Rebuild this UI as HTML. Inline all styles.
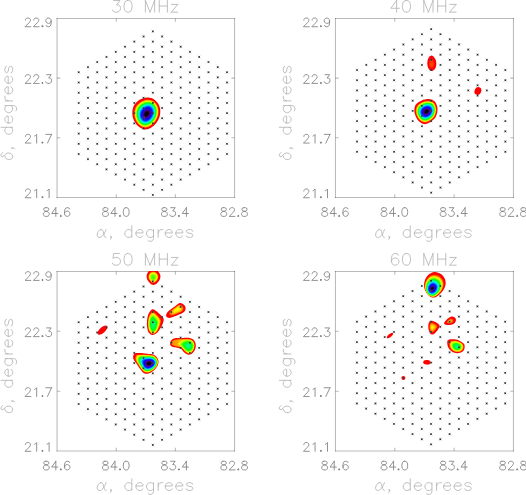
<!DOCTYPE html><html><head><meta charset="utf-8"><title>beams</title>
<style>html,body{margin:0;padding:0;background:#fff;font-family:"Liberation Sans",sans-serif}svg{display:block}</style></head><body>
<svg width="526" height="495" viewBox="0 0 526 495">
<rect width="526" height="495" fill="#fff"/>
<defs>
<g id="mk"><path d="M-1.4 -1.4L1.4 1.4M-1.4 1.4L1.4 -1.4" stroke="#999" stroke-width="0.45" fill="none"/><rect x="-0.8" y="-0.8" width="1.6" height="1.6" fill="#303030"/></g>
<clipPath id="cp0"><rect x="56.55" y="17.95" width="178.70" height="180.30"/></clipPath>
<clipPath id="cp1"><rect x="334.95" y="17.95" width="178.70" height="180.30"/></clipPath>
<clipPath id="cp2"><rect x="56.55" y="271.00" width="178.70" height="180.30"/></clipPath>
<clipPath id="cp3"><rect x="334.95" y="271.00" width="178.70" height="180.30"/></clipPath>
</defs>
<g stroke="#000" stroke-opacity="0.27" stroke-width="1.05" fill="none">
<path d="M56.55 18.45H235.05"/><path d="M56.55 197.45H235.05"/><path d="M57.05 17.95V197.95"/><path d="M234.55 17.95V197.95"/>
<path d="M116.22 18.45v3.20 M116.22 197.45v-3.20 M57.05 78.12h3.20 M234.55 78.12h-3.20 M175.38 18.45v3.20 M175.38 197.45v-3.20 M57.05 137.78h3.20 M234.55 137.78h-3.20"/>
</g>
<g clip-path="url(#cp0)">
<path d="M148.2 97.5C150.1 97.7 152.3 98.2 154.1 99.4C155.8 100.5 157.6 102.5 158.6 104.4C159.7 106.3 160.2 108.5 160.3 110.7C160.3 113.0 160.0 115.7 159.1 118.0C158.2 120.3 156.6 122.6 155.0 124.4C153.4 126.1 151.4 127.6 149.5 128.5C147.7 129.3 145.9 129.7 144.1 129.4C142.3 129.1 140.3 128.1 138.6 126.6C137.0 125.2 135.2 122.9 134.1 120.7C133.0 118.5 132.3 115.9 132.3 113.5C132.2 111.0 132.7 108.2 133.6 106.2C134.5 104.1 136.2 102.5 137.7 101.2C139.2 99.9 141.0 99.1 142.7 98.5C144.5 97.8 146.3 97.4 148.2 97.5Z" fill="#ff0000"/>
<path d="M148.0 99.5C149.7 99.6 151.7 100.0 153.3 101.0C154.8 102.0 156.4 103.7 157.3 105.4C158.2 107.1 158.7 109.1 158.7 111.1C158.8 113.1 158.4 115.5 157.6 117.5C156.8 119.5 155.4 121.6 154.0 123.1C152.6 124.6 150.8 126.0 149.2 126.7C147.6 127.5 146.0 127.9 144.4 127.6C142.8 127.4 141.0 126.6 139.5 125.3C138.0 124.1 136.4 121.9 135.5 120.0C134.6 118.0 134.1 115.6 134.1 113.5C134.1 111.4 134.6 109.0 135.4 107.2C136.2 105.5 137.6 104.0 139.0 102.9C140.3 101.8 141.7 101.0 143.2 100.4C144.8 99.9 146.3 99.4 148.0 99.5Z" fill="#ff5700"/>
<path d="M148.0 100.1C149.6 100.2 151.5 100.6 153.0 101.5C154.5 102.4 156.1 104.1 156.9 105.7C157.8 107.4 158.2 109.3 158.2 111.2C158.2 113.1 157.9 115.4 157.1 117.3C156.4 119.3 155.0 121.2 153.7 122.7C152.4 124.2 150.6 125.4 149.1 126.2C147.6 126.9 146.1 127.3 144.5 127.1C142.9 126.9 141.2 126.1 139.7 124.9C138.3 123.7 136.8 121.6 136.0 119.7C135.1 117.8 134.7 115.6 134.7 113.5C134.7 111.5 135.2 109.2 136.0 107.6C136.8 105.9 138.1 104.5 139.3 103.4C140.6 102.4 142.0 101.6 143.4 101.1C144.9 100.5 146.4 100.1 148.0 100.1Z" fill="#ffb700"/>
<path d="M147.9 100.8C149.4 100.8 151.3 101.1 152.8 102.0C154.2 102.9 155.7 104.5 156.5 106.1C157.3 107.6 157.7 109.5 157.7 111.3C157.7 113.2 157.4 115.4 156.6 117.2C155.9 119.0 154.6 120.9 153.4 122.3C152.1 123.7 150.5 124.9 149.0 125.6C147.5 126.3 146.1 126.7 144.6 126.5C143.1 126.3 141.4 125.6 140.0 124.5C138.7 123.3 137.2 121.3 136.4 119.5C135.6 117.7 135.3 115.5 135.3 113.5C135.3 111.6 135.8 109.5 136.6 107.9C137.3 106.3 138.5 105.0 139.7 104.0C140.9 102.9 142.2 102.2 143.6 101.7C144.9 101.1 146.4 100.7 147.9 100.8Z" fill="#f8ff00"/>
<path d="M147.9 101.4C149.3 101.4 151.1 101.7 152.5 102.5C153.9 103.4 155.3 104.9 156.1 106.4C156.9 107.9 157.2 109.7 157.2 111.4C157.2 113.2 156.9 115.3 156.2 117.0C155.5 118.8 154.3 120.5 153.1 121.9C151.8 123.2 150.3 124.4 148.9 125.1C147.5 125.7 146.1 126.1 144.7 125.9C143.3 125.8 141.6 125.2 140.3 124.0C139.0 122.9 137.6 121.0 136.9 119.2C136.1 117.5 135.8 115.4 135.9 113.6C135.9 111.7 136.4 109.7 137.1 108.2C137.8 106.7 139.0 105.5 140.1 104.5C141.2 103.5 142.4 102.8 143.7 102.3C145.0 101.8 146.4 101.3 147.9 101.4Z" fill="#afff00"/>
<path d="M147.8 102.0C149.2 102.0 150.9 102.3 152.2 103.1C153.5 103.9 154.9 105.4 155.6 106.8C156.4 108.2 156.7 109.9 156.7 111.6C156.7 113.2 156.4 115.2 155.7 116.9C155.0 118.5 153.9 120.2 152.7 121.5C151.6 122.8 150.1 123.9 148.8 124.5C147.5 125.2 146.2 125.5 144.8 125.4C143.4 125.2 141.8 124.7 140.6 123.6C139.3 122.5 138.0 120.7 137.3 119.0C136.6 117.3 136.4 115.3 136.4 113.6C136.5 111.8 137.0 110.0 137.6 108.5C138.3 107.1 139.4 105.9 140.5 105.0C141.5 104.1 142.7 103.4 143.9 102.9C145.1 102.4 146.4 102.0 147.8 102.0Z" fill="#5bff00"/>
<path d="M147.8 102.6C149.1 102.6 150.7 102.8 152.0 103.6C153.2 104.3 154.5 105.8 155.2 107.1C155.9 108.5 156.2 110.1 156.2 111.7C156.2 113.3 155.9 115.1 155.2 116.7C154.6 118.3 153.5 119.9 152.4 121.1C151.3 122.3 150.0 123.4 148.7 124.0C147.4 124.6 146.2 124.9 144.9 124.8C143.6 124.7 142.1 124.2 140.9 123.2C139.7 122.1 138.4 120.3 137.8 118.7C137.1 117.2 136.9 115.3 137.0 113.6C137.1 111.9 137.5 110.2 138.2 108.8C138.8 107.5 139.8 106.4 140.8 105.5C141.8 104.6 142.9 104.0 144.1 103.5C145.2 103.0 146.4 102.6 147.8 102.6Z" fill="#02ff00"/>
<path d="M147.7 103.2C149.0 103.2 150.5 103.4 151.7 104.1C152.9 104.8 154.1 106.2 154.8 107.5C155.5 108.7 155.7 110.3 155.7 111.8C155.7 113.3 155.4 115.1 154.8 116.6C154.2 118.0 153.2 119.6 152.1 120.7C151.1 121.8 149.8 122.8 148.6 123.4C147.4 124.0 146.2 124.4 145.0 124.2C143.7 124.1 142.3 123.7 141.2 122.7C140.0 121.7 138.8 120.0 138.2 118.5C137.6 117.0 137.5 115.2 137.6 113.6C137.6 112.1 138.1 110.4 138.7 109.1C139.3 107.9 140.3 106.9 141.2 106.0C142.1 105.2 143.1 104.6 144.2 104.1C145.3 103.6 146.5 103.2 147.7 103.2Z" fill="#00ff46"/>
<path d="M147.7 103.8C148.8 103.8 150.3 104.0 151.4 104.6C152.6 105.3 153.7 106.6 154.4 107.8C155.0 109.0 155.2 110.5 155.2 111.9C155.2 113.4 154.9 115.0 154.3 116.4C153.8 117.8 152.8 119.2 151.8 120.3C150.8 121.4 149.6 122.3 148.5 122.9C147.4 123.5 146.3 123.8 145.1 123.7C143.9 123.6 142.5 123.2 141.4 122.2C140.4 121.3 139.3 119.7 138.7 118.2C138.2 116.8 138.0 115.1 138.1 113.6C138.2 112.2 138.6 110.6 139.2 109.4C139.8 108.3 140.7 107.3 141.5 106.5C142.4 105.7 143.4 105.1 144.4 104.7C145.4 104.2 146.5 103.8 147.7 103.8Z" fill="#00ff90"/>
<path d="M147.6 104.4C148.7 104.4 150.1 104.6 151.2 105.2C152.2 105.8 153.3 107.0 153.9 108.2C154.5 109.3 154.7 110.7 154.7 112.0C154.7 113.4 154.4 114.9 153.9 116.3C153.3 117.6 152.4 118.9 151.5 119.9C150.6 120.9 149.4 121.8 148.4 122.3C147.3 122.9 146.3 123.2 145.2 123.1C144.1 123.0 142.7 122.6 141.7 121.8C140.7 120.9 139.7 119.4 139.2 118.0C138.7 116.6 138.6 115.0 138.7 113.7C138.8 112.3 139.2 110.9 139.7 109.7C140.2 108.6 141.1 107.7 141.9 107.0C142.7 106.3 143.6 105.7 144.5 105.3C145.5 104.8 146.5 104.5 147.6 104.4Z" fill="#00ffe0"/>
<path d="M147.5 105.0C148.6 105.0 149.9 105.1 150.9 105.7C151.9 106.3 152.9 107.4 153.5 108.5C154.1 109.6 154.2 110.9 154.2 112.2C154.2 113.4 153.9 114.9 153.4 116.1C152.9 117.3 152.1 118.6 151.2 119.5C150.4 120.5 149.3 121.3 148.3 121.8C147.3 122.3 146.3 122.6 145.3 122.5C144.2 122.5 143.0 122.1 142.0 121.3C141.1 120.5 140.1 119.0 139.6 117.7C139.2 116.5 139.1 115.0 139.2 113.7C139.3 112.4 139.7 111.1 140.2 110.0C140.7 109.0 141.5 108.2 142.2 107.5C143.0 106.8 143.8 106.3 144.7 105.9C145.6 105.5 146.5 105.1 147.5 105.0Z" fill="#00d5ff"/>
<path d="M147.5 105.7C148.5 105.6 149.7 105.7 150.6 106.2C151.6 106.8 152.5 107.8 153.1 108.9C153.6 109.9 153.7 111.1 153.7 112.3C153.7 113.5 153.4 114.8 152.9 116.0C152.5 117.1 151.7 118.2 150.9 119.1C150.1 120.0 149.1 120.8 148.2 121.3C147.3 121.7 146.4 122.0 145.4 122.0C144.4 121.9 143.2 121.6 142.3 120.9C141.5 120.1 140.5 118.7 140.1 117.5C139.7 116.3 139.6 114.9 139.7 113.7C139.8 112.5 140.2 111.3 140.7 110.3C141.2 109.4 141.9 108.6 142.6 108.0C143.2 107.3 144.0 106.8 144.8 106.4C145.7 106.0 146.5 105.7 147.5 105.7Z" fill="#0092ff"/>
<path d="M147.4 106.3C148.3 106.2 149.5 106.3 150.4 106.8C151.2 107.3 152.2 108.3 152.6 109.2C153.1 110.1 153.3 111.3 153.2 112.4C153.2 113.5 152.9 114.7 152.5 115.8C152.1 116.9 151.3 117.9 150.6 118.7C149.9 119.6 148.9 120.3 148.1 120.7C147.2 121.2 146.4 121.5 145.5 121.4C144.6 121.3 143.5 121.1 142.6 120.4C141.8 119.7 141.0 118.4 140.6 117.2C140.2 116.1 140.2 114.8 140.3 113.7C140.4 112.6 140.8 111.5 141.2 110.6C141.6 109.7 142.3 109.0 142.9 108.4C143.5 107.8 144.2 107.4 145.0 107.0C145.7 106.6 146.5 106.3 147.4 106.3Z" fill="#005bff"/>
<path d="M147.4 106.9C148.2 106.8 149.3 106.9 150.1 107.3C150.9 107.8 151.8 108.7 152.2 109.6C152.6 110.4 152.8 111.5 152.7 112.5C152.7 113.5 152.4 114.7 152.0 115.6C151.6 116.6 151.0 117.6 150.3 118.4C149.6 119.1 148.8 119.8 148.0 120.2C147.2 120.6 146.4 120.9 145.6 120.8C144.7 120.8 143.7 120.6 142.9 119.9C142.2 119.3 141.4 118.0 141.0 117.0C140.7 116.0 140.7 114.7 140.8 113.7C140.9 112.7 141.3 111.7 141.7 110.9C142.1 110.1 142.6 109.4 143.2 108.9C143.8 108.3 144.4 107.9 145.1 107.6C145.8 107.2 146.6 106.9 147.4 106.9Z" fill="#0031ff"/>
<path d="M147.3 107.5C148.1 107.4 149.1 107.4 149.8 107.9C150.6 108.3 151.3 109.1 151.7 109.9C152.1 110.7 152.3 111.7 152.2 112.6C152.2 113.6 152.0 114.6 151.6 115.5C151.2 116.4 150.6 117.3 150.0 118.0C149.4 118.7 148.6 119.3 147.9 119.7C147.2 120.0 146.5 120.3 145.7 120.3C144.9 120.2 143.9 120.0 143.2 119.4C142.6 118.9 141.8 117.7 141.5 116.7C141.2 115.8 141.2 114.7 141.3 113.7C141.4 112.8 141.8 111.9 142.1 111.2C142.5 110.4 143.0 109.9 143.5 109.3C144.1 108.8 144.6 108.4 145.3 108.1C145.9 107.8 146.6 107.5 147.3 107.5Z" fill="#0008ff"/>
<path d="M147.3 108.0C148.0 108.0 148.9 108.0 149.6 108.4C150.2 108.8 150.9 109.5 151.3 110.3C151.7 111.0 151.8 111.9 151.7 112.7C151.7 113.6 151.5 114.5 151.1 115.4C150.8 116.2 150.3 117.0 149.7 117.6C149.1 118.2 148.4 118.8 147.8 119.1C147.1 119.5 146.5 119.7 145.8 119.7C145.1 119.7 144.2 119.5 143.6 119.0C142.9 118.4 142.3 117.4 142.0 116.5C141.7 115.6 141.8 114.6 141.9 113.7C142.0 112.9 142.3 112.1 142.6 111.4C142.9 110.8 143.4 110.3 143.9 109.8C144.3 109.3 144.9 109.0 145.4 108.7C146.0 108.4 146.6 108.1 147.3 108.0Z" fill="#1700ec"/>
<path d="M147.2 108.6C147.9 108.6 148.7 108.6 149.3 108.9C149.9 109.3 150.5 110.0 150.9 110.6C151.2 111.3 151.3 112.1 151.2 112.9C151.2 113.6 151.0 114.5 150.7 115.2C150.4 115.9 149.9 116.7 149.4 117.2C148.9 117.8 148.3 118.3 147.7 118.6C147.1 118.9 146.5 119.1 145.9 119.1C145.3 119.1 144.4 119.0 143.9 118.5C143.3 118.0 142.7 117.0 142.5 116.2C142.2 115.4 142.3 114.5 142.4 113.8C142.5 113.0 142.8 112.3 143.1 111.7C143.4 111.1 143.8 110.6 144.2 110.2C144.6 109.8 145.1 109.5 145.6 109.2C146.1 109.0 146.6 108.7 147.2 108.6Z" fill="#3300d5"/>
<path d="M147.2 109.2C147.7 109.2 148.5 109.2 149.0 109.5C149.6 109.8 150.1 110.4 150.4 111.0C150.7 111.6 150.8 112.3 150.8 113.0C150.7 113.6 150.5 114.4 150.3 115.1C150.0 115.7 149.6 116.3 149.1 116.8C148.7 117.4 148.1 117.8 147.6 118.1C147.1 118.4 146.6 118.6 146.0 118.5C145.4 118.5 144.7 118.4 144.2 118.0C143.7 117.6 143.2 116.7 142.9 116.0C142.7 115.3 142.8 114.4 142.9 113.8C143.0 113.1 143.2 112.5 143.5 112.0C143.8 111.4 144.1 111.0 144.5 110.7C144.9 110.3 145.3 110.0 145.7 109.8C146.2 109.5 146.6 109.3 147.2 109.2Z" fill="#4000b0"/>
<path d="M147.1 109.8C147.6 109.8 148.3 109.8 148.7 110.0C149.2 110.3 149.7 110.8 150.0 111.3C150.2 111.9 150.3 112.5 150.3 113.1C150.2 113.7 150.1 114.3 149.8 114.9C149.6 115.5 149.2 116.0 148.8 116.5C148.4 116.9 147.9 117.3 147.5 117.5C147.0 117.8 146.6 118.0 146.1 118.0C145.6 118.0 144.9 117.9 144.5 117.5C144.1 117.1 143.6 116.3 143.4 115.7C143.2 115.1 143.3 114.4 143.4 113.8C143.5 113.2 143.7 112.7 143.9 112.2C144.2 111.8 144.5 111.4 144.8 111.1C145.1 110.8 145.5 110.5 145.9 110.3C146.2 110.1 146.7 109.9 147.1 109.8Z" fill="#460084"/>
<path d="M147.1 110.4C147.5 110.4 148.1 110.4 148.5 110.6C148.9 110.8 149.3 111.3 149.5 111.7C149.7 112.1 149.8 112.7 149.8 113.2C149.7 113.7 149.6 114.3 149.4 114.8C149.2 115.2 148.9 115.7 148.5 116.1C148.2 116.5 147.8 116.8 147.4 117.0C147.0 117.2 146.6 117.4 146.2 117.4C145.8 117.4 145.2 117.3 144.8 117.0C144.4 116.7 144.1 116.0 143.9 115.5C143.7 114.9 143.8 114.3 143.9 113.8C144.0 113.3 144.2 112.9 144.4 112.5C144.6 112.1 144.8 111.8 145.1 111.5C145.4 111.2 145.7 111.0 146.0 110.8C146.3 110.6 146.7 110.5 147.1 110.4Z" fill="#39005e"/>
<path d="M147.0 111.0C147.4 111.0 147.9 110.9 148.2 111.1C148.5 111.3 148.9 111.7 149.1 112.1C149.3 112.4 149.3 112.9 149.3 113.3C149.2 113.7 149.1 114.2 148.9 114.6C148.8 115.0 148.5 115.4 148.2 115.7C148.0 116.0 147.6 116.3 147.3 116.5C147.0 116.7 146.6 116.8 146.3 116.8C145.9 116.8 145.5 116.8 145.1 116.5C144.8 116.2 144.5 115.6 144.4 115.2C144.3 114.8 144.3 114.2 144.4 113.8C144.5 113.4 144.6 113.0 144.8 112.7C145.0 112.4 145.2 112.2 145.4 111.9C145.6 111.7 145.9 111.5 146.1 111.4C146.4 111.2 146.7 111.0 147.0 111.0Z" fill="#24003a"/>
<path d="M147.0 111.6C147.3 111.6 147.6 111.5 147.9 111.7C148.2 111.8 148.5 112.1 148.6 112.4C148.8 112.7 148.8 113.1 148.8 113.4C148.8 113.8 148.7 114.2 148.5 114.5C148.4 114.8 148.2 115.1 147.9 115.4C147.7 115.6 147.4 115.8 147.2 116.0C146.9 116.1 146.7 116.2 146.4 116.2C146.1 116.2 145.7 116.2 145.5 116.0C145.2 115.8 145.0 115.3 144.9 114.9C144.8 114.6 144.8 114.2 144.9 113.8C144.9 113.5 145.1 113.2 145.2 113.0C145.3 112.7 145.5 112.5 145.7 112.3C145.9 112.2 146.0 112.0 146.3 111.9C146.5 111.8 146.7 111.6 147.0 111.6Z" fill="#0f0017"/>
<path d="M146.9 112.2C147.2 112.1 147.4 112.1 147.6 112.2C147.8 112.3 148.1 112.6 148.2 112.8C148.3 113.0 148.3 113.3 148.3 113.6C148.3 113.8 148.2 114.1 148.1 114.3C148.0 114.6 147.8 114.8 147.7 115.0C147.5 115.2 147.3 115.3 147.1 115.5C146.9 115.6 146.7 115.6 146.5 115.6C146.3 115.6 146.0 115.6 145.8 115.5C145.6 115.3 145.4 115.0 145.3 114.7C145.3 114.4 145.3 114.1 145.4 113.9C145.4 113.6 145.5 113.4 145.6 113.2C145.7 113.0 145.8 112.9 146.0 112.7C146.1 112.6 146.2 112.5 146.4 112.4C146.6 112.3 146.7 112.2 146.9 112.2Z" fill="#09000d"/>
<path d="M146.9 112.7C147.0 112.7 147.2 112.7 147.4 112.8C147.5 112.9 147.6 113.0 147.7 113.2C147.8 113.3 147.8 113.5 147.8 113.7C147.8 113.8 147.7 114.0 147.7 114.2C147.6 114.3 147.5 114.5 147.4 114.6C147.3 114.8 147.1 114.9 147.0 114.9C146.9 115.0 146.7 115.1 146.6 115.1C146.5 115.1 146.3 115.1 146.1 114.9C146.0 114.8 145.9 114.6 145.8 114.4C145.8 114.2 145.8 114.0 145.9 113.9C145.9 113.7 146.0 113.6 146.0 113.4C146.1 113.3 146.2 113.2 146.3 113.1C146.3 113.0 146.4 113.0 146.5 112.9C146.6 112.8 146.8 112.8 146.9 112.7Z" fill="#050008"/>
<path d="M146.8 113.3C146.9 113.3 147.0 113.3 147.1 113.3C147.1 113.4 147.2 113.5 147.3 113.5C147.3 113.6 147.3 113.7 147.3 113.8C147.3 113.9 147.3 114.0 147.2 114.0C147.2 114.1 147.1 114.2 147.1 114.3C147.0 114.3 147.0 114.4 146.9 114.4C146.8 114.5 146.8 114.5 146.7 114.5C146.6 114.5 146.5 114.5 146.5 114.4C146.4 114.4 146.3 114.3 146.3 114.2C146.3 114.1 146.3 114.0 146.3 113.9C146.3 113.8 146.4 113.7 146.4 113.7C146.4 113.6 146.5 113.6 146.5 113.5C146.6 113.5 146.6 113.4 146.7 113.4C146.7 113.4 146.8 113.3 146.8 113.3Z" fill="#020003"/>
</g>
<g><use href="#mk" x="78.69" y="72.27"/><use href="#mk" x="78.69" y="82.49"/><use href="#mk" x="78.69" y="92.71"/><use href="#mk" x="78.69" y="102.93"/><use href="#mk" x="78.69" y="113.15"/><use href="#mk" x="78.69" y="123.37"/><use href="#mk" x="78.69" y="133.59"/><use href="#mk" x="78.69" y="143.81"/><use href="#mk" x="78.69" y="154.03"/><use href="#mk" x="87.96" y="67.16"/><use href="#mk" x="87.96" y="77.38"/><use href="#mk" x="87.96" y="87.60"/><use href="#mk" x="87.96" y="97.82"/><use href="#mk" x="87.96" y="108.04"/><use href="#mk" x="87.96" y="118.26"/><use href="#mk" x="87.96" y="128.48"/><use href="#mk" x="87.96" y="138.70"/><use href="#mk" x="87.96" y="148.92"/><use href="#mk" x="87.96" y="159.14"/><use href="#mk" x="97.23" y="62.05"/><use href="#mk" x="97.23" y="72.27"/><use href="#mk" x="97.23" y="82.49"/><use href="#mk" x="97.23" y="92.71"/><use href="#mk" x="97.23" y="102.93"/><use href="#mk" x="97.23" y="113.15"/><use href="#mk" x="97.23" y="123.37"/><use href="#mk" x="97.23" y="133.59"/><use href="#mk" x="97.23" y="143.81"/><use href="#mk" x="97.23" y="154.03"/><use href="#mk" x="97.23" y="164.25"/><use href="#mk" x="106.50" y="56.94"/><use href="#mk" x="106.50" y="67.16"/><use href="#mk" x="106.50" y="77.38"/><use href="#mk" x="106.50" y="87.60"/><use href="#mk" x="106.50" y="97.82"/><use href="#mk" x="106.50" y="108.04"/><use href="#mk" x="106.50" y="118.26"/><use href="#mk" x="106.50" y="128.48"/><use href="#mk" x="106.50" y="138.70"/><use href="#mk" x="106.50" y="148.92"/><use href="#mk" x="106.50" y="159.14"/><use href="#mk" x="106.50" y="169.36"/><use href="#mk" x="115.77" y="51.83"/><use href="#mk" x="115.77" y="62.05"/><use href="#mk" x="115.77" y="72.27"/><use href="#mk" x="115.77" y="82.49"/><use href="#mk" x="115.77" y="92.71"/><use href="#mk" x="115.77" y="102.93"/><use href="#mk" x="115.77" y="113.15"/><use href="#mk" x="115.77" y="123.37"/><use href="#mk" x="115.77" y="133.59"/><use href="#mk" x="115.77" y="143.81"/><use href="#mk" x="115.77" y="154.03"/><use href="#mk" x="115.77" y="164.25"/><use href="#mk" x="115.77" y="174.47"/><use href="#mk" x="125.04" y="46.72"/><use href="#mk" x="125.04" y="56.94"/><use href="#mk" x="125.04" y="67.16"/><use href="#mk" x="125.04" y="77.38"/><use href="#mk" x="125.04" y="87.60"/><use href="#mk" x="125.04" y="97.82"/><use href="#mk" x="125.04" y="108.04"/><use href="#mk" x="125.04" y="118.26"/><use href="#mk" x="125.04" y="128.48"/><use href="#mk" x="125.04" y="138.70"/><use href="#mk" x="125.04" y="148.92"/><use href="#mk" x="125.04" y="159.14"/><use href="#mk" x="125.04" y="169.36"/><use href="#mk" x="125.04" y="179.58"/><use href="#mk" x="134.31" y="41.61"/><use href="#mk" x="134.31" y="51.83"/><use href="#mk" x="134.31" y="62.05"/><use href="#mk" x="134.31" y="72.27"/><use href="#mk" x="134.31" y="82.49"/><use href="#mk" x="134.31" y="92.71"/><use href="#mk" x="134.31" y="102.93"/><use href="#mk" x="134.31" y="113.15"/><use href="#mk" x="134.31" y="123.37"/><use href="#mk" x="134.31" y="133.59"/><use href="#mk" x="134.31" y="143.81"/><use href="#mk" x="134.31" y="154.03"/><use href="#mk" x="134.31" y="164.25"/><use href="#mk" x="134.31" y="174.47"/><use href="#mk" x="134.31" y="184.69"/><use href="#mk" x="143.58" y="36.50"/><use href="#mk" x="143.58" y="46.72"/><use href="#mk" x="143.58" y="56.94"/><use href="#mk" x="143.58" y="67.16"/><use href="#mk" x="143.58" y="77.38"/><use href="#mk" x="143.58" y="87.60"/><use href="#mk" x="143.58" y="97.82"/><use href="#mk" x="143.58" y="108.04"/><use href="#mk" x="143.58" y="118.26"/><use href="#mk" x="143.58" y="128.48"/><use href="#mk" x="143.58" y="138.70"/><use href="#mk" x="143.58" y="148.92"/><use href="#mk" x="143.58" y="159.14"/><use href="#mk" x="143.58" y="169.36"/><use href="#mk" x="143.58" y="179.58"/><use href="#mk" x="143.58" y="189.80"/><use href="#mk" x="152.85" y="31.39"/><use href="#mk" x="152.85" y="41.61"/><use href="#mk" x="152.85" y="51.83"/><use href="#mk" x="152.85" y="62.05"/><use href="#mk" x="152.85" y="72.27"/><use href="#mk" x="152.85" y="82.49"/><use href="#mk" x="152.85" y="92.71"/><use href="#mk" x="152.85" y="102.93"/><use href="#mk" x="152.85" y="113.15"/><use href="#mk" x="152.85" y="123.37"/><use href="#mk" x="152.85" y="133.59"/><use href="#mk" x="152.85" y="143.81"/><use href="#mk" x="152.85" y="154.03"/><use href="#mk" x="152.85" y="164.25"/><use href="#mk" x="152.85" y="174.47"/><use href="#mk" x="152.85" y="184.69"/><use href="#mk" x="152.85" y="194.91"/><use href="#mk" x="162.12" y="36.50"/><use href="#mk" x="162.12" y="46.72"/><use href="#mk" x="162.12" y="56.94"/><use href="#mk" x="162.12" y="67.16"/><use href="#mk" x="162.12" y="77.38"/><use href="#mk" x="162.12" y="87.60"/><use href="#mk" x="162.12" y="97.82"/><use href="#mk" x="162.12" y="108.04"/><use href="#mk" x="162.12" y="118.26"/><use href="#mk" x="162.12" y="128.48"/><use href="#mk" x="162.12" y="138.70"/><use href="#mk" x="162.12" y="148.92"/><use href="#mk" x="162.12" y="159.14"/><use href="#mk" x="162.12" y="169.36"/><use href="#mk" x="162.12" y="179.58"/><use href="#mk" x="162.12" y="189.80"/><use href="#mk" x="171.39" y="41.61"/><use href="#mk" x="171.39" y="51.83"/><use href="#mk" x="171.39" y="62.05"/><use href="#mk" x="171.39" y="72.27"/><use href="#mk" x="171.39" y="82.49"/><use href="#mk" x="171.39" y="92.71"/><use href="#mk" x="171.39" y="102.93"/><use href="#mk" x="171.39" y="113.15"/><use href="#mk" x="171.39" y="123.37"/><use href="#mk" x="171.39" y="133.59"/><use href="#mk" x="171.39" y="143.81"/><use href="#mk" x="171.39" y="154.03"/><use href="#mk" x="171.39" y="164.25"/><use href="#mk" x="171.39" y="174.47"/><use href="#mk" x="171.39" y="184.69"/><use href="#mk" x="180.66" y="46.72"/><use href="#mk" x="180.66" y="56.94"/><use href="#mk" x="180.66" y="67.16"/><use href="#mk" x="180.66" y="77.38"/><use href="#mk" x="180.66" y="87.60"/><use href="#mk" x="180.66" y="97.82"/><use href="#mk" x="180.66" y="108.04"/><use href="#mk" x="180.66" y="118.26"/><use href="#mk" x="180.66" y="128.48"/><use href="#mk" x="180.66" y="138.70"/><use href="#mk" x="180.66" y="148.92"/><use href="#mk" x="180.66" y="159.14"/><use href="#mk" x="180.66" y="169.36"/><use href="#mk" x="180.66" y="179.58"/><use href="#mk" x="189.93" y="51.83"/><use href="#mk" x="189.93" y="62.05"/><use href="#mk" x="189.93" y="72.27"/><use href="#mk" x="189.93" y="82.49"/><use href="#mk" x="189.93" y="92.71"/><use href="#mk" x="189.93" y="102.93"/><use href="#mk" x="189.93" y="113.15"/><use href="#mk" x="189.93" y="123.37"/><use href="#mk" x="189.93" y="133.59"/><use href="#mk" x="189.93" y="143.81"/><use href="#mk" x="189.93" y="154.03"/><use href="#mk" x="189.93" y="164.25"/><use href="#mk" x="189.93" y="174.47"/><use href="#mk" x="199.20" y="56.94"/><use href="#mk" x="199.20" y="67.16"/><use href="#mk" x="199.20" y="77.38"/><use href="#mk" x="199.20" y="87.60"/><use href="#mk" x="199.20" y="97.82"/><use href="#mk" x="199.20" y="108.04"/><use href="#mk" x="199.20" y="118.26"/><use href="#mk" x="199.20" y="128.48"/><use href="#mk" x="199.20" y="138.70"/><use href="#mk" x="199.20" y="148.92"/><use href="#mk" x="199.20" y="159.14"/><use href="#mk" x="199.20" y="169.36"/><use href="#mk" x="208.47" y="62.05"/><use href="#mk" x="208.47" y="72.27"/><use href="#mk" x="208.47" y="82.49"/><use href="#mk" x="208.47" y="92.71"/><use href="#mk" x="208.47" y="102.93"/><use href="#mk" x="208.47" y="113.15"/><use href="#mk" x="208.47" y="123.37"/><use href="#mk" x="208.47" y="133.59"/><use href="#mk" x="208.47" y="143.81"/><use href="#mk" x="208.47" y="154.03"/><use href="#mk" x="208.47" y="164.25"/><use href="#mk" x="217.74" y="67.16"/><use href="#mk" x="217.74" y="77.38"/><use href="#mk" x="217.74" y="87.60"/><use href="#mk" x="217.74" y="97.82"/><use href="#mk" x="217.74" y="108.04"/><use href="#mk" x="217.74" y="118.26"/><use href="#mk" x="217.74" y="128.48"/><use href="#mk" x="217.74" y="138.70"/><use href="#mk" x="217.74" y="148.92"/><use href="#mk" x="217.74" y="159.14"/><use href="#mk" x="227.01" y="72.27"/><use href="#mk" x="227.01" y="82.49"/><use href="#mk" x="227.01" y="92.71"/><use href="#mk" x="227.01" y="102.93"/><use href="#mk" x="227.01" y="113.15"/><use href="#mk" x="227.01" y="123.37"/><use href="#mk" x="227.01" y="133.59"/><use href="#mk" x="227.01" y="143.81"/><use href="#mk" x="227.01" y="154.03"/></g>
<path d="M113.61 0.49 L119.96 0.49 L116.50 4.93 L118.23 4.93 L119.39 5.49 L119.96 6.04 L120.54 7.71 L120.54 8.82 L119.96 10.48 L118.81 11.59 L117.07 12.15 L115.34 12.15 L113.61 11.59 L113.03 11.04 L112.45 9.93 M127.48 0.49 L125.74 1.05 L124.59 2.71 L124.01 5.49 L124.01 7.15 L124.59 9.93 L125.74 11.59 L127.48 12.15 L128.63 12.15 L130.37 11.59 L131.52 9.93 L132.10 7.15 L132.10 5.49 L131.52 2.71 L130.37 1.05 L128.63 0.49 L127.48 0.49 M145.40 0.49 L145.40 12.15 M145.40 0.49 L150.02 12.15 M154.64 0.49 L150.02 12.15 M154.64 0.49 L154.64 12.15 M159.27 0.49 L159.27 12.15 M167.36 0.49 L167.36 12.15 M159.27 6.04 L167.36 6.04 M177.76 4.38 L171.41 12.15 M171.41 4.38 L177.76 4.38 M171.41 12.15 L177.76 12.15 M100.77 229.63 L99.59 230.18 L98.42 231.29 L97.84 232.40 L97.25 234.07 L97.25 235.73 L97.84 236.84 L99.01 237.40 L100.18 237.40 L101.35 236.84 L103.11 235.18 L104.28 233.51 L105.45 231.29 L106.04 229.63 M100.77 229.63 L101.94 229.63 L102.52 230.18 L103.11 231.29 L104.28 235.73 L104.87 236.84 L105.45 237.40 L106.04 237.40 M111.31 236.84 L110.73 237.40 L110.14 236.84 L110.73 236.29 L111.31 236.84 L111.31 237.95 L110.73 239.06 L110.14 239.62 M131.82 225.74 L131.82 237.40 M131.82 231.29 L130.65 230.18 L129.48 229.63 L127.72 229.63 L126.55 230.18 L125.38 231.29 L124.79 232.96 L124.79 234.07 L125.38 235.73 L126.55 236.84 L127.72 237.40 L129.48 237.40 L130.65 236.84 L131.82 235.73 M135.93 232.96 L142.96 232.96 L142.96 231.85 L142.37 230.74 L141.79 230.18 L140.61 229.63 L138.86 229.63 L137.68 230.18 L136.51 231.29 L135.93 232.96 L135.93 234.07 L136.51 235.73 L137.68 236.84 L138.86 237.40 L140.61 237.40 L141.79 236.84 L142.96 235.73 M153.51 229.63 L153.51 238.51 L152.92 240.17 L152.33 240.73 L151.16 241.28 L149.40 241.28 L148.23 240.73 M153.51 231.29 L152.33 230.18 L151.16 229.63 L149.40 229.63 L148.23 230.18 L147.06 231.29 L146.47 232.96 L146.47 234.07 L147.06 235.73 L148.23 236.84 L149.40 237.40 L151.16 237.40 L152.33 236.84 L153.51 235.73 M158.19 229.63 L158.19 237.40 M158.19 232.96 L158.78 231.29 L159.95 230.18 L161.12 229.63 L162.88 229.63 M165.23 232.96 L172.26 232.96 L172.26 231.85 L171.67 230.74 L171.09 230.18 L169.91 229.63 L168.16 229.63 L166.98 230.18 L165.81 231.29 L165.23 232.96 L165.23 234.07 L165.81 235.73 L166.98 236.84 L168.16 237.40 L169.91 237.40 L171.09 236.84 L172.26 235.73 M175.77 232.96 L182.81 232.96 L182.81 231.85 L182.22 230.74 L181.63 230.18 L180.46 229.63 L178.70 229.63 L177.53 230.18 L176.36 231.29 L175.77 232.96 L175.77 234.07 L176.36 235.73 L177.53 236.84 L178.70 237.40 L180.46 237.40 L181.63 236.84 L182.81 235.73 M192.77 231.29 L192.18 230.18 L190.42 229.63 L188.67 229.63 L186.91 230.18 L186.32 231.29 L186.91 232.40 L188.08 232.96 L191.01 233.51 L192.18 234.07 L192.77 235.18 L192.77 235.73 L192.18 236.84 L190.42 237.40 L188.67 237.40 L186.91 236.84 L186.32 235.73 M4.88 155.99 L5.43 157.75 L6.54 158.92 L8.21 159.51 L9.87 159.51 L11.54 158.92 L12.09 158.33 L12.65 157.16 L12.65 155.99 L12.09 154.82 L10.98 153.65 L9.32 153.06 L7.65 153.06 L5.99 153.65 L4.88 154.82 L3.77 155.99 L2.66 156.58 L1.55 156.58 L0.99 155.99 L0.99 154.82 L1.55 153.65 L2.66 152.47 M12.09 147.79 L12.65 148.37 L12.09 148.96 L11.54 148.37 L12.09 147.79 L13.20 147.79 L14.31 148.37 L14.87 148.96 M0.99 127.28 L12.65 127.28 M6.54 127.28 L5.43 128.45 L4.88 129.62 L4.88 131.38 L5.43 132.55 L6.54 133.72 L8.21 134.31 L9.32 134.31 L10.98 133.72 L12.10 132.55 L12.65 131.38 L12.65 129.62 L12.10 128.45 L10.98 127.28 M8.21 123.17 L8.21 116.14 L7.10 116.14 L5.99 116.73 L5.44 117.31 L4.88 118.49 L4.88 120.24 L5.43 121.42 L6.54 122.59 L8.21 123.17 L9.32 123.17 L10.98 122.59 L12.10 121.42 L12.65 120.24 L12.65 118.49 L12.10 117.31 L10.99 116.14 M4.88 105.59 L13.76 105.59 L15.43 106.18 L15.98 106.77 L16.54 107.94 L16.54 109.70 L15.98 110.87 M6.55 105.59 L5.44 106.77 L4.88 107.94 L4.88 109.70 L5.44 110.87 L6.55 112.04 L8.21 112.63 L9.32 112.63 L10.99 112.04 L12.10 110.87 L12.65 109.70 L12.65 107.94 L12.10 106.77 L10.99 105.59 M4.88 100.91 L12.65 100.91 M8.21 100.91 L6.55 100.32 L5.44 99.15 L4.88 97.98 L4.88 96.22 M8.21 93.87 L8.21 86.84 L7.10 86.84 L5.99 87.43 L5.44 88.01 L4.88 89.19 L4.88 90.94 L5.44 92.12 L6.55 93.29 L8.21 93.87 L9.32 93.87 L10.99 93.29 L12.10 92.12 L12.65 90.94 L12.65 89.19 L12.10 88.01 L10.99 86.84 M8.21 83.33 L8.21 76.29 L7.10 76.29 L5.99 76.88 L5.44 77.47 L4.88 78.64 L4.88 80.40 L5.44 81.57 L6.55 82.74 L8.21 83.33 L9.32 83.33 L10.99 82.74 L12.10 81.57 L12.65 80.40 L12.65 78.64 L12.10 77.47 L10.99 76.29 M6.55 66.33 L5.44 66.92 L4.88 68.68 L4.88 70.43 L5.44 72.19 L6.55 72.78 L7.66 72.19 L8.21 71.02 L8.77 68.09 L9.32 66.92 L10.43 66.33 L10.99 66.33 L12.10 66.92 L12.65 68.68 L12.65 70.43 L12.10 72.19 L10.99 72.78" stroke="#b4b4b4" stroke-width="0.85" fill="none" stroke-linecap="round" stroke-linejoin="round"/>
<path d="M25.46 20.11 L25.46 19.70 L25.87 18.87 L26.29 18.45 L27.12 18.04 L28.78 18.04 L29.61 18.45 L30.02 18.87 L30.44 19.70 L30.44 20.52 L30.02 21.36 L29.19 22.60 L25.04 26.75 L30.85 26.75 M33.76 20.11 L33.76 19.70 L34.17 18.87 L34.59 18.45 L35.42 18.04 L37.08 18.04 L37.91 18.45 L38.32 18.87 L38.74 19.70 L38.74 20.52 L38.32 21.36 L37.49 22.60 L33.34 26.75 L39.15 26.75 M42.47 25.84 L41.98 26.34 L42.47 26.83 L42.97 26.34 L42.47 25.84 M42.06 26.34 L42.89 26.34 M42.47 26.75 L42.47 25.92 M51.19 20.94 L50.77 22.19 L49.94 23.02 L48.70 23.43 L48.28 23.43 L47.04 23.02 L46.21 22.19 L45.79 20.94 L45.79 20.52 L46.21 19.28 L47.04 18.45 L48.28 18.04 L48.70 18.04 L49.94 18.45 L50.77 19.28 L51.19 20.94 L51.19 23.02 L50.77 25.09 L49.94 26.34 L48.70 26.75 L47.87 26.75 L46.62 26.34 L46.21 25.50 M25.46 76.78 L25.46 76.36 L25.87 75.53 L26.29 75.12 L27.12 74.70 L28.78 74.70 L29.61 75.12 L30.02 75.53 L30.44 76.36 L30.44 77.19 L30.02 78.02 L29.19 79.27 L25.04 83.42 L30.85 83.42 M33.76 76.78 L33.76 76.36 L34.17 75.53 L34.59 75.12 L35.42 74.70 L37.08 74.70 L37.91 75.12 L38.32 75.53 L38.74 76.36 L38.74 77.19 L38.32 78.02 L37.49 79.27 L33.34 83.42 L39.15 83.42 M42.47 82.50 L41.98 83.00 L42.47 83.50 L42.97 83.00 L42.47 82.50 M42.06 83.00 L42.89 83.00 M42.47 83.42 L42.47 82.59 M46.62 74.70 L51.19 74.70 L48.70 78.02 L49.94 78.02 L50.77 78.44 L51.19 78.85 L51.60 80.10 L51.60 80.93 L51.19 82.17 L50.36 83.00 L49.11 83.42 L47.87 83.42 L46.62 83.00 L46.21 82.59 L45.79 81.76 M25.46 136.44 L25.46 136.03 L25.87 135.20 L26.29 134.78 L27.12 134.37 L28.78 134.37 L29.61 134.78 L30.02 135.20 L30.44 136.03 L30.44 136.86 L30.02 137.69 L29.19 138.93 L25.04 143.08 L30.85 143.08 M34.59 136.03 L35.42 135.61 L36.66 134.37 L36.66 143.08 M42.47 142.17 L41.98 142.67 L42.47 143.17 L42.97 142.67 L42.47 142.17 M42.06 142.67 L42.89 142.67 M42.47 143.08 L42.47 142.25 M51.60 134.37 L47.45 143.08 M45.79 134.37 L51.60 134.37 M25.46 191.11 L25.46 190.69 L25.87 189.87 L26.29 189.45 L27.12 189.03 L28.78 189.03 L29.61 189.45 L30.02 189.87 L30.44 190.69 L30.44 191.53 L30.02 192.35 L29.19 193.60 L25.04 197.75 L30.85 197.75 M34.59 190.69 L35.42 190.28 L36.66 189.03 L36.66 197.75 M42.47 196.84 L41.98 197.34 L42.47 197.83 L42.97 197.34 L42.47 196.84 M42.06 197.34 L42.89 197.34 M42.47 197.75 L42.47 196.92 M47.04 190.69 L47.87 190.28 L49.11 189.03 L49.11 197.75 M45.45 207.68 L44.20 208.10 L43.78 208.93 L43.78 209.76 L44.20 210.59 L45.03 211.00 L46.69 211.42 L47.94 211.83 L48.77 212.66 L49.18 213.49 L49.18 214.74 L48.77 215.57 L48.35 215.98 L47.10 216.40 L45.45 216.40 L44.20 215.98 L43.78 215.57 L43.37 214.74 L43.37 213.49 L43.78 212.66 L44.62 211.83 L45.86 211.42 L47.52 211.00 L48.35 210.59 L48.77 209.76 L48.77 208.93 L48.35 208.10 L47.10 207.68 L45.45 207.68 M55.82 207.68 L51.67 213.49 L57.89 213.49 M55.82 207.68 L55.82 216.40 M60.80 215.49 L60.30 215.98 L60.80 216.48 L61.30 215.98 L60.80 215.49 M60.38 215.98 L61.22 215.98 M60.80 216.40 L60.80 215.57 M69.52 208.93 L69.10 208.10 L67.86 207.68 L67.03 207.68 L65.78 208.10 L64.95 209.34 L64.53 211.42 L64.53 213.49 L64.95 215.15 L65.78 215.98 L67.03 216.40 L67.44 216.40 L68.69 215.98 L69.52 215.15 L69.93 213.91 L69.93 213.49 L69.52 212.25 L68.69 211.42 L67.44 211.00 L67.03 211.00 L65.78 211.42 L64.95 212.25 L64.53 213.49 M104.61 207.68 L103.37 208.10 L102.95 208.93 L102.95 209.76 L103.37 210.59 L104.20 211.00 L105.86 211.42 L107.10 211.83 L107.93 212.66 L108.35 213.49 L108.35 214.74 L107.93 215.57 L107.52 215.98 L106.27 216.40 L104.61 216.40 L103.37 215.98 L102.95 215.57 L102.54 214.74 L102.54 213.49 L102.95 212.66 L103.78 211.83 L105.03 211.42 L106.69 211.00 L107.52 210.59 L107.93 209.76 L107.93 208.93 L107.52 208.10 L106.27 207.68 L104.61 207.68 M114.99 207.68 L110.84 213.49 L117.06 213.49 M114.99 207.68 L114.99 216.40 M119.97 215.49 L119.47 215.98 L119.97 216.48 L120.46 215.98 L119.97 215.49 M119.55 215.98 L120.38 215.98 M119.97 216.40 L119.97 215.57 M125.78 207.68 L124.53 208.10 L123.70 209.34 L123.29 211.42 L123.29 212.66 L123.70 214.74 L124.53 215.98 L125.78 216.40 L126.61 216.40 L127.85 215.98 L128.68 214.74 L129.10 212.66 L129.10 211.42 L128.68 209.34 L127.85 208.10 L126.61 207.68 L125.78 207.68 M163.57 207.68 L162.33 208.10 L161.91 208.93 L161.91 209.76 L162.33 210.59 L163.16 211.00 L164.82 211.42 L166.06 211.83 L166.89 212.66 L167.31 213.49 L167.31 214.74 L166.89 215.57 L166.48 215.98 L165.23 216.40 L163.57 216.40 L162.33 215.98 L161.91 215.57 L161.50 214.74 L161.50 213.49 L161.91 212.66 L162.74 211.83 L163.99 211.42 L165.65 211.00 L166.48 210.59 L166.89 209.76 L166.89 208.93 L166.48 208.10 L165.23 207.68 L163.57 207.68 M170.63 207.68 L175.19 207.68 L172.70 211.00 L173.95 211.00 L174.78 211.42 L175.19 211.83 L175.61 213.08 L175.61 213.91 L175.19 215.15 L174.36 215.98 L173.12 216.40 L171.87 216.40 L170.63 215.98 L170.21 215.57 L169.80 214.74 M178.93 215.49 L178.43 215.98 L178.93 216.48 L179.42 215.98 L178.93 215.49 M178.51 215.98 L179.34 215.98 M178.93 216.40 L178.93 215.57 M186.40 207.68 L182.25 213.49 L188.47 213.49 M186.40 207.68 L186.40 216.40 M222.94 207.68 L221.70 208.10 L221.28 208.93 L221.28 209.76 L221.70 210.59 L222.53 211.00 L224.19 211.42 L225.44 211.83 L226.26 212.66 L226.68 213.49 L226.68 214.74 L226.26 215.57 L225.85 215.98 L224.60 216.40 L222.94 216.40 L221.70 215.98 L221.28 215.57 L220.87 214.74 L220.87 213.49 L221.28 212.66 L222.12 211.83 L223.36 211.42 L225.02 211.00 L225.85 210.59 L226.26 209.76 L226.26 208.93 L225.85 208.10 L224.60 207.68 L222.94 207.68 M229.59 209.76 L229.59 209.34 L230.00 208.51 L230.41 208.10 L231.25 207.68 L232.91 207.68 L233.74 208.10 L234.15 208.51 L234.56 209.34 L234.56 210.17 L234.15 211.00 L233.32 212.25 L229.17 216.40 L234.98 216.40 M238.30 215.49 L237.80 215.98 L238.30 216.48 L238.80 215.98 L238.30 215.49 M237.88 215.98 L238.72 215.98 M238.30 216.40 L238.30 215.57 M243.69 207.68 L242.45 208.10 L242.03 208.93 L242.03 209.76 L242.45 210.59 L243.28 211.00 L244.94 211.42 L246.19 211.83 L247.01 212.66 L247.43 213.49 L247.43 214.74 L247.01 215.57 L246.60 215.98 L245.35 216.40 L243.69 216.40 L242.45 215.98 L242.03 215.57 L241.62 214.74 L241.62 213.49 L242.03 212.66 L242.87 211.83 L244.11 211.42 L245.77 211.00 L246.60 210.59 L247.01 209.76 L247.01 208.93 L246.60 208.10 L245.35 207.68 L243.69 207.68" stroke="#7e7e7e" stroke-width="0.85" fill="none" stroke-linecap="round" stroke-linejoin="round"/>
<g stroke="#000" stroke-opacity="0.27" stroke-width="1.05" fill="none">
<path d="M334.95 18.45H513.95"/><path d="M334.95 197.45H513.95"/><path d="M335.45 17.95V197.95"/><path d="M513.45 17.95V197.95"/>
<path d="M394.78 18.45v3.20 M394.78 197.45v-3.20 M335.45 78.12h3.20 M513.45 78.12h-3.20 M454.12 18.45v3.20 M454.12 197.45v-3.20 M335.45 137.78h3.20 M513.45 137.78h-3.20"/>
</g>
<g clip-path="url(#cp1)">
<path d="M427.7 99.1C429.5 99.0 430.9 99.4 432.3 100.0C433.6 100.6 434.8 101.1 435.7 102.7C436.6 104.3 437.6 107.1 437.5 109.5C437.5 112.0 436.7 115.2 435.5 117.3C434.2 119.4 431.9 121.1 430.0 122.3C428.1 123.4 426.0 124.3 424.1 124.1C422.2 123.9 420.1 122.4 418.6 120.9C417.2 119.4 415.9 117.0 415.2 115.0C414.5 113.0 414.2 110.9 414.4 109.1C414.6 107.3 415.1 105.5 416.4 104.1C417.6 102.7 419.9 101.3 421.8 100.5C423.7 99.6 426.0 99.2 427.7 99.1Z" fill="#ff0000"/>
<path d="M427.6 100.7C429.1 100.6 430.4 100.9 431.6 101.4C432.8 101.9 433.9 102.3 434.7 103.7C435.5 105.1 436.4 107.6 436.4 109.8C436.3 111.9 435.5 114.7 434.4 116.6C433.3 118.5 431.2 120.0 429.6 120.9C427.9 121.9 426.1 122.7 424.4 122.5C422.7 122.3 420.8 121.2 419.5 119.9C418.2 118.6 417.0 116.4 416.4 114.6C415.8 112.9 415.7 111.0 415.9 109.4C416.1 107.8 416.6 106.3 417.7 105.1C418.8 103.9 420.8 102.7 422.4 101.9C424.1 101.2 426.0 100.8 427.6 100.7Z" fill="#ff5700"/>
<path d="M427.5 101.2C429.0 101.1 430.2 101.4 431.3 101.9C432.5 102.3 433.6 102.7 434.3 104.1C435.1 105.4 436.0 107.8 436.0 109.8C436.0 111.9 435.2 114.6 434.1 116.4C433.0 118.2 431.0 119.6 429.4 120.5C427.8 121.5 426.1 122.2 424.5 122.0C422.9 121.8 421.1 120.8 419.8 119.5C418.5 118.3 417.4 116.2 416.8 114.5C416.2 112.8 416.1 111.0 416.4 109.5C416.6 108.0 417.1 106.6 418.2 105.4C419.2 104.2 421.1 103.1 422.6 102.4C424.2 101.7 426.1 101.3 427.5 101.2Z" fill="#ffb700"/>
<path d="M427.5 101.7C428.9 101.6 430.0 101.9 431.1 102.3C432.2 102.8 433.2 103.1 434.0 104.4C434.7 105.7 435.7 107.9 435.6 109.9C435.6 111.9 434.8 114.5 433.7 116.2C432.7 117.9 430.8 119.2 429.3 120.1C427.8 121.0 426.1 121.7 424.6 121.5C423.1 121.4 421.3 120.4 420.1 119.2C418.8 118.0 417.7 116.0 417.2 114.4C416.7 112.8 416.6 111.0 416.8 109.6C417.1 108.2 417.6 106.9 418.6 105.7C419.6 104.6 421.3 103.5 422.8 102.8C424.3 102.2 426.1 101.8 427.5 101.7Z" fill="#f8ff00"/>
<path d="M427.4 102.2C428.7 102.1 429.9 102.3 430.9 102.8C431.9 103.2 432.9 103.5 433.7 104.7C434.4 105.9 435.3 108.1 435.2 110.0C435.2 111.8 434.4 114.3 433.4 116.0C432.4 117.6 430.6 118.8 429.2 119.7C427.7 120.5 426.1 121.2 424.7 121.0C423.2 120.9 421.5 120.0 420.4 118.9C419.2 117.8 418.1 115.8 417.6 114.3C417.1 112.7 417.1 111.1 417.3 109.7C417.5 108.3 418.0 107.1 419.0 106.0C419.9 105.0 421.6 103.9 423.0 103.3C424.4 102.6 426.1 102.3 427.4 102.2Z" fill="#afff00"/>
<path d="M427.4 102.7C428.6 102.6 429.7 102.8 430.7 103.2C431.7 103.6 432.6 103.9 433.3 105.0C434.0 106.2 434.9 108.3 434.8 110.0C434.8 111.8 434.0 114.2 433.1 115.8C432.1 117.3 430.4 118.5 429.0 119.3C427.6 120.1 426.2 120.7 424.8 120.5C423.4 120.4 421.8 119.6 420.6 118.5C419.5 117.5 418.5 115.6 418.0 114.1C417.5 112.7 417.6 111.1 417.8 109.8C418.0 108.5 418.5 107.3 419.4 106.3C420.3 105.3 421.9 104.3 423.2 103.7C424.5 103.1 426.1 102.8 427.4 102.7Z" fill="#5bff00"/>
<path d="M427.3 103.2C428.5 103.1 429.5 103.3 430.5 103.6C431.4 104.0 432.3 104.3 433.0 105.4C433.6 106.5 434.5 108.4 434.5 110.1C434.4 111.8 433.7 114.1 432.7 115.5C431.8 117.0 430.2 118.1 428.9 118.9C427.6 119.6 426.2 120.2 424.9 120.0C423.5 119.9 422.0 119.2 420.9 118.2C419.8 117.2 418.9 115.4 418.4 114.0C418.0 112.6 418.0 111.1 418.3 109.9C418.5 108.7 418.9 107.6 419.8 106.6C420.7 105.7 422.1 104.8 423.4 104.2C424.6 103.6 426.1 103.3 427.3 103.2Z" fill="#02ff00"/>
<path d="M427.3 103.6C428.4 103.6 429.4 103.7 430.2 104.1C431.1 104.4 432.0 104.7 432.6 105.7C433.3 106.7 434.1 108.6 434.1 110.2C434.0 111.8 433.3 114.0 432.4 115.3C431.5 116.7 430.0 117.8 428.7 118.5C427.5 119.2 426.2 119.7 425.0 119.6C423.7 119.5 422.2 118.8 421.2 117.9C420.2 116.9 419.2 115.2 418.8 113.9C418.4 112.6 418.5 111.2 418.7 110.0C419.0 108.8 419.4 107.8 420.2 106.9C421.0 106.0 422.4 105.2 423.6 104.6C424.7 104.1 426.2 103.7 427.3 103.6Z" fill="#00ff46"/>
<path d="M427.2 104.1C428.3 104.0 429.2 104.2 430.0 104.5C430.9 104.8 431.7 105.1 432.3 106.0C432.9 107.0 433.7 108.8 433.7 110.3C433.6 111.8 432.9 113.8 432.1 115.1C431.2 116.4 429.8 117.4 428.6 118.1C427.4 118.7 426.2 119.2 425.1 119.1C423.9 119.0 422.5 118.4 421.5 117.5C420.5 116.6 419.6 115.0 419.2 113.8C418.8 112.5 419.0 111.2 419.2 110.1C419.4 109.0 419.8 108.1 420.6 107.2C421.4 106.4 422.6 105.6 423.7 105.0C424.9 104.5 426.2 104.2 427.2 104.1Z" fill="#00ff90"/>
<path d="M427.2 104.6C428.2 104.5 429.0 104.7 429.8 104.9C430.6 105.2 431.4 105.5 432.0 106.3C432.5 107.2 433.3 108.9 433.3 110.3C433.2 111.8 432.5 113.7 431.7 114.9C430.9 116.1 429.6 117.0 428.5 117.7C427.4 118.3 426.3 118.7 425.1 118.6C424.0 118.5 422.7 118.0 421.8 117.2C420.9 116.4 420.0 114.8 419.6 113.7C419.3 112.5 419.4 111.2 419.6 110.2C419.9 109.2 420.3 108.3 421.0 107.5C421.7 106.7 422.9 106.0 423.9 105.5C425.0 105.0 426.2 104.7 427.2 104.6Z" fill="#00ffe0"/>
<path d="M427.1 105.1C428.1 105.0 428.9 105.1 429.6 105.4C430.3 105.6 431.1 105.8 431.6 106.7C432.2 107.5 432.9 109.1 432.9 110.4C432.8 111.8 432.1 113.6 431.4 114.7C430.6 115.8 429.4 116.7 428.4 117.3C427.3 117.8 426.3 118.2 425.2 118.2C424.2 118.1 422.9 117.6 422.1 116.8C421.2 116.1 420.4 114.6 420.1 113.5C419.7 112.4 419.9 111.2 420.1 110.3C420.3 109.3 420.7 108.5 421.4 107.8C422.0 107.1 423.1 106.3 424.1 105.9C425.1 105.4 426.2 105.2 427.1 105.1Z" fill="#00d5ff"/>
<path d="M427.1 105.5C427.9 105.5 428.7 105.6 429.4 105.8C430.1 106.1 430.8 106.2 431.3 107.0C431.8 107.8 432.5 109.2 432.5 110.5C432.4 111.7 431.8 113.4 431.1 114.5C430.4 115.6 429.2 116.3 428.2 116.9C427.3 117.4 426.3 117.7 425.3 117.7C424.3 117.6 423.2 117.2 422.4 116.5C421.5 115.8 420.8 114.4 420.5 113.4C420.2 112.4 420.3 111.3 420.5 110.4C420.8 109.5 421.1 108.8 421.7 108.1C422.4 107.4 423.4 106.7 424.3 106.3C425.2 105.9 426.2 105.6 427.1 105.5Z" fill="#0092ff"/>
<path d="M427.0 106.0C427.8 105.9 428.5 106.0 429.2 106.2C429.8 106.5 430.5 106.6 430.9 107.3C431.4 108.1 432.1 109.4 432.1 110.6C432.0 111.7 431.4 113.3 430.7 114.3C430.1 115.3 429.0 116.0 428.1 116.5C427.2 117.0 426.3 117.3 425.4 117.2C424.5 117.2 423.4 116.8 422.6 116.2C421.9 115.5 421.2 114.2 420.9 113.3C420.6 112.3 420.8 111.3 421.0 110.5C421.2 109.6 421.5 109.0 422.1 108.4C422.7 107.7 423.6 107.1 424.4 106.7C425.3 106.3 426.3 106.1 427.0 106.0Z" fill="#005bff"/>
<path d="M427.0 106.5C427.7 106.4 428.4 106.5 429.0 106.7C429.6 106.9 430.2 107.0 430.6 107.7C431.0 108.3 431.7 109.6 431.6 110.6C431.6 111.7 431.0 113.2 430.4 114.1C429.8 115.0 428.8 115.6 428.0 116.1C427.2 116.5 426.3 116.8 425.5 116.8C424.7 116.7 423.6 116.4 422.9 115.8C422.2 115.2 421.6 114.0 421.3 113.2C421.1 112.3 421.2 111.3 421.4 110.6C421.6 109.8 422.0 109.2 422.5 108.6C423.0 108.1 423.9 107.5 424.6 107.1C425.4 106.8 426.3 106.5 427.0 106.5Z" fill="#0031ff"/>
<path d="M427.0 106.9C427.6 106.8 428.2 106.9 428.7 107.1C429.3 107.3 429.8 107.4 430.3 108.0C430.7 108.6 431.3 109.7 431.2 110.7C431.2 111.7 430.6 113.0 430.1 113.9C429.5 114.7 428.6 115.3 427.8 115.7C427.1 116.1 426.4 116.4 425.6 116.3C424.8 116.3 423.9 116.0 423.2 115.5C422.6 114.9 422.0 113.8 421.7 113.0C421.5 112.2 421.7 111.3 421.9 110.6C422.1 110.0 422.4 109.4 422.9 108.9C423.3 108.4 424.1 107.9 424.8 107.5C425.5 107.2 426.3 107.0 427.0 106.9Z" fill="#0008ff"/>
<path d="M426.9 107.4C427.5 107.3 428.0 107.3 428.5 107.5C429.0 107.7 429.5 107.8 429.9 108.3C430.3 108.9 430.8 109.9 430.8 110.8C430.8 111.7 430.3 112.9 429.7 113.7C429.2 114.4 428.4 114.9 427.7 115.3C427.0 115.7 426.4 115.9 425.7 115.9C425.0 115.8 424.1 115.6 423.5 115.1C422.9 114.6 422.4 113.6 422.2 112.9C422.0 112.2 422.1 111.4 422.3 110.7C422.5 110.1 422.8 109.6 423.2 109.2C423.7 108.7 424.3 108.2 425.0 107.9C425.6 107.6 426.3 107.4 426.9 107.4Z" fill="#1700ec"/>
<path d="M426.9 107.8C427.4 107.7 427.9 107.8 428.3 107.9C428.8 108.1 429.2 108.1 429.6 108.6C429.9 109.1 430.4 110.1 430.4 110.9C430.4 111.7 429.9 112.8 429.4 113.4C429.0 114.1 428.2 114.6 427.6 114.9C427.0 115.2 426.4 115.4 425.8 115.4C425.1 115.4 424.3 115.2 423.8 114.8C423.3 114.3 422.8 113.4 422.6 112.8C422.4 112.1 422.6 111.4 422.7 110.8C422.9 110.3 423.2 109.8 423.6 109.4C424.0 109.0 424.6 108.6 425.1 108.3C425.7 108.0 426.3 107.9 426.9 107.8Z" fill="#3300d5"/>
<path d="M426.8 108.2C427.3 108.2 427.7 108.2 428.1 108.3C428.5 108.5 428.9 108.5 429.2 109.0C429.5 109.4 430.0 110.2 430.0 111.0C430.0 111.7 429.5 112.6 429.1 113.2C428.7 113.8 428.0 114.2 427.5 114.5C426.9 114.8 426.4 115.0 425.8 115.0C425.3 115.0 424.6 114.8 424.1 114.4C423.6 114.0 423.2 113.2 423.0 112.6C422.9 112.1 423.0 111.4 423.2 110.9C423.3 110.4 423.6 110.1 423.9 109.7C424.3 109.3 424.8 108.9 425.3 108.7C425.8 108.5 426.4 108.3 426.8 108.2Z" fill="#4000b0"/>
<path d="M426.8 108.7C427.2 108.6 427.6 108.7 427.9 108.8C428.3 108.9 428.6 108.9 428.9 109.3C429.2 109.7 429.6 110.4 429.6 111.0C429.5 111.7 429.1 112.5 428.8 113.0C428.4 113.6 427.8 113.9 427.3 114.2C426.9 114.4 426.4 114.6 425.9 114.5C425.4 114.5 424.8 114.4 424.4 114.1C424.0 113.7 423.6 113.0 423.4 112.5C423.3 112.0 423.5 111.4 423.6 111.0C423.7 110.6 423.9 110.3 424.3 109.9C424.6 109.6 425.0 109.3 425.4 109.1C425.9 108.9 426.4 108.7 426.8 108.7Z" fill="#460084"/>
<path d="M426.7 109.1C427.1 109.1 427.4 109.1 427.7 109.2C428.0 109.3 428.3 109.3 428.6 109.6C428.8 109.9 429.1 110.6 429.1 111.1C429.1 111.6 428.8 112.4 428.4 112.8C428.1 113.3 427.6 113.6 427.2 113.8C426.8 114.0 426.4 114.1 426.0 114.1C425.6 114.1 425.1 114.0 424.7 113.7C424.3 113.4 424.0 112.8 423.9 112.4C423.8 111.9 423.9 111.5 424.0 111.1C424.1 110.7 424.3 110.5 424.6 110.2C424.9 109.9 425.2 109.6 425.6 109.5C426.0 109.3 426.4 109.1 426.7 109.1Z" fill="#39005e"/>
<path d="M426.7 109.5C427.0 109.5 427.3 109.5 427.5 109.6C427.8 109.6 428.0 109.7 428.2 110.0C428.4 110.2 428.7 110.7 428.7 111.2C428.7 111.6 428.4 112.3 428.1 112.6C427.8 113.0 427.4 113.2 427.1 113.4C426.8 113.6 426.4 113.7 426.1 113.7C425.7 113.7 425.3 113.6 425.0 113.4C424.7 113.1 424.4 112.6 424.3 112.3C424.2 111.9 424.3 111.5 424.4 111.2C424.6 110.9 424.7 110.7 424.9 110.4C425.1 110.2 425.5 110.0 425.8 109.8C426.0 109.7 426.4 109.6 426.7 109.5Z" fill="#24003a"/>
<path d="M426.7 110.0C426.9 109.9 427.1 109.9 427.3 110.0C427.5 110.0 427.7 110.1 427.9 110.3C428.0 110.5 428.3 110.9 428.3 111.3C428.2 111.6 428.0 112.1 427.8 112.4C427.6 112.7 427.2 112.9 427.0 113.0C426.7 113.2 426.5 113.3 426.2 113.3C425.9 113.3 425.5 113.2 425.3 113.0C425.1 112.8 424.8 112.4 424.7 112.1C424.7 111.8 424.8 111.5 424.9 111.3C425.0 111.0 425.1 110.9 425.2 110.7C425.4 110.5 425.7 110.3 425.9 110.2C426.1 110.1 426.4 110.0 426.7 110.0Z" fill="#0f0017"/>
<path d="M426.6 110.4C426.8 110.3 426.9 110.4 427.1 110.4C427.3 110.4 427.4 110.5 427.5 110.6C427.6 110.8 427.8 111.1 427.8 111.4C427.8 111.6 427.6 112.0 427.5 112.2C427.3 112.4 427.1 112.6 426.9 112.7C426.7 112.8 426.5 112.8 426.3 112.8C426.1 112.8 425.8 112.8 425.6 112.7C425.4 112.5 425.2 112.2 425.2 112.0C425.1 111.8 425.2 111.5 425.3 111.3C425.3 111.2 425.4 111.0 425.6 110.9C425.7 110.8 425.9 110.6 426.1 110.5C426.2 110.5 426.4 110.4 426.6 110.4Z" fill="#09000d"/>
<path d="M426.6 110.8C426.7 110.8 426.8 110.8 426.9 110.8C427.0 110.8 427.1 110.8 427.2 110.9C427.3 111.0 427.4 111.3 427.4 111.4C427.4 111.6 427.3 111.9 427.1 112.0C427.0 112.2 426.9 112.2 426.7 112.3C426.6 112.4 426.5 112.4 426.3 112.4C426.2 112.4 426.0 112.4 425.9 112.3C425.8 112.2 425.6 112.0 425.6 111.9C425.6 111.7 425.6 111.6 425.7 111.4C425.7 111.3 425.8 111.2 425.9 111.1C426.0 111.1 426.1 111.0 426.2 110.9C426.3 110.8 426.5 110.8 426.6 110.8Z" fill="#050008"/>
<path d="M426.5 111.2C426.6 111.2 426.6 111.2 426.7 111.2C426.7 111.2 426.8 111.2 426.8 111.3C426.9 111.3 426.9 111.4 426.9 111.5C426.9 111.6 426.9 111.7 426.8 111.8C426.8 111.9 426.7 111.9 426.6 112.0C426.6 112.0 426.5 112.0 426.4 112.0C426.4 112.0 426.3 112.0 426.2 112.0C426.1 111.9 426.1 111.8 426.1 111.7C426.0 111.7 426.1 111.6 426.1 111.5C426.1 111.5 426.2 111.4 426.2 111.4C426.2 111.3 426.3 111.3 426.4 111.3C426.4 111.2 426.5 111.2 426.5 111.2Z" fill="#020003"/>
<path d="M431.5 55.6C432.1 55.6 432.8 55.9 433.4 56.4C433.9 56.9 434.5 57.8 435.0 58.6C435.5 59.5 435.9 60.4 436.1 61.4C436.3 62.3 436.4 63.4 436.3 64.4C436.3 65.4 436.1 66.5 435.7 67.4C435.3 68.4 434.6 69.4 433.9 70.0C433.2 70.6 432.4 71.1 431.7 71.1C431.0 71.2 430.3 70.8 429.7 70.3C429.2 69.8 428.6 68.9 428.2 68.0C427.8 67.1 427.6 66.1 427.4 65.0C427.3 63.9 427.3 62.5 427.4 61.4C427.6 60.3 427.9 59.2 428.3 58.3C428.7 57.5 429.2 56.8 429.7 56.3C430.3 55.9 430.9 55.6 431.5 55.6Z" fill="#ff0000"/>
<path d="M431.4 59.6C431.8 59.6 432.2 59.7 432.5 60.0C432.8 60.3 433.1 60.8 433.4 61.2C433.6 61.7 433.9 62.2 434.0 62.7C434.1 63.3 434.2 63.8 434.1 64.4C434.1 65.0 434.0 65.5 433.7 66.1C433.5 66.6 433.1 67.2 432.8 67.5C432.4 67.8 431.9 68.1 431.5 68.1C431.2 68.1 430.8 67.9 430.5 67.7C430.2 67.4 429.9 66.9 429.6 66.4C429.4 65.9 429.3 65.3 429.2 64.7C429.1 64.1 429.1 63.3 429.2 62.7C429.3 62.1 429.5 61.5 429.7 61.1C429.9 60.6 430.2 60.2 430.5 60.0C430.8 59.7 431.1 59.6 431.4 59.6Z" fill="#ff2600"/>
<path d="M431.4 60.4C431.7 60.4 432.0 60.5 432.3 60.7C432.6 61.0 432.8 61.4 433.1 61.8C433.3 62.1 433.4 62.6 433.5 63.0C433.7 63.4 433.7 63.9 433.7 64.4C433.6 64.9 433.5 65.4 433.4 65.8C433.2 66.2 432.9 66.7 432.6 67.0C432.2 67.3 431.8 67.5 431.5 67.5C431.2 67.5 430.9 67.4 430.6 67.1C430.4 66.9 430.1 66.5 429.9 66.1C429.8 65.7 429.6 65.2 429.6 64.7C429.5 64.2 429.5 63.5 429.6 63.0C429.6 62.5 429.8 62.0 430.0 61.6C430.2 61.2 430.4 60.9 430.6 60.7C430.9 60.5 431.2 60.4 431.4 60.4Z" fill="#ff3300"/>
<path d="M431.4 61.2C431.7 61.2 431.9 61.3 432.1 61.5C432.3 61.6 432.6 62.0 432.7 62.3C432.9 62.6 433.0 62.9 433.1 63.3C433.2 63.6 433.2 64.0 433.2 64.4C433.2 64.8 433.1 65.2 433.0 65.5C432.8 65.9 432.6 66.2 432.3 66.5C432.1 66.7 431.8 66.8 431.5 66.9C431.2 66.9 431.0 66.8 430.8 66.6C430.6 66.4 430.4 66.1 430.2 65.7C430.1 65.4 430.0 65.0 429.9 64.6C429.9 64.2 429.9 63.7 429.9 63.3C430.0 62.9 430.1 62.5 430.3 62.2C430.4 61.9 430.6 61.6 430.8 61.4C431.0 61.3 431.2 61.2 431.4 61.2Z" fill="#ff3c00"/>
<path d="M431.4 62.0C431.6 62.0 431.8 62.1 431.9 62.2C432.1 62.3 432.3 62.6 432.4 62.8C432.5 63.0 432.6 63.3 432.7 63.6C432.8 63.8 432.8 64.1 432.8 64.4C432.7 64.7 432.7 65.0 432.6 65.2C432.5 65.5 432.3 65.8 432.1 65.9C431.9 66.1 431.7 66.2 431.5 66.2C431.3 66.3 431.1 66.2 430.9 66.0C430.8 65.9 430.6 65.6 430.5 65.4C430.4 65.2 430.3 64.9 430.3 64.6C430.3 64.3 430.3 63.9 430.3 63.6C430.3 63.3 430.5 63.0 430.6 62.7C430.7 62.5 430.8 62.3 430.9 62.2C431.1 62.1 431.3 62.0 431.4 62.0Z" fill="#ff4300"/>
<path d="M431.4 62.8C431.5 62.8 431.7 62.8 431.8 62.9C431.9 63.0 432.0 63.2 432.1 63.3C432.1 63.5 432.2 63.7 432.3 63.8C432.3 64.0 432.3 64.2 432.3 64.4C432.3 64.6 432.3 64.8 432.2 65.0C432.1 65.1 432.0 65.3 431.9 65.4C431.7 65.5 431.6 65.6 431.4 65.6C431.3 65.6 431.2 65.6 431.1 65.5C431.0 65.4 430.9 65.2 430.8 65.1C430.7 64.9 430.7 64.7 430.7 64.5C430.6 64.3 430.6 64.0 430.7 63.8C430.7 63.6 430.8 63.4 430.8 63.3C430.9 63.1 431.0 63.0 431.1 62.9C431.2 62.8 431.3 62.8 431.4 62.8Z" fill="#ff4600"/>
<path d="M431.4 63.6C431.5 63.6 431.5 63.6 431.6 63.7C431.6 63.7 431.7 63.8 431.7 63.9C431.8 63.9 431.8 64.0 431.8 64.1C431.9 64.2 431.9 64.3 431.9 64.4C431.8 64.5 431.8 64.6 431.8 64.7C431.8 64.8 431.7 64.9 431.6 64.9C431.6 65.0 431.5 65.0 431.4 65.0C431.4 65.0 431.3 65.0 431.2 64.9C431.2 64.9 431.1 64.8 431.1 64.7C431.1 64.7 431.0 64.6 431.0 64.5C431.0 64.4 431.0 64.2 431.0 64.1C431.0 64.0 431.1 63.9 431.1 63.8C431.2 63.8 431.2 63.7 431.2 63.7C431.3 63.6 431.4 63.6 431.4 63.6Z" fill="#ff4700"/>
<ellipse cx="477.90" cy="91.00" rx="3.30" ry="4.10" transform="rotate(20 477.90 91.00)" fill="#ff0000"/>
</g>
<g><use href="#mk" x="357.04" y="70.02"/><use href="#mk" x="357.04" y="80.24"/><use href="#mk" x="357.04" y="90.46"/><use href="#mk" x="357.04" y="100.68"/><use href="#mk" x="357.04" y="110.90"/><use href="#mk" x="357.04" y="121.12"/><use href="#mk" x="357.04" y="131.34"/><use href="#mk" x="357.04" y="141.56"/><use href="#mk" x="357.04" y="151.78"/><use href="#mk" x="366.31" y="64.91"/><use href="#mk" x="366.31" y="75.13"/><use href="#mk" x="366.31" y="85.35"/><use href="#mk" x="366.31" y="95.57"/><use href="#mk" x="366.31" y="105.79"/><use href="#mk" x="366.31" y="116.01"/><use href="#mk" x="366.31" y="126.23"/><use href="#mk" x="366.31" y="136.45"/><use href="#mk" x="366.31" y="146.67"/><use href="#mk" x="366.31" y="156.89"/><use href="#mk" x="375.58" y="59.80"/><use href="#mk" x="375.58" y="70.02"/><use href="#mk" x="375.58" y="80.24"/><use href="#mk" x="375.58" y="90.46"/><use href="#mk" x="375.58" y="100.68"/><use href="#mk" x="375.58" y="110.90"/><use href="#mk" x="375.58" y="121.12"/><use href="#mk" x="375.58" y="131.34"/><use href="#mk" x="375.58" y="141.56"/><use href="#mk" x="375.58" y="151.78"/><use href="#mk" x="375.58" y="162.00"/><use href="#mk" x="384.85" y="54.69"/><use href="#mk" x="384.85" y="64.91"/><use href="#mk" x="384.85" y="75.13"/><use href="#mk" x="384.85" y="85.35"/><use href="#mk" x="384.85" y="95.57"/><use href="#mk" x="384.85" y="105.79"/><use href="#mk" x="384.85" y="116.01"/><use href="#mk" x="384.85" y="126.23"/><use href="#mk" x="384.85" y="136.45"/><use href="#mk" x="384.85" y="146.67"/><use href="#mk" x="384.85" y="156.89"/><use href="#mk" x="384.85" y="167.11"/><use href="#mk" x="394.12" y="49.58"/><use href="#mk" x="394.12" y="59.80"/><use href="#mk" x="394.12" y="70.02"/><use href="#mk" x="394.12" y="80.24"/><use href="#mk" x="394.12" y="90.46"/><use href="#mk" x="394.12" y="100.68"/><use href="#mk" x="394.12" y="110.90"/><use href="#mk" x="394.12" y="121.12"/><use href="#mk" x="394.12" y="131.34"/><use href="#mk" x="394.12" y="141.56"/><use href="#mk" x="394.12" y="151.78"/><use href="#mk" x="394.12" y="162.00"/><use href="#mk" x="394.12" y="172.22"/><use href="#mk" x="403.39" y="44.47"/><use href="#mk" x="403.39" y="54.69"/><use href="#mk" x="403.39" y="64.91"/><use href="#mk" x="403.39" y="75.13"/><use href="#mk" x="403.39" y="85.35"/><use href="#mk" x="403.39" y="95.57"/><use href="#mk" x="403.39" y="105.79"/><use href="#mk" x="403.39" y="116.01"/><use href="#mk" x="403.39" y="126.23"/><use href="#mk" x="403.39" y="136.45"/><use href="#mk" x="403.39" y="146.67"/><use href="#mk" x="403.39" y="156.89"/><use href="#mk" x="403.39" y="167.11"/><use href="#mk" x="403.39" y="177.33"/><use href="#mk" x="412.66" y="39.36"/><use href="#mk" x="412.66" y="49.58"/><use href="#mk" x="412.66" y="59.80"/><use href="#mk" x="412.66" y="70.02"/><use href="#mk" x="412.66" y="80.24"/><use href="#mk" x="412.66" y="90.46"/><use href="#mk" x="412.66" y="100.68"/><use href="#mk" x="412.66" y="110.90"/><use href="#mk" x="412.66" y="121.12"/><use href="#mk" x="412.66" y="131.34"/><use href="#mk" x="412.66" y="141.56"/><use href="#mk" x="412.66" y="151.78"/><use href="#mk" x="412.66" y="162.00"/><use href="#mk" x="412.66" y="172.22"/><use href="#mk" x="412.66" y="182.44"/><use href="#mk" x="421.93" y="34.25"/><use href="#mk" x="421.93" y="44.47"/><use href="#mk" x="421.93" y="54.69"/><use href="#mk" x="421.93" y="64.91"/><use href="#mk" x="421.93" y="75.13"/><use href="#mk" x="421.93" y="85.35"/><use href="#mk" x="421.93" y="95.57"/><use href="#mk" x="421.93" y="105.79"/><use href="#mk" x="421.93" y="116.01"/><use href="#mk" x="421.93" y="126.23"/><use href="#mk" x="421.93" y="136.45"/><use href="#mk" x="421.93" y="146.67"/><use href="#mk" x="421.93" y="156.89"/><use href="#mk" x="421.93" y="167.11"/><use href="#mk" x="421.93" y="177.33"/><use href="#mk" x="421.93" y="187.55"/><use href="#mk" x="431.20" y="29.14"/><use href="#mk" x="431.20" y="39.36"/><use href="#mk" x="431.20" y="49.58"/><use href="#mk" x="431.20" y="59.80"/><use href="#mk" x="431.20" y="70.02"/><use href="#mk" x="431.20" y="80.24"/><use href="#mk" x="431.20" y="90.46"/><use href="#mk" x="431.20" y="100.68"/><use href="#mk" x="431.20" y="110.90"/><use href="#mk" x="431.20" y="121.12"/><use href="#mk" x="431.20" y="131.34"/><use href="#mk" x="431.20" y="141.56"/><use href="#mk" x="431.20" y="151.78"/><use href="#mk" x="431.20" y="162.00"/><use href="#mk" x="431.20" y="172.22"/><use href="#mk" x="431.20" y="182.44"/><use href="#mk" x="431.20" y="192.66"/><use href="#mk" x="440.47" y="34.25"/><use href="#mk" x="440.47" y="44.47"/><use href="#mk" x="440.47" y="54.69"/><use href="#mk" x="440.47" y="64.91"/><use href="#mk" x="440.47" y="75.13"/><use href="#mk" x="440.47" y="85.35"/><use href="#mk" x="440.47" y="95.57"/><use href="#mk" x="440.47" y="105.79"/><use href="#mk" x="440.47" y="116.01"/><use href="#mk" x="440.47" y="126.23"/><use href="#mk" x="440.47" y="136.45"/><use href="#mk" x="440.47" y="146.67"/><use href="#mk" x="440.47" y="156.89"/><use href="#mk" x="440.47" y="167.11"/><use href="#mk" x="440.47" y="177.33"/><use href="#mk" x="440.47" y="187.55"/><use href="#mk" x="449.74" y="39.36"/><use href="#mk" x="449.74" y="49.58"/><use href="#mk" x="449.74" y="59.80"/><use href="#mk" x="449.74" y="70.02"/><use href="#mk" x="449.74" y="80.24"/><use href="#mk" x="449.74" y="90.46"/><use href="#mk" x="449.74" y="100.68"/><use href="#mk" x="449.74" y="110.90"/><use href="#mk" x="449.74" y="121.12"/><use href="#mk" x="449.74" y="131.34"/><use href="#mk" x="449.74" y="141.56"/><use href="#mk" x="449.74" y="151.78"/><use href="#mk" x="449.74" y="162.00"/><use href="#mk" x="449.74" y="172.22"/><use href="#mk" x="449.74" y="182.44"/><use href="#mk" x="459.01" y="44.47"/><use href="#mk" x="459.01" y="54.69"/><use href="#mk" x="459.01" y="64.91"/><use href="#mk" x="459.01" y="75.13"/><use href="#mk" x="459.01" y="85.35"/><use href="#mk" x="459.01" y="95.57"/><use href="#mk" x="459.01" y="105.79"/><use href="#mk" x="459.01" y="116.01"/><use href="#mk" x="459.01" y="126.23"/><use href="#mk" x="459.01" y="136.45"/><use href="#mk" x="459.01" y="146.67"/><use href="#mk" x="459.01" y="156.89"/><use href="#mk" x="459.01" y="167.11"/><use href="#mk" x="459.01" y="177.33"/><use href="#mk" x="468.28" y="49.58"/><use href="#mk" x="468.28" y="59.80"/><use href="#mk" x="468.28" y="70.02"/><use href="#mk" x="468.28" y="80.24"/><use href="#mk" x="468.28" y="90.46"/><use href="#mk" x="468.28" y="100.68"/><use href="#mk" x="468.28" y="110.90"/><use href="#mk" x="468.28" y="121.12"/><use href="#mk" x="468.28" y="131.34"/><use href="#mk" x="468.28" y="141.56"/><use href="#mk" x="468.28" y="151.78"/><use href="#mk" x="468.28" y="162.00"/><use href="#mk" x="468.28" y="172.22"/><use href="#mk" x="477.55" y="54.69"/><use href="#mk" x="477.55" y="64.91"/><use href="#mk" x="477.55" y="75.13"/><use href="#mk" x="477.55" y="85.35"/><use href="#mk" x="477.55" y="95.57"/><use href="#mk" x="477.55" y="105.79"/><use href="#mk" x="477.55" y="116.01"/><use href="#mk" x="477.55" y="126.23"/><use href="#mk" x="477.55" y="136.45"/><use href="#mk" x="477.55" y="146.67"/><use href="#mk" x="477.55" y="156.89"/><use href="#mk" x="477.55" y="167.11"/><use href="#mk" x="486.82" y="59.80"/><use href="#mk" x="486.82" y="70.02"/><use href="#mk" x="486.82" y="80.24"/><use href="#mk" x="486.82" y="90.46"/><use href="#mk" x="486.82" y="100.68"/><use href="#mk" x="486.82" y="110.90"/><use href="#mk" x="486.82" y="121.12"/><use href="#mk" x="486.82" y="131.34"/><use href="#mk" x="486.82" y="141.56"/><use href="#mk" x="486.82" y="151.78"/><use href="#mk" x="486.82" y="162.00"/><use href="#mk" x="496.09" y="64.91"/><use href="#mk" x="496.09" y="75.13"/><use href="#mk" x="496.09" y="85.35"/><use href="#mk" x="496.09" y="95.57"/><use href="#mk" x="496.09" y="105.79"/><use href="#mk" x="496.09" y="116.01"/><use href="#mk" x="496.09" y="126.23"/><use href="#mk" x="496.09" y="136.45"/><use href="#mk" x="496.09" y="146.67"/><use href="#mk" x="496.09" y="156.89"/><use href="#mk" x="505.36" y="70.02"/><use href="#mk" x="505.36" y="80.24"/><use href="#mk" x="505.36" y="90.46"/><use href="#mk" x="505.36" y="100.68"/><use href="#mk" x="505.36" y="110.90"/><use href="#mk" x="505.36" y="121.12"/><use href="#mk" x="505.36" y="131.34"/><use href="#mk" x="505.36" y="141.56"/><use href="#mk" x="505.36" y="151.78"/></g>
<path d="M396.63 0.49 L390.85 8.26 L399.52 8.26 M396.63 0.49 L396.63 12.15 M405.88 0.49 L404.14 1.05 L402.99 2.71 L402.41 5.49 L402.41 7.15 L402.99 9.93 L404.14 11.59 L405.88 12.15 L407.03 12.15 L408.77 11.59 L409.92 9.93 L410.50 7.15 L410.50 5.49 L409.92 2.71 L408.77 1.05 L407.03 0.49 L405.88 0.49 M423.80 0.49 L423.80 12.15 M423.80 0.49 L428.42 12.15 M433.04 0.49 L428.42 12.15 M433.04 0.49 L433.04 12.15 M437.67 0.49 L437.67 12.15 M445.76 0.49 L445.76 12.15 M437.67 6.04 L445.76 6.04 M456.16 4.38 L449.81 12.15 M449.81 4.38 L456.16 4.38 M449.81 12.15 L456.16 12.15 M379.17 229.63 L377.99 230.18 L376.82 231.29 L376.24 232.40 L375.65 234.07 L375.65 235.73 L376.24 236.84 L377.41 237.40 L378.58 237.40 L379.75 236.84 L381.51 235.18 L382.68 233.51 L383.85 231.29 L384.44 229.63 M379.17 229.63 L380.34 229.63 L380.92 230.18 L381.51 231.29 L382.68 235.73 L383.27 236.84 L383.85 237.40 L384.44 237.40 M389.71 236.84 L389.13 237.40 L388.54 236.84 L389.13 236.29 L389.71 236.84 L389.71 237.95 L389.13 239.06 L388.54 239.62 M410.22 225.74 L410.22 237.40 M410.22 231.29 L409.05 230.18 L407.88 229.63 L406.12 229.63 L404.95 230.18 L403.78 231.29 L403.19 232.96 L403.19 234.07 L403.78 235.73 L404.95 236.84 L406.12 237.40 L407.88 237.40 L409.05 236.84 L410.22 235.73 M414.33 232.96 L421.36 232.96 L421.36 231.85 L420.77 230.74 L420.19 230.18 L419.01 229.63 L417.26 229.63 L416.08 230.18 L414.91 231.29 L414.33 232.96 L414.33 234.07 L414.91 235.73 L416.08 236.84 L417.26 237.40 L419.01 237.40 L420.19 236.84 L421.36 235.73 M431.91 229.63 L431.91 238.51 L431.32 240.17 L430.73 240.73 L429.56 241.28 L427.80 241.28 L426.63 240.73 M431.91 231.29 L430.73 230.18 L429.56 229.63 L427.80 229.63 L426.63 230.18 L425.46 231.29 L424.87 232.96 L424.87 234.07 L425.46 235.73 L426.63 236.84 L427.80 237.40 L429.56 237.40 L430.73 236.84 L431.91 235.73 M436.59 229.63 L436.59 237.40 M436.59 232.96 L437.18 231.29 L438.35 230.18 L439.52 229.63 L441.28 229.63 M443.63 232.96 L450.66 232.96 L450.66 231.85 L450.07 230.74 L449.49 230.18 L448.31 229.63 L446.56 229.63 L445.38 230.18 L444.21 231.29 L443.63 232.96 L443.63 234.07 L444.21 235.73 L445.38 236.84 L446.56 237.40 L448.31 237.40 L449.49 236.84 L450.66 235.73 M454.17 232.96 L461.21 232.96 L461.21 231.85 L460.62 230.74 L460.03 230.18 L458.86 229.63 L457.10 229.63 L455.93 230.18 L454.76 231.29 L454.17 232.96 L454.17 234.07 L454.76 235.73 L455.93 236.84 L457.10 237.40 L458.86 237.40 L460.03 236.84 L461.21 235.73 M471.17 231.29 L470.58 230.18 L468.82 229.63 L467.07 229.63 L465.31 230.18 L464.72 231.29 L465.31 232.40 L466.48 232.96 L469.41 233.51 L470.58 234.07 L471.17 235.18 L471.17 235.73 L470.58 236.84 L468.82 237.40 L467.07 237.40 L465.31 236.84 L464.72 235.73 M283.28 155.99 L283.84 157.75 L284.94 158.92 L286.61 159.51 L288.28 159.51 L289.94 158.92 L290.50 158.33 L291.05 157.16 L291.05 155.99 L290.50 154.82 L289.38 153.65 L287.72 153.06 L286.06 153.06 L284.39 153.65 L283.28 154.82 L282.17 155.99 L281.06 156.58 L279.95 156.58 L279.39 155.99 L279.39 154.82 L279.95 153.65 L281.06 152.47 M290.50 147.79 L291.05 148.37 L290.50 148.96 L289.94 148.37 L290.50 147.79 L291.61 147.79 L292.72 148.37 L293.27 148.96 M279.39 127.28 L291.05 127.28 M284.94 127.28 L283.84 128.45 L283.28 129.62 L283.28 131.38 L283.84 132.55 L284.94 133.72 L286.61 134.31 L287.72 134.31 L289.38 133.72 L290.50 132.55 L291.05 131.38 L291.05 129.62 L290.50 128.45 L289.38 127.28 M286.61 123.17 L286.61 116.14 L285.50 116.14 L284.39 116.73 L283.84 117.31 L283.28 118.49 L283.28 120.24 L283.84 121.42 L284.94 122.59 L286.61 123.17 L287.72 123.17 L289.38 122.59 L290.50 121.42 L291.05 120.24 L291.05 118.49 L290.50 117.31 L289.38 116.14 M283.28 105.59 L292.16 105.59 L293.82 106.18 L294.38 106.77 L294.94 107.94 L294.94 109.70 L294.38 110.87 M284.94 105.59 L283.84 106.77 L283.28 107.94 L283.28 109.70 L283.84 110.87 L284.94 112.04 L286.61 112.63 L287.72 112.63 L289.38 112.04 L290.50 110.87 L291.05 109.70 L291.05 107.94 L290.50 106.77 L289.38 105.59 M283.28 100.91 L291.05 100.91 M286.61 100.91 L284.94 100.32 L283.84 99.15 L283.28 97.98 L283.28 96.22 M286.61 93.87 L286.61 86.84 L285.50 86.84 L284.39 87.43 L283.84 88.01 L283.28 89.19 L283.28 90.94 L283.84 92.12 L284.94 93.29 L286.61 93.87 L287.72 93.87 L289.38 93.29 L290.50 92.12 L291.05 90.94 L291.05 89.19 L290.50 88.01 L289.38 86.84 M286.61 83.33 L286.61 76.29 L285.50 76.29 L284.39 76.88 L283.84 77.47 L283.28 78.64 L283.28 80.40 L283.84 81.57 L284.94 82.74 L286.61 83.33 L287.72 83.33 L289.38 82.74 L290.50 81.57 L291.05 80.40 L291.05 78.64 L290.50 77.47 L289.38 76.29 M284.94 66.33 L283.84 66.92 L283.28 68.68 L283.28 70.43 L283.84 72.19 L284.94 72.78 L286.06 72.19 L286.61 71.02 L287.17 68.09 L287.72 66.92 L288.83 66.33 L289.38 66.33 L290.50 66.92 L291.05 68.68 L291.05 70.43 L290.50 72.19 L289.38 72.78" stroke="#b4b4b4" stroke-width="0.85" fill="none" stroke-linecap="round" stroke-linejoin="round"/>
<path d="M303.86 20.11 L303.86 19.70 L304.27 18.87 L304.69 18.45 L305.52 18.04 L307.18 18.04 L308.01 18.45 L308.43 18.87 L308.84 19.70 L308.84 20.52 L308.43 21.36 L307.59 22.60 L303.44 26.75 L309.25 26.75 M312.16 20.11 L312.16 19.70 L312.57 18.87 L312.99 18.45 L313.82 18.04 L315.48 18.04 L316.31 18.45 L316.72 18.87 L317.14 19.70 L317.14 20.52 L316.72 21.36 L315.89 22.60 L311.75 26.75 L317.56 26.75 M320.88 25.84 L320.38 26.34 L320.88 26.83 L321.37 26.34 L320.88 25.84 M320.46 26.34 L321.29 26.34 M320.88 26.75 L320.88 25.92 M329.59 20.94 L329.18 22.19 L328.34 23.02 L327.10 23.43 L326.69 23.43 L325.44 23.02 L324.61 22.19 L324.19 20.94 L324.19 20.52 L324.61 19.28 L325.44 18.45 L326.69 18.04 L327.10 18.04 L328.34 18.45 L329.18 19.28 L329.59 20.94 L329.59 23.02 L329.18 25.09 L328.34 26.34 L327.10 26.75 L326.27 26.75 L325.02 26.34 L324.61 25.50 M303.86 76.78 L303.86 76.36 L304.27 75.53 L304.69 75.12 L305.52 74.70 L307.18 74.70 L308.01 75.12 L308.43 75.53 L308.84 76.36 L308.84 77.19 L308.43 78.02 L307.59 79.27 L303.44 83.42 L309.25 83.42 M312.16 76.78 L312.16 76.36 L312.57 75.53 L312.99 75.12 L313.82 74.70 L315.48 74.70 L316.31 75.12 L316.72 75.53 L317.14 76.36 L317.14 77.19 L316.72 78.02 L315.89 79.27 L311.75 83.42 L317.56 83.42 M320.88 82.50 L320.38 83.00 L320.88 83.50 L321.37 83.00 L320.88 82.50 M320.46 83.00 L321.29 83.00 M320.88 83.42 L320.88 82.59 M325.02 74.70 L329.59 74.70 L327.10 78.02 L328.34 78.02 L329.18 78.44 L329.59 78.85 L330.00 80.10 L330.00 80.93 L329.59 82.17 L328.76 83.00 L327.51 83.42 L326.27 83.42 L325.02 83.00 L324.61 82.59 L324.19 81.76 M303.86 136.44 L303.86 136.03 L304.27 135.20 L304.69 134.78 L305.52 134.37 L307.18 134.37 L308.01 134.78 L308.43 135.20 L308.84 136.03 L308.84 136.86 L308.43 137.69 L307.59 138.93 L303.44 143.08 L309.25 143.08 M312.99 136.03 L313.82 135.61 L315.06 134.37 L315.06 143.08 M320.88 142.17 L320.38 142.67 L320.88 143.17 L321.37 142.67 L320.88 142.17 M320.46 142.67 L321.29 142.67 M320.88 143.08 L320.88 142.25 M330.00 134.37 L325.85 143.08 M324.19 134.37 L330.00 134.37 M303.86 191.11 L303.86 190.69 L304.27 189.87 L304.69 189.45 L305.52 189.03 L307.18 189.03 L308.01 189.45 L308.43 189.87 L308.84 190.69 L308.84 191.53 L308.43 192.35 L307.59 193.60 L303.44 197.75 L309.25 197.75 M312.99 190.69 L313.82 190.28 L315.06 189.03 L315.06 197.75 M320.88 196.84 L320.38 197.34 L320.88 197.83 L321.37 197.34 L320.88 196.84 M320.46 197.34 L321.29 197.34 M320.88 197.75 L320.88 196.92 M325.44 190.69 L326.27 190.28 L327.51 189.03 L327.51 197.75 M323.85 207.68 L322.60 208.10 L322.19 208.93 L322.19 209.76 L322.60 210.59 L323.43 211.00 L325.09 211.42 L326.34 211.83 L327.17 212.66 L327.58 213.49 L327.58 214.74 L327.17 215.57 L326.75 215.98 L325.51 216.40 L323.85 216.40 L322.60 215.98 L322.19 215.57 L321.77 214.74 L321.77 213.49 L322.19 212.66 L323.02 211.83 L324.26 211.42 L325.92 211.00 L326.75 210.59 L327.17 209.76 L327.17 208.93 L326.75 208.10 L325.51 207.68 L323.85 207.68 M334.22 207.68 L330.07 213.49 L336.30 213.49 M334.22 207.68 L334.22 216.40 M339.20 215.49 L338.70 215.98 L339.20 216.48 L339.70 215.98 L339.20 215.49 M338.79 215.98 L339.62 215.98 M339.20 216.40 L339.20 215.57 M347.92 208.93 L347.50 208.10 L346.26 207.68 L345.43 207.68 L344.18 208.10 L343.35 209.34 L342.94 211.42 L342.94 213.49 L343.35 215.15 L344.18 215.98 L345.43 216.40 L345.84 216.40 L347.09 215.98 L347.92 215.15 L348.33 213.91 L348.33 213.49 L347.92 212.25 L347.09 211.42 L345.84 211.00 L345.43 211.00 L344.18 211.42 L343.35 212.25 L342.94 213.49 M383.18 207.68 L381.93 208.10 L381.52 208.93 L381.52 209.76 L381.93 210.59 L382.76 211.00 L384.42 211.42 L385.67 211.83 L386.50 212.66 L386.91 213.49 L386.91 214.74 L386.50 215.57 L386.08 215.98 L384.84 216.40 L383.18 216.40 L381.93 215.98 L381.52 215.57 L381.10 214.74 L381.10 213.49 L381.52 212.66 L382.35 211.83 L383.59 211.42 L385.25 211.00 L386.08 210.59 L386.50 209.76 L386.50 208.93 L386.08 208.10 L384.84 207.68 L383.18 207.68 M393.55 207.68 L389.40 213.49 L395.63 213.49 M393.55 207.68 L393.55 216.40 M398.53 215.49 L398.04 215.98 L398.53 216.48 L399.03 215.98 L398.53 215.49 M398.12 215.98 L398.95 215.98 M398.53 216.40 L398.53 215.57 M404.34 207.68 L403.10 208.10 L402.27 209.34 L401.85 211.42 L401.85 212.66 L402.27 214.74 L403.10 215.98 L404.34 216.40 L405.17 216.40 L406.42 215.98 L407.25 214.74 L407.66 212.66 L407.66 211.42 L407.25 209.34 L406.42 208.10 L405.17 207.68 L404.34 207.68 M442.30 207.68 L441.06 208.10 L440.64 208.93 L440.64 209.76 L441.06 210.59 L441.89 211.00 L443.55 211.42 L444.79 211.83 L445.62 212.66 L446.04 213.49 L446.04 214.74 L445.62 215.57 L445.21 215.98 L443.96 216.40 L442.30 216.40 L441.06 215.98 L440.64 215.57 L440.23 214.74 L440.23 213.49 L440.64 212.66 L441.47 211.83 L442.72 211.42 L444.38 211.00 L445.21 210.59 L445.62 209.76 L445.62 208.93 L445.21 208.10 L443.96 207.68 L442.30 207.68 M449.36 207.68 L453.92 207.68 L451.43 211.00 L452.68 211.00 L453.51 211.42 L453.92 211.83 L454.34 213.08 L454.34 213.91 L453.92 215.15 L453.09 215.98 L451.85 216.40 L450.60 216.40 L449.36 215.98 L448.94 215.57 L448.53 214.74 M457.66 215.49 L457.16 215.98 L457.66 216.48 L458.16 215.98 L457.66 215.49 M457.24 215.98 L458.07 215.98 M457.66 216.40 L457.66 215.57 M465.13 207.68 L460.98 213.49 L467.20 213.49 M465.13 207.68 L465.13 216.40 M501.85 207.68 L500.60 208.10 L500.19 208.93 L500.19 209.76 L500.60 210.59 L501.43 211.00 L503.09 211.42 L504.34 211.83 L505.17 212.66 L505.58 213.49 L505.58 214.74 L505.17 215.57 L504.75 215.98 L503.51 216.40 L501.85 216.40 L500.60 215.98 L500.19 215.57 L499.77 214.74 L499.77 213.49 L500.19 212.66 L501.02 211.83 L502.26 211.42 L503.92 211.00 L504.75 210.59 L505.17 209.76 L505.17 208.93 L504.75 208.10 L503.51 207.68 L501.85 207.68 M508.49 209.76 L508.49 209.34 L508.90 208.51 L509.32 208.10 L510.15 207.68 L511.81 207.68 L512.64 208.10 L513.05 208.51 L513.47 209.34 L513.47 210.17 L513.05 211.00 L512.22 212.25 L508.07 216.40 L513.88 216.40 M517.20 215.49 L516.70 215.98 L517.20 216.48 L517.70 215.98 L517.20 215.49 M516.79 215.98 L517.62 215.98 M517.20 216.40 L517.20 215.57 M522.60 207.68 L521.35 208.10 L520.94 208.93 L520.94 209.76 L521.35 210.59 L522.18 211.00 L523.84 211.42 L525.09 211.83 L525.92 212.66 L526.33 213.49 L526.33 214.74 L525.92 215.57 L525.50 215.98 L524.26 216.40 L522.60 216.40 L521.35 215.98 L520.94 215.57 L520.52 214.74 L520.52 213.49 L520.94 212.66 L521.77 211.83 L523.01 211.42 L524.67 211.00 L525.50 210.59 L525.92 209.76 L525.92 208.93 L525.50 208.10 L524.26 207.68 L522.60 207.68" stroke="#7e7e7e" stroke-width="0.85" fill="none" stroke-linecap="round" stroke-linejoin="round"/>
<g stroke="#000" stroke-opacity="0.27" stroke-width="1.05" fill="none">
<path d="M56.55 271.50H235.05"/><path d="M56.55 451.00H235.05"/><path d="M57.05 271.00V451.50"/><path d="M234.55 271.00V451.50"/>
<path d="M116.22 271.50v3.20 M116.22 451.00v-3.20 M57.05 331.33h3.20 M234.55 331.33h-3.20 M175.38 271.50v3.20 M175.38 451.00v-3.20 M57.05 391.17h3.20 M234.55 391.17h-3.20"/>
</g>
<g clip-path="url(#cp2)">
<path d="M153.4 269.3C154.8 269.3 156.4 269.8 157.6 270.8C158.8 271.8 160.0 273.9 160.3 275.3C160.7 276.8 160.3 278.3 159.7 279.6C159.2 280.9 158.1 282.3 157.0 283.2C155.9 284.1 154.5 284.9 153.4 284.9C152.2 284.9 151.0 284.1 150.0 283.2C149.0 282.3 147.9 280.9 147.3 279.6C146.7 278.3 146.4 276.8 146.7 275.3C147.0 273.9 148.0 271.8 149.1 270.8C150.2 269.8 151.9 269.3 153.4 269.3Z" fill="#ff0000"/>
<path d="M153.3 271.5C154.3 271.5 155.5 271.9 156.4 272.6C157.2 273.3 158.1 274.8 158.4 275.9C158.6 277.0 158.3 278.1 157.9 279.0C157.5 280.0 156.7 281.0 155.9 281.7C155.2 282.3 154.1 282.9 153.3 282.9C152.4 282.9 151.6 282.3 150.9 281.7C150.1 281.0 149.3 280.0 148.9 279.0C148.5 278.1 148.2 277.0 148.4 275.9C148.6 274.8 149.4 273.3 150.2 272.6C151.0 271.9 152.3 271.5 153.3 271.5Z" fill="#ff4400"/>
<path d="M153.3 271.9C154.2 271.9 155.4 272.2 156.2 272.9C157.0 273.6 157.8 275.0 158.1 276.0C158.3 277.0 158.0 278.0 157.6 278.9C157.3 279.8 156.5 280.8 155.8 281.4C155.0 282.0 154.1 282.6 153.3 282.6C152.5 282.6 151.7 282.0 151.0 281.4C150.3 280.8 149.5 279.8 149.1 278.9C148.8 278.0 148.5 277.0 148.7 276.0C148.9 275.0 149.6 273.6 150.4 272.9C151.1 272.2 152.3 271.9 153.3 271.9Z" fill="#ff8c00"/>
<path d="M153.3 272.2C154.2 272.2 155.2 272.6 156.0 273.2C156.7 273.9 157.5 275.2 157.7 276.1C157.9 277.1 157.7 278.0 157.3 278.8C157.0 279.7 156.3 280.6 155.6 281.1C154.9 281.7 154.0 282.2 153.3 282.2C152.5 282.2 151.8 281.7 151.1 281.1C150.5 280.6 149.8 279.7 149.4 278.8C149.0 278.0 148.8 277.1 149.0 276.1C149.2 275.2 149.8 273.9 150.6 273.2C151.3 272.6 152.4 272.2 153.3 272.2Z" fill="#ffbb00"/>
<path d="M153.3 272.6C154.1 272.6 155.1 272.9 155.8 273.5C156.5 274.1 157.2 275.3 157.4 276.2C157.6 277.1 157.4 278.0 157.0 278.7C156.7 279.5 156.0 280.4 155.4 280.9C154.8 281.4 153.9 281.9 153.3 281.9C152.6 281.9 151.9 281.4 151.3 280.9C150.7 280.4 150.0 279.5 149.7 278.7C149.3 278.0 149.1 277.1 149.3 276.2C149.5 275.3 150.1 274.1 150.7 273.5C151.4 272.9 152.4 272.6 153.3 272.6Z" fill="#ffe500"/>
<path d="M153.2 273.0C154.0 273.0 154.9 273.3 155.6 273.8C156.2 274.4 156.9 275.5 157.1 276.3C157.3 277.1 157.0 277.9 156.7 278.6C156.4 279.4 155.8 280.1 155.2 280.6C154.7 281.1 153.9 281.6 153.2 281.6C152.6 281.6 152.0 281.1 151.4 280.6C150.9 280.1 150.2 279.4 149.9 278.6C149.6 277.9 149.4 277.1 149.6 276.3C149.8 275.5 150.3 274.4 150.9 273.8C151.5 273.3 152.5 273.0 153.2 273.0Z" fill="#f3ff00"/>
<path d="M153.2 273.4C153.9 273.4 154.8 273.6 155.4 274.1C155.9 274.6 156.6 275.7 156.7 276.4C156.9 277.1 156.7 277.9 156.4 278.5C156.1 279.2 155.6 279.9 155.1 280.4C154.5 280.8 153.8 281.2 153.2 281.2C152.6 281.2 152.1 280.8 151.6 280.4C151.1 279.9 150.5 279.2 150.2 278.5C149.9 277.9 149.7 277.1 149.9 276.4C150.0 275.7 150.5 274.6 151.1 274.1C151.7 273.6 152.5 273.4 153.2 273.4Z" fill="#d3ff00"/>
<path d="M153.2 273.7C153.9 273.7 154.6 274.0 155.2 274.4C155.7 274.9 156.2 275.8 156.4 276.5C156.6 277.2 156.4 277.8 156.1 278.4C155.9 279.0 155.4 279.7 154.9 280.1C154.4 280.5 153.8 280.9 153.2 280.9C152.7 280.9 152.2 280.5 151.7 280.1C151.2 279.7 150.7 279.0 150.5 278.4C150.2 277.8 150.0 277.2 150.2 276.5C150.3 275.8 150.8 274.9 151.3 274.4C151.8 274.0 152.6 273.7 153.2 273.7Z" fill="#b7ff00"/>
<path d="M153.2 274.1C153.8 274.1 154.5 274.3 155.0 274.7C155.4 275.2 155.9 276.0 156.1 276.6C156.2 277.2 156.0 277.8 155.8 278.4C155.6 278.9 155.1 279.5 154.7 279.8C154.3 280.2 153.7 280.5 153.2 280.5C152.7 280.5 152.3 280.2 151.8 279.8C151.4 279.5 150.9 278.9 150.7 278.4C150.5 277.8 150.3 277.2 150.5 276.6C150.6 276.0 151.0 275.2 151.5 274.7C151.9 274.3 152.6 274.1 153.2 274.1Z" fill="#9fff00"/>
<path d="M153.2 274.5C153.7 274.5 154.3 274.7 154.7 275.1C155.2 275.4 155.6 276.2 155.7 276.7C155.9 277.2 155.7 277.8 155.5 278.3C155.3 278.7 154.9 279.3 154.5 279.6C154.1 279.9 153.6 280.2 153.2 280.2C152.8 280.2 152.3 279.9 152.0 279.6C151.6 279.3 151.2 278.7 151.0 278.3C150.8 277.8 150.7 277.2 150.8 276.7C150.9 276.2 151.2 275.4 151.6 275.1C152.1 274.7 152.7 274.5 153.2 274.5Z" fill="#87ff00"/>
<path d="M153.2 274.9C153.6 274.9 154.2 275.0 154.5 275.4C154.9 275.7 155.3 276.3 155.4 276.8C155.5 277.3 155.4 277.7 155.2 278.2C155.0 278.6 154.7 279.0 154.3 279.3C154.0 279.6 153.6 279.9 153.2 279.9C152.8 279.9 152.4 279.6 152.1 279.3C151.8 279.0 151.4 278.6 151.2 278.2C151.1 277.7 151.0 277.3 151.1 276.8C151.2 276.3 151.5 275.7 151.8 275.4C152.2 275.0 152.7 274.9 153.2 274.9Z" fill="#72ff00"/>
<path d="M153.2 275.2C153.6 275.2 154.0 275.4 154.3 275.7C154.7 275.9 155.0 276.5 155.1 276.9C155.2 277.3 155.1 277.7 154.9 278.1C154.8 278.4 154.5 278.8 154.2 279.1C153.9 279.3 153.5 279.5 153.2 279.5C152.9 279.5 152.5 279.3 152.3 279.1C152.0 278.8 151.7 278.4 151.5 278.1C151.4 277.7 151.3 277.3 151.3 276.9C151.4 276.5 151.7 275.9 152.0 275.7C152.3 275.4 152.8 275.2 153.2 275.2Z" fill="#61ff00"/>
<path d="M153.2 275.6C153.5 275.6 153.9 275.7 154.1 276.0C154.4 276.2 154.7 276.7 154.8 277.0C154.8 277.3 154.7 277.7 154.6 278.0C154.5 278.3 154.2 278.6 154.0 278.8C153.7 279.0 153.4 279.2 153.2 279.2C152.9 279.2 152.6 279.0 152.4 278.8C152.2 278.6 151.9 278.3 151.8 278.0C151.7 277.7 151.6 277.3 151.6 277.0C151.7 276.7 151.9 276.2 152.2 276.0C152.4 275.7 152.8 275.6 153.2 275.6Z" fill="#54ff00"/>
<path d="M153.1 276.0C153.4 276.0 153.7 276.1 153.9 276.3C154.1 276.5 154.4 276.8 154.4 277.1C154.5 277.4 154.4 277.6 154.3 277.9C154.2 278.1 154.0 278.4 153.8 278.5C153.6 278.7 153.4 278.9 153.1 278.9C152.9 278.9 152.7 278.7 152.5 278.5C152.4 278.4 152.1 278.1 152.0 277.9C151.9 277.6 151.9 277.4 151.9 277.1C152.0 276.8 152.2 276.5 152.4 276.3C152.6 276.1 152.9 276.0 153.1 276.0Z" fill="#4bff00"/>
<path d="M153.1 276.4C153.3 276.4 153.6 276.4 153.7 276.6C153.9 276.7 154.0 277.0 154.1 277.2C154.1 277.4 154.1 277.6 154.0 277.8C153.9 278.0 153.8 278.2 153.6 278.3C153.5 278.4 153.3 278.5 153.1 278.5C153.0 278.5 152.8 278.4 152.7 278.3C152.5 278.2 152.4 278.0 152.3 277.8C152.2 277.6 152.2 277.4 152.2 277.2C152.3 277.0 152.4 276.7 152.6 276.6C152.7 276.4 152.9 276.4 153.1 276.4Z" fill="#45ff00"/>
<path d="M153.1 276.7C153.3 276.7 153.4 276.8 153.5 276.9C153.6 277.0 153.7 277.2 153.8 277.3C153.8 277.4 153.8 277.6 153.7 277.7C153.7 277.8 153.6 277.9 153.5 278.0C153.4 278.1 153.2 278.2 153.1 278.2C153.0 278.2 152.9 278.1 152.8 278.0C152.7 277.9 152.6 277.8 152.6 277.7C152.5 277.6 152.5 277.4 152.5 277.3C152.5 277.2 152.6 277.0 152.7 276.9C152.8 276.8 153.0 276.7 153.1 276.7Z" fill="#42ff00"/>
<path d="M153.1 277.1C153.2 277.1 153.3 277.1 153.3 277.2C153.4 277.2 153.4 277.3 153.4 277.4C153.4 277.5 153.4 277.5 153.4 277.6C153.4 277.7 153.3 277.7 153.3 277.8C153.2 277.8 153.2 277.8 153.1 277.8C153.1 277.8 153.0 277.8 153.0 277.8C152.9 277.7 152.9 277.7 152.8 277.6C152.8 277.5 152.8 277.5 152.8 277.4C152.8 277.3 152.9 277.2 152.9 277.2C153.0 277.1 153.0 277.1 153.1 277.1Z" fill="#40ff00"/>
<path d="M153.2 309.3C154.5 309.6 157.0 311.8 158.4 312.9C159.9 314.1 161.2 315.1 162.1 316.2C162.9 317.2 163.6 318.0 163.7 319.4C163.8 320.7 162.9 322.9 162.5 324.2C162.0 325.6 161.8 326.0 160.9 327.5C159.9 329.0 158.2 331.9 156.8 333.1C155.4 334.4 153.8 335.1 152.4 334.9C151.0 334.7 149.2 333.3 148.3 331.9C147.5 330.5 147.4 328.4 147.1 326.7C146.9 325.0 146.8 323.7 147.0 321.8C147.1 319.9 147.4 317.2 147.9 315.4C148.5 313.5 149.5 311.9 150.4 310.9C151.2 309.9 151.8 309.0 153.2 309.3Z" fill="#ff0000"/>
<path d="M153.2 311.8C154.3 312.2 156.3 314.1 157.4 315.2C158.5 316.2 159.3 317.2 159.9 318.2C160.5 319.1 161.0 319.7 161.0 320.7C161.1 321.7 160.6 323.3 160.3 324.3C160.0 325.3 160.0 325.6 159.3 326.9C158.7 328.2 157.6 331.1 156.5 332.3C155.3 333.5 153.7 334.4 152.4 334.1C151.2 333.9 149.8 332.1 149.0 330.8C148.3 329.5 148.2 327.8 148.1 326.3C147.9 324.9 147.8 323.8 147.9 322.2C148.1 320.7 148.3 318.4 148.8 316.8C149.3 315.3 150.1 313.9 150.8 313.1C151.5 312.3 152.1 311.5 153.2 311.8Z" fill="#ff4b00"/>
<path d="M153.2 312.6C154.2 312.9 156.1 314.8 157.1 315.8C158.2 316.8 158.9 317.8 159.4 318.6C160.0 319.5 160.3 320.0 160.4 321.0C160.5 321.9 160.0 323.4 159.8 324.3C159.6 325.3 159.5 325.5 158.9 326.7C158.3 328.0 157.4 330.8 156.3 331.9C155.2 333.1 153.6 334.0 152.5 333.7C151.3 333.5 150.0 331.7 149.3 330.5C148.6 329.2 148.5 327.6 148.3 326.2C148.2 324.9 148.1 323.9 148.2 322.4C148.3 320.9 148.6 318.7 149.0 317.3C149.5 315.8 150.3 314.5 150.9 313.7C151.6 313.0 152.2 312.2 153.2 312.6Z" fill="#ff9b00"/>
<path d="M153.2 313.3C154.2 313.6 155.9 315.4 156.9 316.3C157.9 317.3 158.5 318.3 159.0 319.1C159.4 319.9 159.8 320.4 159.8 321.3C159.9 322.1 159.5 323.4 159.3 324.3C159.1 325.2 159.1 325.4 158.5 326.6C158.0 327.8 157.2 330.4 156.2 331.6C155.2 332.7 153.6 333.6 152.5 333.3C151.4 333.1 150.1 331.4 149.5 330.2C148.8 329.0 148.8 327.4 148.6 326.1C148.5 324.9 148.4 323.9 148.5 322.5C148.6 321.1 148.8 319.0 149.3 317.7C149.7 316.3 150.4 315.1 151.1 314.4C151.7 313.6 152.2 313.0 153.2 313.3Z" fill="#ffd400"/>
<path d="M153.2 314.0C154.1 314.3 155.8 316.0 156.6 316.9C157.5 317.8 158.1 318.7 158.5 319.5C158.9 320.3 159.2 320.7 159.3 321.5C159.3 322.3 159.0 323.5 158.8 324.3C158.7 325.2 158.7 325.3 158.2 326.4C157.7 327.6 157.0 330.1 156.0 331.2C155.1 332.3 153.6 333.2 152.5 332.9C151.5 332.7 150.3 331.0 149.7 329.8C149.1 328.7 149.1 327.2 148.9 326.0C148.8 324.8 148.7 323.9 148.8 322.6C148.9 321.3 149.1 319.4 149.5 318.1C149.9 316.8 150.6 315.7 151.2 315.0C151.8 314.3 152.3 313.7 153.2 314.0Z" fill="#f5ff00"/>
<path d="M153.2 314.7C154.0 315.0 155.6 316.6 156.4 317.4C157.2 318.3 157.7 319.2 158.1 319.9C158.5 320.6 158.7 321.0 158.8 321.8C158.8 322.5 158.6 323.6 158.4 324.4C158.2 325.1 158.2 325.2 157.8 326.3C157.4 327.4 156.7 329.8 155.9 330.8C155.0 331.9 153.6 332.7 152.6 332.5C151.6 332.3 150.5 330.6 149.9 329.5C149.4 328.4 149.3 327.1 149.2 325.9C149.0 324.8 149.0 324.0 149.1 322.7C149.2 321.5 149.4 319.7 149.7 318.5C150.1 317.3 150.8 316.2 151.3 315.6C151.9 315.0 152.3 314.4 153.2 314.7Z" fill="#c6ff00"/>
<path d="M153.2 315.4C154.0 315.6 155.4 317.1 156.2 318.0C156.9 318.8 157.3 319.6 157.7 320.3C158.0 321.0 158.2 321.3 158.3 322.0C158.3 322.7 158.1 323.7 158.0 324.4C157.8 325.1 157.9 325.1 157.5 326.2C157.1 327.2 156.5 329.5 155.7 330.5C154.9 331.5 153.5 332.3 152.6 332.1C151.7 331.8 150.7 330.2 150.1 329.2C149.6 328.1 149.6 326.9 149.4 325.8C149.3 324.8 149.3 324.0 149.4 322.8C149.4 321.7 149.6 320.0 150.0 318.9C150.3 317.8 150.9 316.8 151.5 316.2C152.0 315.6 152.4 315.1 153.2 315.4Z" fill="#9cff00"/>
<path d="M153.2 316.0C153.9 316.3 155.3 317.7 155.9 318.5C156.6 319.2 157.0 320.0 157.3 320.7C157.6 321.3 157.8 321.6 157.8 322.2C157.9 322.9 157.7 323.7 157.6 324.4C157.5 325.0 157.5 325.1 157.1 326.0C156.8 327.0 156.3 329.2 155.5 330.1C154.8 331.0 153.5 331.8 152.6 331.6C151.8 331.4 150.8 329.8 150.3 328.8C149.9 327.9 149.8 326.7 149.7 325.7C149.6 324.8 149.5 324.0 149.6 323.0C149.7 321.9 149.9 320.3 150.2 319.3C150.5 318.3 151.1 317.3 151.6 316.8C152.1 316.2 152.5 315.7 153.2 316.0Z" fill="#6dff00"/>
<path d="M153.2 316.7C153.9 316.9 155.1 318.2 155.7 318.9C156.3 319.7 156.6 320.4 156.9 321.0C157.2 321.6 157.3 321.9 157.4 322.5C157.4 323.0 157.3 323.8 157.2 324.4C157.1 325.0 157.1 325.0 156.8 325.9C156.5 326.8 156.1 328.9 155.4 329.7C154.7 330.6 153.5 331.3 152.7 331.1C151.9 330.9 151.0 329.4 150.6 328.5C150.1 327.6 150.1 326.6 150.0 325.7C149.9 324.7 149.8 324.1 149.9 323.1C150.0 322.1 150.1 320.7 150.4 319.7C150.7 318.8 151.2 317.9 151.7 317.4C152.2 316.9 152.5 316.4 153.2 316.7Z" fill="#41ff00"/>
<path d="M153.2 317.3C153.8 317.6 154.9 318.8 155.5 319.4C156.1 320.1 156.3 320.8 156.6 321.3C156.8 321.9 156.9 322.2 157.0 322.7C157.0 323.2 156.9 323.9 156.8 324.4C156.7 324.9 156.8 325.0 156.5 325.8C156.2 326.6 155.9 328.5 155.2 329.3C154.6 330.2 153.5 330.9 152.7 330.7C152.0 330.5 151.2 329.1 150.8 328.2C150.4 327.4 150.3 326.4 150.2 325.6C150.1 324.7 150.1 324.1 150.2 323.2C150.2 322.3 150.4 321.0 150.7 320.1C150.9 319.2 151.4 318.4 151.8 317.9C152.2 317.5 152.6 317.1 153.2 317.3Z" fill="#19ff00"/>
<path d="M153.2 317.9C153.7 318.2 154.8 319.3 155.3 319.9C155.8 320.5 156.0 321.2 156.2 321.7C156.4 322.2 156.5 322.4 156.6 322.9C156.6 323.3 156.5 323.9 156.4 324.4C156.4 324.9 156.4 324.9 156.2 325.7C156.0 326.4 155.6 328.2 155.1 329.0C154.5 329.7 153.4 330.4 152.7 330.2C152.1 330.0 151.4 328.7 151.0 327.9C150.6 327.1 150.6 326.2 150.5 325.5C150.4 324.7 150.4 324.1 150.4 323.3C150.5 322.5 150.6 321.3 150.9 320.5C151.1 319.7 151.6 318.9 151.9 318.5C152.3 318.1 152.6 317.7 153.2 317.9Z" fill="#00ff08"/>
<path d="M153.2 318.6C153.7 318.8 154.6 319.8 155.1 320.4C155.5 320.9 155.7 321.5 155.9 322.0C156.1 322.4 156.2 322.6 156.2 323.0C156.2 323.4 156.1 324.0 156.1 324.4C156.0 324.8 156.1 324.9 155.9 325.5C155.7 326.2 155.4 327.9 154.9 328.6C154.4 329.3 153.4 329.9 152.8 329.7C152.2 329.5 151.5 328.3 151.2 327.6C150.8 326.9 150.8 326.1 150.7 325.4C150.7 324.7 150.6 324.2 150.7 323.4C150.8 322.7 150.9 321.6 151.1 320.9C151.3 320.1 151.7 319.5 152.1 319.1C152.4 318.7 152.7 318.4 153.2 318.6Z" fill="#00ff21"/>
<path d="M153.2 319.2C153.6 319.4 154.5 320.3 154.9 320.8C155.3 321.3 155.4 321.9 155.6 322.3C155.7 322.7 155.8 322.9 155.8 323.2C155.9 323.6 155.8 324.1 155.8 324.4C155.7 324.8 155.8 324.8 155.6 325.4C155.4 326.1 155.2 327.5 154.7 328.2C154.3 328.8 153.4 329.4 152.8 329.2C152.3 329.1 151.7 327.9 151.4 327.3C151.1 326.6 151.1 325.9 151.0 325.3C150.9 324.7 150.9 324.2 151.0 323.5C151.0 322.9 151.1 321.9 151.3 321.2C151.5 320.6 151.9 320.0 152.2 319.6C152.5 319.3 152.7 319.0 153.2 319.2Z" fill="#00ff36"/>
<path d="M153.2 319.8C153.6 320.0 154.3 320.8 154.7 321.3C155.0 321.7 155.1 322.2 155.3 322.6C155.4 322.9 155.5 323.1 155.5 323.4C155.5 323.7 155.5 324.1 155.4 324.4C155.4 324.8 155.5 324.8 155.3 325.3C155.2 325.9 155.0 327.2 154.6 327.8C154.2 328.3 153.4 328.9 152.9 328.7C152.4 328.6 151.9 327.5 151.6 326.9C151.3 326.4 151.3 325.7 151.2 325.2C151.2 324.6 151.2 324.2 151.2 323.6C151.3 323.0 151.4 322.2 151.5 321.6C151.7 321.0 152.0 320.5 152.3 320.2C152.6 319.9 152.8 319.6 153.2 319.8Z" fill="#00ff48"/>
<path d="M153.2 320.4C153.5 320.6 154.2 321.3 154.5 321.7C154.8 322.1 154.9 322.5 155.0 322.8C155.1 323.1 155.1 323.3 155.2 323.6C155.2 323.8 155.1 324.2 155.1 324.4C155.1 324.7 155.1 324.7 155.0 325.2C154.9 325.7 154.8 326.9 154.4 327.4C154.1 327.9 153.3 328.3 152.9 328.2C152.5 328.1 152.0 327.2 151.8 326.6C151.6 326.1 151.6 325.6 151.5 325.1C151.4 324.6 151.4 324.3 151.5 323.8C151.5 323.2 151.6 322.5 151.8 322.0C151.9 321.5 152.2 321.0 152.4 320.8C152.7 320.5 152.9 320.3 153.2 320.4Z" fill="#00ff57"/>
<path d="M153.2 321.0C153.5 321.2 154.0 321.8 154.3 322.1C154.5 322.5 154.6 322.8 154.7 323.1C154.8 323.4 154.8 323.5 154.8 323.7C154.9 323.9 154.8 324.2 154.8 324.5C154.8 324.7 154.8 324.7 154.7 325.1C154.7 325.5 154.5 326.5 154.2 327.0C153.9 327.4 153.3 327.8 152.9 327.7C152.6 327.6 152.2 326.8 152.0 326.3C151.8 325.9 151.8 325.4 151.7 325.0C151.7 324.6 151.7 324.3 151.7 323.9C151.8 323.4 151.8 322.8 152.0 322.4C152.1 321.9 152.3 321.5 152.5 321.3C152.7 321.1 152.9 320.9 153.2 321.0Z" fill="#00ff62"/>
<path d="M153.2 321.6C153.4 321.7 153.9 322.2 154.1 322.5C154.3 322.8 154.3 323.1 154.4 323.4C154.5 323.6 154.5 323.7 154.5 323.9C154.5 324.0 154.5 324.3 154.5 324.5C154.5 324.7 154.6 324.6 154.5 325.0C154.4 325.3 154.3 326.2 154.1 326.6C153.8 326.9 153.3 327.3 153.0 327.2C152.7 327.1 152.4 326.4 152.2 326.0C152.0 325.6 152.0 325.3 152.0 324.9C152.0 324.6 151.9 324.3 152.0 324.0C152.0 323.6 152.1 323.1 152.2 322.7C152.3 322.4 152.5 322.0 152.6 321.8C152.8 321.7 153.0 321.5 153.2 321.6Z" fill="#00ff6b"/>
<path d="M153.2 322.2C153.4 322.3 153.7 322.7 153.9 322.9C154.1 323.2 154.1 323.4 154.2 323.6C154.2 323.8 154.2 323.9 154.2 324.0C154.3 324.1 154.2 324.3 154.2 324.5C154.2 324.6 154.3 324.6 154.2 324.9C154.2 325.2 154.1 325.9 153.9 326.2C153.7 326.4 153.3 326.7 153.0 326.7C152.8 326.6 152.5 326.0 152.4 325.7C152.3 325.4 152.3 325.1 152.2 324.8C152.2 324.6 152.2 324.4 152.2 324.1C152.2 323.8 152.3 323.4 152.4 323.1C152.5 322.8 152.6 322.5 152.8 322.4C152.9 322.2 153.0 322.1 153.2 322.2Z" fill="#00ff71"/>
<path d="M153.2 322.8C153.3 322.9 153.6 323.2 153.7 323.3C153.8 323.5 153.9 323.7 153.9 323.8C153.9 324.0 153.9 324.0 154.0 324.1C154.0 324.2 154.0 324.4 154.0 324.5C154.0 324.6 154.0 324.6 154.0 324.8C153.9 325.0 153.9 325.5 153.7 325.7C153.6 326.0 153.3 326.2 153.1 326.1C152.9 326.1 152.7 325.6 152.6 325.4C152.5 325.2 152.5 325.0 152.5 324.8C152.5 324.6 152.4 324.4 152.5 324.2C152.5 324.0 152.5 323.7 152.6 323.4C152.7 323.2 152.8 323.0 152.9 322.9C153.0 322.8 153.1 322.7 153.2 322.8Z" fill="#00ff75"/>
<path d="M153.2 323.4C153.3 323.4 153.5 323.6 153.5 323.7C153.6 323.8 153.6 324.0 153.7 324.1C153.7 324.2 153.7 324.2 153.7 324.3C153.7 324.3 153.7 324.4 153.7 324.5C153.7 324.6 153.7 324.6 153.7 324.7C153.7 324.8 153.6 325.2 153.5 325.3C153.5 325.5 153.2 325.6 153.1 325.6C153.0 325.5 152.9 325.3 152.8 325.1C152.7 325.0 152.7 324.8 152.7 324.7C152.7 324.5 152.7 324.4 152.7 324.3C152.7 324.1 152.7 323.9 152.8 323.8C152.8 323.7 152.9 323.5 153.0 323.5C153.0 323.4 153.1 323.3 153.2 323.4Z" fill="#00ff77"/>
<path d="M153.2 323.9C153.2 324.0 153.3 324.1 153.4 324.1C153.4 324.2 153.4 324.2 153.4 324.3C153.4 324.3 153.4 324.3 153.4 324.4C153.4 324.4 153.4 324.5 153.4 324.5C153.4 324.5 153.5 324.5 153.4 324.6C153.4 324.7 153.4 324.8 153.4 324.9C153.3 325.0 153.2 325.1 153.2 325.0C153.1 325.0 153.0 324.9 153.0 324.8C153.0 324.7 153.0 324.7 153.0 324.6C153.0 324.5 153.0 324.5 153.0 324.4C153.0 324.3 153.0 324.2 153.0 324.1C153.0 324.1 153.1 324.0 153.1 324.0C153.1 323.9 153.2 323.9 153.2 323.9Z" fill="#00ff78"/>
<path d="M180.5 303.1C181.6 303.3 183.6 304.4 184.4 305.3C185.2 306.1 185.7 307.3 185.6 308.4C185.5 309.6 185.0 311.0 184.0 312.0C183.1 312.9 181.5 313.5 179.8 314.2C178.2 315.0 175.9 315.9 174.1 316.6C172.4 317.2 170.5 317.9 169.2 318.0C167.9 318.0 167.0 317.4 166.5 316.8C166.0 316.1 165.9 315.1 166.4 314.1C166.8 313.1 167.9 311.7 169.2 310.6C170.5 309.4 172.7 308.1 174.1 307.0C175.6 306.0 176.6 304.8 177.7 304.2C178.7 303.5 179.4 303.0 180.5 303.1Z" fill="#ff0000"/>
<path d="M179.8 304.7C180.6 304.8 182.0 305.6 182.7 306.3C183.3 306.9 183.6 307.8 183.5 308.6C183.5 309.4 183.1 310.5 182.4 311.2C181.7 311.9 180.5 312.3 179.3 312.9C178.0 313.5 176.4 314.2 175.1 314.6C173.8 315.1 172.3 315.6 171.4 315.7C170.5 315.7 169.8 315.3 169.4 314.8C169.1 314.3 169.0 313.6 169.3 312.8C169.6 312.0 170.4 311.1 171.4 310.2C172.4 309.3 174.0 308.3 175.1 307.6C176.1 306.8 176.9 305.9 177.7 305.5C178.5 305.0 179.0 304.6 179.8 304.7Z" fill="#ff3800"/>
<path d="M179.6 305.1C180.4 305.2 181.7 305.9 182.2 306.5C182.8 307.1 183.1 307.9 183.1 308.7C183.0 309.4 182.7 310.4 182.0 311.0C181.3 311.7 180.2 312.1 179.1 312.6C178.0 313.1 176.5 313.7 175.3 314.2C174.1 314.6 172.8 315.1 171.9 315.1C171.1 315.2 170.4 314.8 170.1 314.3C169.8 313.9 169.7 313.2 170.0 312.5C170.3 311.8 171.1 310.9 171.9 310.1C172.8 309.3 174.3 308.4 175.3 307.7C176.2 307.0 177.0 306.2 177.7 305.8C178.4 305.3 178.8 304.9 179.6 305.1Z" fill="#ff6900"/>
<path d="M179.4 305.4C180.1 305.5 181.3 306.2 181.8 306.7C182.4 307.3 182.6 308.0 182.6 308.7C182.5 309.4 182.2 310.3 181.6 310.9C181.0 311.5 180.0 311.8 179.0 312.3C178.0 312.7 176.6 313.3 175.5 313.7C174.4 314.1 173.2 314.6 172.5 314.6C171.7 314.6 171.1 314.2 170.8 313.8C170.5 313.4 170.4 312.8 170.7 312.2C171.0 311.5 171.7 310.7 172.5 310.0C173.3 309.3 174.6 308.5 175.5 307.8C176.4 307.2 177.0 306.5 177.7 306.1C178.3 305.7 178.7 305.3 179.4 305.4Z" fill="#ff9200"/>
<path d="M179.3 305.8C179.9 305.9 180.9 306.5 181.4 307.0C181.9 307.5 182.1 308.1 182.1 308.7C182.1 309.4 181.8 310.2 181.2 310.7C180.7 311.2 179.8 311.5 178.9 312.0C178.0 312.4 176.7 312.9 175.7 313.2C174.7 313.6 173.7 314.0 173.0 314.0C172.3 314.1 171.7 313.7 171.5 313.4C171.2 313.0 171.2 312.4 171.4 311.9C171.7 311.3 172.3 310.6 173.0 309.9C173.7 309.3 174.9 308.5 175.7 307.9C176.5 307.4 177.1 306.7 177.7 306.4C178.3 306.0 178.6 305.7 179.3 305.8Z" fill="#ffac00"/>
<path d="M179.1 306.2C179.6 306.2 180.6 306.8 181.0 307.2C181.4 307.6 181.6 308.2 181.6 308.8C181.6 309.3 181.3 310.0 180.8 310.5C180.4 311.0 179.6 311.3 178.7 311.6C177.9 312.0 176.8 312.5 175.9 312.8C175.1 313.1 174.1 313.5 173.5 313.5C172.9 313.5 172.4 313.2 172.2 312.9C171.9 312.6 171.9 312.1 172.1 311.6C172.3 311.1 172.9 310.4 173.5 309.8C174.1 309.2 175.2 308.6 175.9 308.1C176.6 307.6 177.2 307.0 177.7 306.7C178.2 306.4 178.5 306.1 179.1 306.2Z" fill="#ffc200"/>
<path d="M178.9 306.5C179.4 306.6 180.2 307.1 180.6 307.4C181.0 307.8 181.1 308.3 181.1 308.8C181.1 309.3 180.9 309.9 180.4 310.3C180.0 310.8 179.3 311.0 178.6 311.3C177.9 311.6 176.9 312.1 176.2 312.3C175.4 312.6 174.6 312.9 174.0 312.9C173.5 313.0 173.1 312.7 172.9 312.4C172.7 312.1 172.6 311.7 172.8 311.3C173.0 310.8 173.5 310.2 174.0 309.7C174.6 309.2 175.6 308.7 176.2 308.2C176.8 307.7 177.2 307.3 177.7 307.0C178.1 306.7 178.4 306.4 178.9 306.5Z" fill="#ffd400"/>
<path d="M178.7 306.9C179.2 307.0 179.9 307.4 180.2 307.7C180.5 308.0 180.6 308.4 180.6 308.9C180.6 309.3 180.4 309.8 180.0 310.2C179.7 310.5 179.1 310.7 178.5 311.0C177.9 311.3 177.0 311.6 176.4 311.9C175.7 312.1 175.0 312.4 174.6 312.4C174.1 312.4 173.7 312.2 173.6 311.9C173.4 311.7 173.3 311.3 173.5 310.9C173.7 310.6 174.1 310.1 174.6 309.6C175.0 309.2 175.9 308.7 176.4 308.3C176.9 307.9 177.3 307.5 177.7 307.3C178.1 307.0 178.3 306.8 178.7 306.9Z" fill="#ffe200"/>
<path d="M178.6 307.3C178.9 307.3 179.5 307.6 179.8 307.9C180.0 308.2 180.2 308.6 180.1 308.9C180.1 309.2 180.0 309.7 179.7 310.0C179.4 310.3 178.9 310.4 178.3 310.7C177.8 310.9 177.1 311.2 176.6 311.4C176.1 311.6 175.5 311.8 175.1 311.8C174.7 311.9 174.4 311.7 174.2 311.5C174.1 311.3 174.1 311.0 174.2 310.6C174.3 310.3 174.7 309.9 175.1 309.5C175.5 309.2 176.2 308.8 176.6 308.5C177.0 308.1 177.4 307.8 177.7 307.6C178.0 307.4 178.2 307.2 178.6 307.3Z" fill="#ffee00"/>
<path d="M178.4 307.6C178.7 307.7 179.1 307.9 179.4 308.2C179.6 308.4 179.7 308.7 179.6 308.9C179.6 309.2 179.5 309.6 179.3 309.8C179.0 310.0 178.6 310.2 178.2 310.4C177.8 310.6 177.3 310.8 176.8 310.9C176.4 311.1 175.9 311.3 175.6 311.3C175.3 311.3 175.1 311.2 174.9 311.0C174.8 310.8 174.8 310.6 174.9 310.3C175.0 310.1 175.3 309.8 175.6 309.5C175.9 309.2 176.5 308.8 176.8 308.6C177.2 308.3 177.4 308.0 177.7 307.9C178.0 307.7 178.1 307.6 178.4 307.6Z" fill="#fff600"/>
<path d="M178.2 308.0C178.4 308.0 178.8 308.2 178.9 308.4C179.1 308.6 179.2 308.8 179.2 309.0C179.2 309.2 179.1 309.5 178.9 309.6C178.7 309.8 178.4 309.9 178.1 310.1C177.8 310.2 177.4 310.4 177.0 310.5C176.7 310.6 176.4 310.7 176.1 310.7C175.9 310.8 175.7 310.6 175.6 310.5C175.5 310.4 175.5 310.2 175.6 310.0C175.7 309.8 175.9 309.6 176.1 309.4C176.4 309.2 176.8 308.9 177.0 308.7C177.3 308.5 177.5 308.3 177.7 308.2C177.9 308.1 178.0 308.0 178.2 308.0Z" fill="#fffb00"/>
<path d="M178.0 308.4C178.2 308.4 178.4 308.5 178.5 308.6C178.6 308.7 178.7 308.9 178.7 309.0C178.7 309.2 178.6 309.3 178.5 309.5C178.4 309.6 178.2 309.6 178.0 309.7C177.8 309.8 177.5 309.9 177.3 310.0C177.0 310.1 176.8 310.2 176.7 310.2C176.5 310.2 176.4 310.1 176.3 310.0C176.3 310.0 176.2 309.8 176.3 309.7C176.4 309.6 176.5 309.4 176.7 309.3C176.8 309.1 177.1 309.0 177.3 308.8C177.4 308.7 177.6 308.6 177.7 308.5C177.8 308.4 177.9 308.3 178.0 308.4Z" fill="#fffe00"/>
<path d="M177.9 308.7C177.9 308.7 178.1 308.8 178.1 308.9C178.2 308.9 178.2 309.0 178.2 309.1C178.2 309.1 178.2 309.2 178.1 309.3C178.0 309.3 177.9 309.4 177.8 309.4C177.7 309.5 177.6 309.5 177.5 309.6C177.4 309.6 177.3 309.6 177.2 309.6C177.1 309.7 177.0 309.6 177.0 309.6C177.0 309.5 177.0 309.5 177.0 309.4C177.0 309.3 177.1 309.3 177.2 309.2C177.3 309.1 177.4 309.0 177.5 309.0C177.6 308.9 177.6 308.8 177.7 308.8C177.8 308.8 177.8 308.7 177.9 308.7Z" fill="#ffff00"/>
<clipPath id="ck7"><path d="M170.3 342.9C170.5 342.0 170.8 340.5 171.9 339.7C173.0 338.9 174.9 338.4 176.7 338.1C178.6 337.8 181.0 337.9 183.2 337.9C185.4 337.9 187.8 337.7 189.7 338.1C191.5 338.5 193.1 339.4 194.1 340.5C195.1 341.7 195.6 343.4 195.7 345.0C195.9 346.5 195.5 348.4 194.9 349.8C194.3 351.2 193.2 352.6 192.1 353.5C190.9 354.3 189.3 354.8 188.1 354.7C186.8 354.5 185.6 353.6 184.4 352.6C183.3 351.7 182.3 349.8 181.2 349.0C180.0 348.2 178.8 348.1 177.5 347.8C176.3 347.5 174.6 347.4 173.5 347.0C172.4 346.6 171.2 346.0 170.7 345.4C170.1 344.7 170.1 343.9 170.3 342.9Z"/></clipPath>
<linearGradient id="lg7" gradientUnits="userSpaceOnUse" x1="170" y1="0" x2="182" y2="0"><stop offset="0" stop-color="#ff7800"/><stop offset="1" stop-color="#ffc400"/></linearGradient>
<g clip-path="url(#ck7)"><path d="M170.3 342.9C170.5 342.0 170.8 340.5 171.9 339.7C173.0 338.9 174.9 338.4 176.7 338.1C178.6 337.8 181.0 337.9 183.2 337.9C185.4 337.9 187.8 337.7 189.7 338.1C191.5 338.5 193.1 339.4 194.1 340.5C195.1 341.7 195.6 343.4 195.7 345.0C195.9 346.5 195.5 348.4 194.9 349.8C194.3 351.2 193.2 352.6 192.1 353.5C190.9 354.3 189.3 354.8 188.1 354.7C186.8 354.5 185.6 353.6 184.4 352.6C183.3 351.7 182.3 349.8 181.2 349.0C180.0 348.2 178.8 348.1 177.5 347.8C176.3 347.5 174.6 347.4 173.5 347.0C172.4 346.6 171.2 346.0 170.7 345.4C170.1 344.7 170.1 343.9 170.3 342.9Z" fill="url(#lg7)"/>
<path d="M177.9 343.4C178.3 342.4 180.7 340.8 182.4 340.1C184.1 339.4 186.4 339.0 188.1 339.2C189.7 339.3 191.4 339.9 192.5 340.9C193.5 342.0 194.2 343.8 194.4 345.4C194.5 346.9 194.1 348.9 193.3 350.2C192.5 351.5 190.9 352.9 189.7 353.2C188.5 353.5 187.1 352.6 186.0 351.8C185.0 351.1 184.1 349.6 183.2 348.6C182.3 347.6 181.2 346.8 180.4 345.9C179.5 345.1 177.6 344.3 177.9 343.4Z" fill="#ffd400"/>
<path d="M178.7 343.6C179.0 342.6 181.2 341.2 182.8 340.5C184.3 339.8 186.5 339.4 188.1 339.5C189.7 339.6 191.3 340.2 192.3 341.2C193.3 342.2 194.0 343.9 194.1 345.4C194.2 346.9 193.8 348.8 193.1 350.0C192.3 351.3 190.7 352.5 189.6 352.8C188.4 353.1 187.2 352.3 186.1 351.6C185.1 350.9 184.3 349.5 183.4 348.5C182.5 347.6 181.6 346.8 180.8 345.9C180.1 345.1 178.4 344.5 178.7 343.6Z" fill="#faff00"/>
<path d="M179.5 343.7C179.8 342.9 181.7 341.5 183.1 340.9C184.6 340.2 186.6 339.8 188.1 339.9C189.6 340.0 191.1 340.5 192.1 341.4C193.0 342.4 193.7 344.0 193.9 345.4C194.0 346.8 193.5 348.7 192.8 349.8C192.1 351.0 190.6 352.1 189.5 352.4C188.4 352.6 187.2 352.0 186.2 351.3C185.3 350.6 184.4 349.3 183.6 348.4C182.8 347.5 182.0 346.7 181.3 345.9C180.6 345.2 179.2 344.6 179.5 343.7Z" fill="#d0ff00"/>
<path d="M180.2 343.9C180.5 343.1 182.2 341.8 183.5 341.2C184.8 340.6 186.7 340.2 188.1 340.3C189.5 340.3 190.9 340.8 191.9 341.7C192.8 342.6 193.5 344.1 193.6 345.5C193.7 346.8 193.3 348.5 192.6 349.6C191.9 350.7 190.5 351.7 189.4 352.0C188.4 352.2 187.3 351.6 186.4 351.0C185.4 350.4 184.6 349.1 183.8 348.3C183.0 347.5 182.4 346.7 181.8 346.0C181.2 345.2 179.9 344.7 180.2 343.9Z" fill="#a8ff00"/>
<path d="M180.9 344.1C181.2 343.4 182.7 342.2 183.9 341.6C185.1 341.0 186.8 340.6 188.1 340.6C189.4 340.7 190.8 341.2 191.6 342.0C192.5 342.8 193.2 344.2 193.3 345.5C193.4 346.7 193.0 348.4 192.3 349.4C191.6 350.4 190.3 351.3 189.3 351.5C188.4 351.8 187.4 351.3 186.5 350.7C185.6 350.1 184.7 349.0 184.0 348.2C183.3 347.4 182.8 346.6 182.2 346.0C181.7 345.3 180.7 344.8 180.9 344.1Z" fill="#7cff00"/>
<path d="M181.6 344.3C181.9 343.6 183.2 342.5 184.3 342.0C185.3 341.4 186.9 341.0 188.1 341.0C189.3 341.1 190.6 341.5 191.4 342.2C192.2 343.0 192.9 344.4 193.0 345.5C193.1 346.7 192.6 348.2 192.0 349.1C191.4 350.1 190.2 350.9 189.3 351.1C188.4 351.3 187.4 350.9 186.6 350.4C185.8 349.9 184.9 348.8 184.3 348.1C183.6 347.3 183.2 346.6 182.7 346.0C182.3 345.3 181.4 345.0 181.6 344.3Z" fill="#4fff00"/>
<path d="M182.3 344.5C182.6 343.9 183.7 342.8 184.6 342.3C185.6 341.8 187.0 341.4 188.1 341.5C189.2 341.5 190.4 341.9 191.2 342.5C191.9 343.2 192.5 344.5 192.6 345.6C192.7 346.6 192.3 348.0 191.7 348.9C191.2 349.8 190.0 350.5 189.2 350.7C188.3 350.9 187.5 350.5 186.7 350.0C186.0 349.6 185.1 348.6 184.6 347.9C184.0 347.2 183.6 346.5 183.2 346.0C182.8 345.4 182.1 345.1 182.3 344.5Z" fill="#25ff00"/>
<path d="M183.0 344.6C183.2 344.1 184.1 343.2 185.0 342.7C185.9 342.2 187.2 341.8 188.1 341.9C189.1 341.9 190.2 342.2 190.9 342.8C191.6 343.5 192.2 344.6 192.3 345.6C192.4 346.6 192.0 347.9 191.4 348.7C190.9 349.4 189.9 350.0 189.1 350.2C188.3 350.4 187.6 350.1 186.9 349.7C186.2 349.3 185.4 348.4 184.8 347.8C184.3 347.1 184.0 346.5 183.7 346.0C183.4 345.4 182.8 345.2 183.0 344.6Z" fill="#00ff02"/>
<path d="M183.7 344.8C183.9 344.3 184.6 343.5 185.4 343.1C186.1 342.7 187.3 342.3 188.2 342.3C189.0 342.3 190.0 342.6 190.7 343.2C191.3 343.7 191.8 344.8 191.9 345.6C192.0 346.5 191.6 347.7 191.1 348.4C190.6 349.1 189.7 349.6 189.0 349.8C188.3 349.9 187.6 349.7 187.0 349.3C186.4 349.0 185.6 348.2 185.2 347.6C184.7 347.0 184.4 346.4 184.2 346.0C183.9 345.5 183.5 345.3 183.7 344.8Z" fill="#00ff1f"/>
<path d="M184.3 345.0C184.5 344.6 185.1 343.8 185.7 343.4C186.4 343.1 187.4 342.7 188.2 342.7C189.0 342.7 189.8 343.0 190.4 343.5C190.9 344.0 191.5 344.9 191.5 345.7C191.6 346.4 191.2 347.5 190.8 348.1C190.4 348.7 189.5 349.2 188.9 349.3C188.3 349.5 187.7 349.3 187.1 349.0C186.6 348.7 185.9 347.9 185.5 347.4C185.1 346.9 184.9 346.4 184.7 346.0C184.5 345.6 184.1 345.4 184.3 345.0Z" fill="#00ff3a"/>
<path d="M184.9 345.1C185.1 344.8 185.6 344.1 186.1 343.8C186.6 343.5 187.5 343.2 188.2 343.2C188.9 343.2 189.6 343.4 190.1 343.8C190.6 344.2 191.1 345.0 191.1 345.7C191.2 346.4 190.9 347.3 190.5 347.8C190.1 348.4 189.4 348.7 188.8 348.9C188.3 349.0 187.8 348.8 187.3 348.6C186.8 348.3 186.2 347.7 185.8 347.3C185.5 346.8 185.3 346.3 185.2 346.0C185.0 345.6 184.8 345.5 184.9 345.1Z" fill="#00ff51"/>
<path d="M185.5 345.3C185.7 345.0 186.0 344.5 186.5 344.2C186.9 343.9 187.7 343.6 188.2 343.6C188.8 343.6 189.4 343.8 189.8 344.1C190.2 344.5 190.7 345.2 190.7 345.8C190.8 346.3 190.5 347.1 190.1 347.6C189.8 348.0 189.2 348.3 188.8 348.4C188.3 348.5 187.9 348.4 187.5 348.2C187.0 348.0 186.5 347.4 186.2 347.1C185.9 346.7 185.8 346.3 185.7 346.0C185.6 345.7 185.4 345.6 185.5 345.3Z" fill="#00ff65"/>
<path d="M186.1 345.4C186.2 345.2 186.5 344.8 186.8 344.5C187.2 344.3 187.8 344.1 188.2 344.1C188.7 344.1 189.2 344.2 189.5 344.5C189.9 344.8 190.2 345.3 190.3 345.8C190.3 346.3 190.1 346.9 189.8 347.3C189.5 347.6 189.0 347.8 188.7 347.9C188.3 348.0 188.0 347.9 187.6 347.8C187.3 347.6 186.8 347.2 186.6 346.9C186.3 346.6 186.3 346.2 186.2 346.0C186.1 345.7 186.0 345.7 186.1 345.4Z" fill="#00ff76"/>
<path d="M186.7 345.6C186.8 345.4 186.9 345.1 187.2 344.9C187.5 344.7 187.9 344.5 188.2 344.5C188.6 344.5 189.0 344.6 189.2 344.9C189.5 345.1 189.8 345.5 189.8 345.8C189.8 346.2 189.6 346.7 189.4 347.0C189.2 347.2 188.9 347.4 188.6 347.5C188.3 347.5 188.0 347.5 187.8 347.3C187.5 347.2 187.2 346.9 187.0 346.7C186.8 346.4 186.8 346.2 186.7 346.0C186.7 345.8 186.6 345.8 186.7 345.6Z" fill="#00ff84"/>
<path d="M187.2 345.7C187.3 345.6 187.4 345.4 187.6 345.3C187.7 345.2 188.0 345.0 188.3 345.0C188.5 345.0 188.8 345.1 188.9 345.2C189.1 345.4 189.3 345.7 189.3 345.9C189.3 346.1 189.2 346.5 189.1 346.7C188.9 346.8 188.7 346.9 188.5 347.0C188.3 347.0 188.1 347.0 187.9 346.9C187.8 346.8 187.5 346.6 187.4 346.5C187.3 346.3 187.3 346.1 187.2 346.0C187.2 345.9 187.2 345.8 187.2 345.7Z" fill="#00ff8f"/>
<path d="M187.8 345.9C187.8 345.8 187.9 345.7 187.9 345.6C188.0 345.6 188.2 345.5 188.3 345.5C188.4 345.5 188.5 345.5 188.6 345.6C188.7 345.7 188.8 345.8 188.8 345.9C188.8 346.1 188.8 346.2 188.7 346.3C188.6 346.4 188.5 346.5 188.4 346.5C188.3 346.5 188.2 346.5 188.1 346.5C188.0 346.4 187.9 346.3 187.8 346.2C187.8 346.2 187.8 346.1 187.8 346.0C187.8 345.9 187.8 345.9 187.8 345.9Z" fill="#00ff94"/>
<path d="M170.3 342.9C170.5 342.0 170.8 340.5 171.9 339.7C173.0 338.9 174.9 338.4 176.7 338.1C178.6 337.8 181.0 337.9 183.2 337.9C185.4 337.9 187.8 337.7 189.7 338.1C191.5 338.5 193.1 339.4 194.1 340.5C195.1 341.7 195.6 343.4 195.7 345.0C195.9 346.5 195.5 348.4 194.9 349.8C194.3 351.2 193.2 352.6 192.1 353.5C190.9 354.3 189.3 354.8 188.1 354.7C186.8 354.5 185.6 353.6 184.4 352.6C183.3 351.7 182.3 349.8 181.2 349.0C180.0 348.2 178.8 348.1 177.5 347.8C176.3 347.5 174.6 347.4 173.5 347.0C172.4 346.6 171.2 346.0 170.7 345.4C170.1 344.7 170.1 343.9 170.3 342.9Z" fill="none" stroke="#ff0000" stroke-width="2.60"/></g>
<path d="M133.1 357.1C133.1 355.9 133.7 354.2 134.7 353.5C135.7 352.8 137.0 353.0 139.1 353.1C141.2 353.1 144.8 353.5 147.2 353.7C149.6 354.0 152.0 354.0 153.7 354.7C155.4 355.4 156.5 356.7 157.3 357.9C158.1 359.1 158.6 360.5 158.5 362.0C158.4 363.5 157.8 365.3 156.9 366.8C156.0 368.4 154.3 370.1 152.9 371.3C151.4 372.4 149.6 373.4 148.0 373.7C146.5 374.0 144.8 373.6 143.6 372.9C142.3 372.1 141.4 370.7 140.3 369.2C139.3 367.8 138.1 365.8 137.1 364.4C136.1 363.0 134.9 362.0 134.3 360.8C133.6 359.5 133.0 358.3 133.1 357.1Z" fill="#ff0000"/>
<path d="M135.1 358.0C135.3 356.9 135.8 355.4 136.6 354.9C137.5 354.3 138.6 354.4 140.4 354.4C142.2 354.4 145.3 354.6 147.4 354.8C149.6 354.9 151.7 354.9 153.3 355.5C154.8 356.1 155.9 357.2 156.7 358.3C157.5 359.4 158.0 360.7 158.0 362.1C157.9 363.4 157.3 365.2 156.4 366.6C155.5 368.0 153.9 369.6 152.5 370.6C151.2 371.6 149.5 372.4 148.1 372.7C146.7 372.9 145.3 372.6 144.1 372.0C142.9 371.3 142.0 370.1 141.0 368.8C140.0 367.5 139.0 365.6 138.2 364.3C137.3 363.0 136.5 362.1 136.0 361.1C135.5 360.0 135.0 359.0 135.1 358.0Z" fill="#ff5700"/>
<path d="M135.9 358.3C136.0 357.3 136.5 355.9 137.3 355.3C138.2 354.8 139.2 354.9 140.9 354.9C142.6 354.9 145.5 355.0 147.5 355.2C149.5 355.3 151.6 355.3 153.1 355.8C154.6 356.4 155.7 357.4 156.5 358.5C157.3 359.5 157.8 360.8 157.8 362.1C157.7 363.4 157.1 365.2 156.2 366.5C155.3 367.9 153.7 369.4 152.4 370.3C151.1 371.3 149.5 372.0 148.2 372.3C146.8 372.5 145.5 372.2 144.3 371.6C143.2 371.0 142.2 369.9 141.3 368.6C140.3 367.4 139.4 365.5 138.6 364.3C137.8 363.1 137.1 362.2 136.6 361.2C136.2 360.2 135.8 359.2 135.9 358.3Z" fill="#ffb700"/>
<path d="M136.6 358.6C136.8 357.6 137.3 356.4 138.0 355.8C138.8 355.3 139.7 355.4 141.3 355.4C142.9 355.3 145.6 355.4 147.6 355.5C149.5 355.7 151.5 355.6 152.9 356.1C154.4 356.7 155.5 357.7 156.3 358.7C157.0 359.7 157.6 360.8 157.5 362.1C157.5 363.4 156.9 365.1 156.0 366.4C155.1 367.8 153.6 369.2 152.3 370.1C151.0 371.0 149.5 371.7 148.2 371.9C146.9 372.1 145.6 371.9 144.5 371.3C143.4 370.7 142.5 369.6 141.5 368.5C140.6 367.3 139.7 365.5 139.0 364.3C138.3 363.1 137.6 362.3 137.2 361.3C136.9 360.4 136.5 359.5 136.6 358.6Z" fill="#f8ff00"/>
<path d="M137.4 358.9C137.5 358.0 138.0 356.8 138.7 356.3C139.4 355.8 140.3 355.9 141.8 355.8C143.3 355.8 145.8 355.8 147.6 355.9C149.5 356.0 151.4 356.0 152.8 356.5C154.2 356.9 155.3 357.9 156.0 358.8C156.8 359.8 157.3 360.9 157.3 362.2C157.2 363.4 156.6 365.1 155.8 366.3C154.9 367.6 153.4 368.9 152.2 369.8C150.9 370.7 149.5 371.3 148.3 371.5C147.0 371.7 145.8 371.5 144.7 371.0C143.7 370.4 142.7 369.4 141.8 368.3C140.9 367.2 140.1 365.4 139.4 364.2C138.7 363.1 138.2 362.3 137.9 361.4C137.5 360.5 137.2 359.7 137.4 358.9Z" fill="#afff00"/>
<path d="M138.1 359.1C138.2 358.3 138.7 357.2 139.4 356.8C140.1 356.3 140.8 356.4 142.2 356.3C143.6 356.2 146.0 356.2 147.7 356.3C149.5 356.4 151.3 356.3 152.6 356.8C154.0 357.2 155.0 358.1 155.8 359.0C156.5 359.9 157.1 361.0 157.0 362.2C157.0 363.4 156.4 365.0 155.6 366.3C154.7 367.5 153.2 368.7 152.0 369.5C150.8 370.3 149.5 370.9 148.3 371.1C147.1 371.3 146.0 371.1 144.9 370.6C143.9 370.1 143.0 369.2 142.1 368.1C141.3 367.0 140.4 365.3 139.8 364.2C139.2 363.1 138.8 362.4 138.5 361.6C138.2 360.7 137.9 359.9 138.1 359.1Z" fill="#5bff00"/>
<path d="M138.8 359.4C138.9 358.7 139.4 357.6 140.0 357.2C140.7 356.8 141.3 356.8 142.6 356.8C143.9 356.7 146.2 356.6 147.8 356.7C149.4 356.7 151.2 356.7 152.5 357.1C153.8 357.5 154.8 358.3 155.5 359.2C156.2 360.0 156.8 361.1 156.7 362.3C156.7 363.4 156.1 365.0 155.3 366.2C154.5 367.3 153.1 368.5 151.9 369.3C150.7 370.0 149.5 370.6 148.4 370.7C147.2 370.9 146.1 370.7 145.1 370.3C144.2 369.8 143.2 368.9 142.4 367.9C141.6 366.9 140.8 365.2 140.3 364.2C139.7 363.1 139.3 362.5 139.1 361.7C138.8 360.9 138.6 360.2 138.8 359.4Z" fill="#02ff00"/>
<path d="M139.5 359.7C139.6 359.0 140.0 358.1 140.6 357.6C141.2 357.2 141.9 357.3 143.1 357.2C144.3 357.1 146.3 357.0 147.9 357.1C149.4 357.1 151.1 357.0 152.3 357.4C153.5 357.8 154.6 358.5 155.3 359.4C155.9 360.2 156.5 361.2 156.5 362.3C156.4 363.4 155.9 364.9 155.1 366.1C154.3 367.2 152.9 368.3 151.8 369.0C150.7 369.7 149.5 370.2 148.4 370.3C147.3 370.5 146.3 370.4 145.4 369.9C144.4 369.5 143.5 368.7 142.7 367.7C141.9 366.8 141.2 365.2 140.7 364.2C140.2 363.2 139.9 362.5 139.7 361.8C139.5 361.0 139.3 360.4 139.5 359.7Z" fill="#00ff46"/>
<path d="M140.1 360.0C140.3 359.3 140.7 358.5 141.3 358.1C141.8 357.7 142.4 357.7 143.5 357.6C144.6 357.5 146.5 357.4 148.0 357.4C149.4 357.5 151.0 357.4 152.1 357.7C153.3 358.1 154.3 358.8 155.0 359.6C155.6 360.3 156.2 361.3 156.2 362.4C156.1 363.4 155.6 364.9 154.8 365.9C154.1 367.0 152.7 368.0 151.6 368.7C150.6 369.4 149.5 369.8 148.4 370.0C147.4 370.1 146.5 370.0 145.6 369.6C144.7 369.2 143.7 368.5 143.0 367.5C142.3 366.6 141.6 365.1 141.1 364.1C140.7 363.2 140.4 362.6 140.3 361.9C140.1 361.2 140.0 360.6 140.1 360.0Z" fill="#00ff90"/>
<path d="M140.8 360.2C140.9 359.6 141.3 358.8 141.8 358.5C142.4 358.1 142.9 358.2 143.9 358.1C144.9 357.9 146.7 357.8 148.0 357.8C149.4 357.8 150.9 357.7 152.0 358.1C153.1 358.4 154.1 359.0 154.7 359.8C155.3 360.5 155.9 361.4 155.8 362.4C155.8 363.5 155.3 364.8 154.6 365.8C153.8 366.8 152.5 367.8 151.5 368.4C150.5 369.1 149.4 369.5 148.5 369.6C147.5 369.7 146.6 369.6 145.8 369.2C144.9 368.9 144.0 368.2 143.3 367.3C142.6 366.5 142.0 365.0 141.6 364.1C141.2 363.2 141.0 362.7 140.8 362.0C140.7 361.4 140.6 360.8 140.8 360.2Z" fill="#00ffe0"/>
<path d="M141.4 360.5C141.6 359.9 141.9 359.2 142.4 358.9C142.9 358.5 143.3 358.6 144.3 358.5C145.2 358.4 146.8 358.2 148.1 358.2C149.4 358.2 150.8 358.1 151.8 358.4C152.9 358.7 153.8 359.3 154.4 360.0C155.0 360.6 155.5 361.5 155.5 362.5C155.5 363.5 155.0 364.8 154.3 365.7C153.6 366.7 152.3 367.6 151.4 368.2C150.4 368.7 149.4 369.1 148.5 369.2C147.6 369.3 146.8 369.2 146.0 368.9C145.2 368.6 144.3 367.9 143.6 367.1C143.0 366.3 142.4 364.9 142.0 364.1C141.6 363.2 141.5 362.7 141.4 362.1C141.3 361.5 141.2 361.0 141.4 360.5Z" fill="#00d5ff"/>
<path d="M142.0 360.7C142.2 360.2 142.6 359.6 143.0 359.3C143.4 359.0 143.8 359.0 144.7 358.9C145.5 358.8 147.0 358.6 148.2 358.6C149.3 358.5 150.7 358.5 151.6 358.7C152.6 359.0 153.5 359.5 154.1 360.2C154.7 360.8 155.2 361.6 155.2 362.6C155.2 363.5 154.7 364.7 154.0 365.6C153.3 366.5 152.1 367.3 151.2 367.9C150.3 368.4 149.4 368.7 148.6 368.8C147.7 368.9 147.0 368.9 146.2 368.5C145.4 368.2 144.6 367.7 144.0 366.9C143.3 366.2 142.8 364.8 142.5 364.0C142.1 363.3 142.1 362.8 142.0 362.2C141.9 361.7 141.9 361.2 142.0 360.7Z" fill="#0092ff"/>
<path d="M142.6 361.0C142.8 360.5 143.1 359.9 143.5 359.7C143.9 359.4 144.3 359.4 145.0 359.3C145.8 359.1 147.2 359.0 148.3 358.9C149.3 358.9 150.6 358.8 151.5 359.1C152.4 359.3 153.3 359.8 153.8 360.4C154.4 361.0 154.9 361.8 154.8 362.6C154.8 363.5 154.3 364.7 153.7 365.5C153.1 366.3 152.0 367.1 151.1 367.6C150.3 368.1 149.4 368.3 148.6 368.4C147.8 368.5 147.1 368.5 146.4 368.2C145.7 367.9 144.9 367.4 144.3 366.7C143.7 366.0 143.2 364.7 142.9 364.0C142.6 363.3 142.6 362.8 142.5 362.3C142.5 361.8 142.5 361.4 142.6 361.0Z" fill="#005bff"/>
<path d="M143.2 361.2C143.4 360.8 143.7 360.3 144.1 360.0C144.4 359.8 144.7 359.8 145.4 359.7C146.1 359.5 147.3 359.3 148.3 359.3C149.3 359.2 150.5 359.2 151.3 359.4C152.2 359.6 153.0 360.0 153.5 360.6C154.0 361.1 154.5 361.9 154.5 362.7C154.5 363.5 154.0 364.6 153.4 365.4C152.8 366.1 151.8 366.8 151.0 367.3C150.2 367.7 149.4 368.0 148.7 368.1C147.9 368.2 147.3 368.1 146.6 367.9C145.9 367.6 145.2 367.2 144.6 366.5C144.1 365.9 143.6 364.7 143.4 364.0C143.1 363.3 143.1 362.9 143.1 362.4C143.1 362.0 143.1 361.6 143.2 361.2Z" fill="#0031ff"/>
<path d="M143.8 361.4C144.0 361.1 144.3 360.6 144.6 360.4C144.9 360.2 145.1 360.2 145.8 360.0C146.4 359.9 147.5 359.7 148.4 359.7C149.3 359.6 150.3 359.5 151.1 359.7C151.9 359.9 152.7 360.3 153.2 360.8C153.7 361.3 154.1 362.0 154.1 362.7C154.1 363.5 153.7 364.5 153.1 365.2C152.6 365.9 151.6 366.6 150.8 367.0C150.1 367.4 149.4 367.6 148.7 367.7C148.1 367.8 147.5 367.7 146.8 367.5C146.2 367.3 145.5 366.9 145.0 366.3C144.5 365.7 144.0 364.6 143.8 364.0C143.6 363.3 143.6 363.0 143.6 362.5C143.6 362.1 143.7 361.8 143.8 361.4Z" fill="#0008ff"/>
<path d="M144.4 361.7C144.5 361.3 144.8 360.9 145.1 360.7C145.4 360.5 145.6 360.5 146.1 360.4C146.7 360.3 147.7 360.1 148.5 360.0C149.3 360.0 150.2 359.9 151.0 360.1C151.7 360.2 152.4 360.6 152.9 361.0C153.3 361.5 153.7 362.1 153.7 362.8C153.7 363.5 153.3 364.5 152.8 365.1C152.3 365.8 151.4 366.3 150.7 366.7C150.0 367.1 149.4 367.2 148.8 367.3C148.2 367.4 147.6 367.4 147.0 367.2C146.5 366.9 145.8 366.6 145.3 366.1C144.9 365.5 144.5 364.5 144.3 363.9C144.1 363.4 144.2 363.0 144.2 362.6C144.2 362.3 144.2 362.0 144.4 361.7Z" fill="#1700ec"/>
<path d="M144.9 361.9C145.1 361.6 145.3 361.3 145.6 361.1C145.8 360.9 146.0 360.9 146.5 360.8C147.0 360.6 147.8 360.4 148.6 360.4C149.3 360.3 150.1 360.3 150.8 360.4C151.5 360.6 152.1 360.9 152.5 361.3C153.0 361.7 153.3 362.3 153.3 362.9C153.3 363.5 153.0 364.4 152.5 365.0C152.0 365.6 151.2 366.1 150.5 366.4C149.9 366.7 149.4 366.9 148.8 366.9C148.3 367.0 147.8 367.0 147.3 366.8C146.7 366.6 146.1 366.3 145.7 365.8C145.3 365.4 144.9 364.4 144.8 363.9C144.6 363.4 144.7 363.1 144.7 362.7C144.7 362.4 144.8 362.2 144.9 361.9Z" fill="#3300d5"/>
<path d="M145.5 362.1C145.6 361.9 145.8 361.6 146.0 361.4C146.3 361.2 146.4 361.2 146.8 361.1C147.2 361.0 148.0 360.8 148.6 360.8C149.3 360.7 150.0 360.6 150.6 360.8C151.2 360.9 151.8 361.1 152.2 361.5C152.6 361.9 152.9 362.4 152.9 362.9C152.9 363.5 152.6 364.3 152.2 364.8C151.7 365.4 150.9 365.8 150.4 366.1C149.8 366.4 149.3 366.5 148.9 366.6C148.4 366.6 147.9 366.6 147.5 366.4C147.0 366.3 146.4 366.0 146.0 365.6C145.7 365.2 145.4 364.3 145.2 363.9C145.1 363.4 145.2 363.1 145.2 362.8C145.3 362.6 145.3 362.3 145.5 362.1Z" fill="#4000b0"/>
<path d="M146.0 362.3C146.1 362.1 146.3 361.9 146.5 361.7C146.7 361.6 146.8 361.6 147.1 361.5C147.5 361.4 148.1 361.2 148.7 361.1C149.2 361.1 149.9 361.0 150.5 361.1C151.0 361.2 151.5 361.4 151.8 361.8C152.2 362.1 152.5 362.5 152.5 363.0C152.5 363.5 152.2 364.2 151.8 364.7C151.4 365.2 150.7 365.6 150.3 365.8C149.8 366.1 149.3 366.1 148.9 366.2C148.5 366.2 148.1 366.2 147.7 366.1C147.3 366.0 146.7 365.8 146.4 365.4C146.1 365.0 145.8 364.2 145.7 363.8C145.6 363.4 145.7 363.2 145.8 362.9C145.8 362.7 145.9 362.5 146.0 362.3Z" fill="#460084"/>
<path d="M146.5 362.5C146.6 362.3 146.8 362.1 146.9 362.0C147.1 361.9 147.2 361.9 147.5 361.8C147.8 361.7 148.3 361.5 148.8 361.5C149.2 361.4 149.8 361.4 150.3 361.5C150.7 361.5 151.2 361.7 151.5 362.0C151.8 362.3 152.1 362.7 152.1 363.1C152.1 363.5 151.8 364.1 151.5 364.5C151.1 364.9 150.5 365.3 150.1 365.5C149.7 365.7 149.3 365.8 148.9 365.8C148.6 365.9 148.3 365.9 147.9 365.7C147.5 365.6 147.1 365.5 146.8 365.1C146.5 364.8 146.3 364.1 146.2 363.8C146.1 363.4 146.2 363.3 146.3 363.0C146.3 362.8 146.4 362.7 146.5 362.5Z" fill="#39005e"/>
<path d="M147.0 362.7C147.1 362.6 147.2 362.4 147.3 362.3C147.5 362.2 147.5 362.2 147.8 362.1C148.0 362.0 148.5 361.9 148.8 361.8C149.2 361.8 149.7 361.7 150.1 361.8C150.5 361.9 150.9 362.0 151.1 362.3C151.4 362.5 151.6 362.8 151.6 363.2C151.6 363.5 151.4 364.1 151.1 364.4C150.8 364.7 150.3 365.0 150.0 365.2C149.6 365.4 149.3 365.4 149.0 365.4C148.7 365.5 148.4 365.5 148.1 365.4C147.8 365.3 147.4 365.2 147.2 364.9C146.9 364.6 146.8 364.1 146.7 363.8C146.6 363.5 146.7 363.3 146.8 363.1C146.8 363.0 146.9 362.8 147.0 362.7Z" fill="#24003a"/>
<path d="M147.4 362.9C147.5 362.8 147.6 362.7 147.7 362.6C147.8 362.5 147.9 362.5 148.1 362.4C148.3 362.4 148.6 362.2 148.9 362.2C149.2 362.1 149.6 362.1 149.9 362.2C150.2 362.2 150.5 362.3 150.8 362.5C151.0 362.7 151.2 363.0 151.2 363.3C151.2 363.5 151.0 364.0 150.7 364.2C150.5 364.5 150.1 364.7 149.8 364.9C149.5 365.0 149.3 365.1 149.0 365.1C148.8 365.1 148.6 365.1 148.3 365.0C148.1 365.0 147.8 364.9 147.6 364.6C147.4 364.4 147.2 364.0 147.2 363.7C147.1 363.5 147.2 363.4 147.3 363.2C147.3 363.1 147.4 363.0 147.4 362.9Z" fill="#0f0017"/>
<path d="M147.9 363.1C148.0 363.0 148.1 362.9 148.1 362.9C148.2 362.8 148.2 362.8 148.4 362.7C148.5 362.7 148.8 362.6 149.0 362.5C149.2 362.5 149.5 362.5 149.7 362.5C150.0 362.6 150.2 362.6 150.4 362.8C150.5 362.9 150.7 363.1 150.7 363.3C150.7 363.6 150.5 363.9 150.4 364.1C150.2 364.3 149.9 364.5 149.7 364.6C149.4 364.7 149.3 364.7 149.1 364.7C148.9 364.7 148.7 364.7 148.5 364.7C148.4 364.6 148.1 364.5 148.0 364.4C147.8 364.2 147.7 363.9 147.7 363.7C147.6 363.5 147.7 363.4 147.8 363.3C147.8 363.2 147.8 363.2 147.9 363.1Z" fill="#09000d"/>
<path d="M148.4 363.3C148.4 363.2 148.5 363.2 148.5 363.1C148.6 363.1 148.6 363.1 148.7 363.0C148.7 363.0 148.9 362.9 149.1 362.9C149.2 362.9 149.4 362.9 149.6 362.9C149.7 362.9 149.9 363.0 150.0 363.0C150.1 363.1 150.2 363.3 150.2 363.4C150.2 363.6 150.1 363.8 150.0 363.9C149.9 364.1 149.7 364.2 149.5 364.2C149.4 364.3 149.2 364.3 149.1 364.3C149.0 364.3 148.9 364.4 148.8 364.3C148.6 364.3 148.5 364.2 148.4 364.1C148.3 364.0 148.2 363.8 148.2 363.7C148.2 363.5 148.2 363.5 148.3 363.4C148.3 363.4 148.3 363.3 148.4 363.3Z" fill="#050008"/>
<path d="M148.8 363.4C148.8 363.4 148.8 363.4 148.9 363.4C148.9 363.3 148.9 363.3 148.9 363.3C149.0 363.3 149.1 363.3 149.1 363.2C149.2 363.2 149.3 363.2 149.4 363.2C149.5 363.2 149.5 363.3 149.6 363.3C149.7 363.4 149.7 363.4 149.7 363.5C149.7 363.6 149.7 363.7 149.6 363.8C149.5 363.8 149.4 363.9 149.4 363.9C149.3 364.0 149.2 364.0 149.2 364.0C149.1 364.0 149.0 364.0 149.0 364.0C148.9 363.9 148.8 363.9 148.8 363.9C148.7 363.8 148.7 363.7 148.7 363.6C148.7 363.6 148.7 363.5 148.7 363.5C148.7 363.5 148.8 363.5 148.8 363.4Z" fill="#020003"/>
<ellipse cx="102.45" cy="330.15" rx="6.20" ry="2.70" transform="rotate(-41 102.45 330.15)" fill="#ff0000"/>
</g>
<g><use href="#mk" x="78.64" y="322.27"/><use href="#mk" x="78.64" y="332.49"/><use href="#mk" x="78.64" y="342.71"/><use href="#mk" x="78.64" y="352.93"/><use href="#mk" x="78.64" y="363.15"/><use href="#mk" x="78.64" y="373.37"/><use href="#mk" x="78.64" y="383.59"/><use href="#mk" x="78.64" y="393.81"/><use href="#mk" x="78.64" y="404.03"/><use href="#mk" x="87.91" y="317.16"/><use href="#mk" x="87.91" y="327.38"/><use href="#mk" x="87.91" y="337.60"/><use href="#mk" x="87.91" y="347.82"/><use href="#mk" x="87.91" y="358.04"/><use href="#mk" x="87.91" y="368.26"/><use href="#mk" x="87.91" y="378.48"/><use href="#mk" x="87.91" y="388.70"/><use href="#mk" x="87.91" y="398.92"/><use href="#mk" x="87.91" y="409.14"/><use href="#mk" x="97.18" y="312.05"/><use href="#mk" x="97.18" y="322.27"/><use href="#mk" x="97.18" y="332.49"/><use href="#mk" x="97.18" y="342.71"/><use href="#mk" x="97.18" y="352.93"/><use href="#mk" x="97.18" y="363.15"/><use href="#mk" x="97.18" y="373.37"/><use href="#mk" x="97.18" y="383.59"/><use href="#mk" x="97.18" y="393.81"/><use href="#mk" x="97.18" y="404.03"/><use href="#mk" x="97.18" y="414.25"/><use href="#mk" x="106.45" y="306.94"/><use href="#mk" x="106.45" y="317.16"/><use href="#mk" x="106.45" y="327.38"/><use href="#mk" x="106.45" y="337.60"/><use href="#mk" x="106.45" y="347.82"/><use href="#mk" x="106.45" y="358.04"/><use href="#mk" x="106.45" y="368.26"/><use href="#mk" x="106.45" y="378.48"/><use href="#mk" x="106.45" y="388.70"/><use href="#mk" x="106.45" y="398.92"/><use href="#mk" x="106.45" y="409.14"/><use href="#mk" x="106.45" y="419.36"/><use href="#mk" x="115.72" y="301.83"/><use href="#mk" x="115.72" y="312.05"/><use href="#mk" x="115.72" y="322.27"/><use href="#mk" x="115.72" y="332.49"/><use href="#mk" x="115.72" y="342.71"/><use href="#mk" x="115.72" y="352.93"/><use href="#mk" x="115.72" y="363.15"/><use href="#mk" x="115.72" y="373.37"/><use href="#mk" x="115.72" y="383.59"/><use href="#mk" x="115.72" y="393.81"/><use href="#mk" x="115.72" y="404.03"/><use href="#mk" x="115.72" y="414.25"/><use href="#mk" x="115.72" y="424.47"/><use href="#mk" x="124.99" y="296.72"/><use href="#mk" x="124.99" y="306.94"/><use href="#mk" x="124.99" y="317.16"/><use href="#mk" x="124.99" y="327.38"/><use href="#mk" x="124.99" y="337.60"/><use href="#mk" x="124.99" y="347.82"/><use href="#mk" x="124.99" y="358.04"/><use href="#mk" x="124.99" y="368.26"/><use href="#mk" x="124.99" y="378.48"/><use href="#mk" x="124.99" y="388.70"/><use href="#mk" x="124.99" y="398.92"/><use href="#mk" x="124.99" y="409.14"/><use href="#mk" x="124.99" y="419.36"/><use href="#mk" x="124.99" y="429.58"/><use href="#mk" x="134.26" y="291.61"/><use href="#mk" x="134.26" y="301.83"/><use href="#mk" x="134.26" y="312.05"/><use href="#mk" x="134.26" y="322.27"/><use href="#mk" x="134.26" y="332.49"/><use href="#mk" x="134.26" y="342.71"/><use href="#mk" x="134.26" y="352.93"/><use href="#mk" x="134.26" y="363.15"/><use href="#mk" x="134.26" y="373.37"/><use href="#mk" x="134.26" y="383.59"/><use href="#mk" x="134.26" y="393.81"/><use href="#mk" x="134.26" y="404.03"/><use href="#mk" x="134.26" y="414.25"/><use href="#mk" x="134.26" y="424.47"/><use href="#mk" x="134.26" y="434.69"/><use href="#mk" x="143.53" y="286.50"/><use href="#mk" x="143.53" y="296.72"/><use href="#mk" x="143.53" y="306.94"/><use href="#mk" x="143.53" y="317.16"/><use href="#mk" x="143.53" y="327.38"/><use href="#mk" x="143.53" y="337.60"/><use href="#mk" x="143.53" y="347.82"/><use href="#mk" x="143.53" y="358.04"/><use href="#mk" x="143.53" y="368.26"/><use href="#mk" x="143.53" y="378.48"/><use href="#mk" x="143.53" y="388.70"/><use href="#mk" x="143.53" y="398.92"/><use href="#mk" x="143.53" y="409.14"/><use href="#mk" x="143.53" y="419.36"/><use href="#mk" x="143.53" y="429.58"/><use href="#mk" x="143.53" y="439.80"/><use href="#mk" x="152.80" y="281.39"/><use href="#mk" x="152.80" y="291.61"/><use href="#mk" x="152.80" y="301.83"/><use href="#mk" x="152.80" y="312.05"/><use href="#mk" x="152.80" y="322.27"/><use href="#mk" x="152.80" y="332.49"/><use href="#mk" x="152.80" y="342.71"/><use href="#mk" x="152.80" y="352.93"/><use href="#mk" x="152.80" y="363.15"/><use href="#mk" x="152.80" y="373.37"/><use href="#mk" x="152.80" y="383.59"/><use href="#mk" x="152.80" y="393.81"/><use href="#mk" x="152.80" y="404.03"/><use href="#mk" x="152.80" y="414.25"/><use href="#mk" x="152.80" y="424.47"/><use href="#mk" x="152.80" y="434.69"/><use href="#mk" x="152.80" y="444.91"/><use href="#mk" x="162.07" y="286.50"/><use href="#mk" x="162.07" y="296.72"/><use href="#mk" x="162.07" y="306.94"/><use href="#mk" x="162.07" y="317.16"/><use href="#mk" x="162.07" y="327.38"/><use href="#mk" x="162.07" y="337.60"/><use href="#mk" x="162.07" y="347.82"/><use href="#mk" x="162.07" y="358.04"/><use href="#mk" x="162.07" y="368.26"/><use href="#mk" x="162.07" y="378.48"/><use href="#mk" x="162.07" y="388.70"/><use href="#mk" x="162.07" y="398.92"/><use href="#mk" x="162.07" y="409.14"/><use href="#mk" x="162.07" y="419.36"/><use href="#mk" x="162.07" y="429.58"/><use href="#mk" x="162.07" y="439.80"/><use href="#mk" x="171.34" y="291.61"/><use href="#mk" x="171.34" y="301.83"/><use href="#mk" x="171.34" y="312.05"/><use href="#mk" x="171.34" y="322.27"/><use href="#mk" x="171.34" y="332.49"/><use href="#mk" x="171.34" y="342.71"/><use href="#mk" x="171.34" y="352.93"/><use href="#mk" x="171.34" y="363.15"/><use href="#mk" x="171.34" y="373.37"/><use href="#mk" x="171.34" y="383.59"/><use href="#mk" x="171.34" y="393.81"/><use href="#mk" x="171.34" y="404.03"/><use href="#mk" x="171.34" y="414.25"/><use href="#mk" x="171.34" y="424.47"/><use href="#mk" x="171.34" y="434.69"/><use href="#mk" x="180.61" y="296.72"/><use href="#mk" x="180.61" y="306.94"/><use href="#mk" x="180.61" y="317.16"/><use href="#mk" x="180.61" y="327.38"/><use href="#mk" x="180.61" y="337.60"/><use href="#mk" x="180.61" y="347.82"/><use href="#mk" x="180.61" y="358.04"/><use href="#mk" x="180.61" y="368.26"/><use href="#mk" x="180.61" y="378.48"/><use href="#mk" x="180.61" y="388.70"/><use href="#mk" x="180.61" y="398.92"/><use href="#mk" x="180.61" y="409.14"/><use href="#mk" x="180.61" y="419.36"/><use href="#mk" x="180.61" y="429.58"/><use href="#mk" x="189.88" y="301.83"/><use href="#mk" x="189.88" y="312.05"/><use href="#mk" x="189.88" y="322.27"/><use href="#mk" x="189.88" y="332.49"/><use href="#mk" x="189.88" y="342.71"/><use href="#mk" x="189.88" y="352.93"/><use href="#mk" x="189.88" y="363.15"/><use href="#mk" x="189.88" y="373.37"/><use href="#mk" x="189.88" y="383.59"/><use href="#mk" x="189.88" y="393.81"/><use href="#mk" x="189.88" y="404.03"/><use href="#mk" x="189.88" y="414.25"/><use href="#mk" x="189.88" y="424.47"/><use href="#mk" x="199.15" y="306.94"/><use href="#mk" x="199.15" y="317.16"/><use href="#mk" x="199.15" y="327.38"/><use href="#mk" x="199.15" y="337.60"/><use href="#mk" x="199.15" y="347.82"/><use href="#mk" x="199.15" y="358.04"/><use href="#mk" x="199.15" y="368.26"/><use href="#mk" x="199.15" y="378.48"/><use href="#mk" x="199.15" y="388.70"/><use href="#mk" x="199.15" y="398.92"/><use href="#mk" x="199.15" y="409.14"/><use href="#mk" x="199.15" y="419.36"/><use href="#mk" x="208.42" y="312.05"/><use href="#mk" x="208.42" y="322.27"/><use href="#mk" x="208.42" y="332.49"/><use href="#mk" x="208.42" y="342.71"/><use href="#mk" x="208.42" y="352.93"/><use href="#mk" x="208.42" y="363.15"/><use href="#mk" x="208.42" y="373.37"/><use href="#mk" x="208.42" y="383.59"/><use href="#mk" x="208.42" y="393.81"/><use href="#mk" x="208.42" y="404.03"/><use href="#mk" x="208.42" y="414.25"/><use href="#mk" x="217.69" y="317.16"/><use href="#mk" x="217.69" y="327.38"/><use href="#mk" x="217.69" y="337.60"/><use href="#mk" x="217.69" y="347.82"/><use href="#mk" x="217.69" y="358.04"/><use href="#mk" x="217.69" y="368.26"/><use href="#mk" x="217.69" y="378.48"/><use href="#mk" x="217.69" y="388.70"/><use href="#mk" x="217.69" y="398.92"/><use href="#mk" x="217.69" y="409.14"/><use href="#mk" x="226.96" y="322.27"/><use href="#mk" x="226.96" y="332.49"/><use href="#mk" x="226.96" y="342.71"/><use href="#mk" x="226.96" y="352.93"/><use href="#mk" x="226.96" y="363.15"/><use href="#mk" x="226.96" y="373.37"/><use href="#mk" x="226.96" y="383.59"/><use href="#mk" x="226.96" y="393.81"/><use href="#mk" x="226.96" y="404.03"/></g>
<path d="M119.39 253.54 L113.61 253.54 L113.03 258.54 L113.61 257.99 L115.34 257.43 L117.07 257.43 L118.81 257.99 L119.96 259.09 L120.54 260.76 L120.54 261.87 L119.96 263.53 L118.81 264.64 L117.07 265.20 L115.34 265.20 L113.61 264.64 L113.03 264.09 L112.45 262.98 M127.48 253.54 L125.74 254.10 L124.59 255.76 L124.01 258.54 L124.01 260.20 L124.59 262.98 L125.74 264.64 L127.48 265.20 L128.63 265.20 L130.37 264.64 L131.52 262.98 L132.10 260.20 L132.10 258.54 L131.52 255.76 L130.37 254.10 L128.63 253.54 L127.48 253.54 M145.40 253.54 L145.40 265.20 M145.40 253.54 L150.02 265.20 M154.64 253.54 L150.02 265.20 M154.64 253.54 L154.64 265.20 M159.27 253.54 L159.27 265.20 M167.36 253.54 L167.36 265.20 M159.27 259.09 L167.36 259.09 M177.76 257.43 L171.41 265.20 M171.41 257.43 L177.76 257.43 M171.41 265.20 L177.76 265.20 M100.77 482.68 L99.59 483.24 L98.42 484.34 L97.84 485.45 L97.25 487.12 L97.25 488.78 L97.84 489.89 L99.01 490.45 L100.18 490.45 L101.35 489.89 L103.11 488.23 L104.28 486.56 L105.45 484.34 L106.04 482.68 M100.77 482.68 L101.94 482.68 L102.52 483.24 L103.11 484.34 L104.28 488.78 L104.87 489.89 L105.45 490.45 L106.04 490.45 M111.31 489.89 L110.73 490.45 L110.14 489.89 L110.73 489.34 L111.31 489.89 L111.31 491.00 L110.73 492.12 L110.14 492.67 M131.82 478.79 L131.82 490.45 M131.82 484.34 L130.65 483.24 L129.48 482.68 L127.72 482.68 L126.55 483.24 L125.38 484.34 L124.79 486.01 L124.79 487.12 L125.38 488.78 L126.55 489.89 L127.72 490.45 L129.48 490.45 L130.65 489.89 L131.82 488.78 M135.93 486.01 L142.96 486.01 L142.96 484.90 L142.37 483.79 L141.79 483.24 L140.61 482.68 L138.86 482.68 L137.68 483.24 L136.51 484.34 L135.93 486.01 L135.93 487.12 L136.51 488.78 L137.68 489.89 L138.86 490.45 L140.61 490.45 L141.79 489.89 L142.96 488.78 M153.51 482.68 L153.51 491.56 L152.92 493.22 L152.33 493.78 L151.16 494.33 L149.40 494.33 L148.23 493.78 M153.51 484.34 L152.33 483.24 L151.16 482.68 L149.40 482.68 L148.23 483.24 L147.06 484.34 L146.47 486.01 L146.47 487.12 L147.06 488.78 L148.23 489.89 L149.40 490.45 L151.16 490.45 L152.33 489.89 L153.51 488.78 M158.19 482.68 L158.19 490.45 M158.19 486.01 L158.78 484.34 L159.95 483.24 L161.12 482.68 L162.88 482.68 M165.23 486.01 L172.26 486.01 L172.26 484.90 L171.67 483.79 L171.09 483.24 L169.91 482.68 L168.16 482.68 L166.98 483.24 L165.81 484.34 L165.23 486.01 L165.23 487.12 L165.81 488.78 L166.98 489.89 L168.16 490.45 L169.91 490.45 L171.09 489.89 L172.26 488.78 M175.77 486.01 L182.81 486.01 L182.81 484.90 L182.22 483.79 L181.63 483.24 L180.46 482.68 L178.70 482.68 L177.53 483.24 L176.36 484.34 L175.77 486.01 L175.77 487.12 L176.36 488.78 L177.53 489.89 L178.70 490.45 L180.46 490.45 L181.63 489.89 L182.81 488.78 M192.77 484.34 L192.18 483.24 L190.42 482.68 L188.67 482.68 L186.91 483.24 L186.32 484.34 L186.91 485.45 L188.08 486.01 L191.01 486.56 L192.18 487.12 L192.77 488.23 L192.77 488.78 L192.18 489.89 L190.42 490.45 L188.67 490.45 L186.91 489.89 L186.32 488.78 M4.88 409.04 L5.43 410.80 L6.54 411.97 L8.21 412.56 L9.87 412.56 L11.54 411.97 L12.09 411.38 L12.65 410.21 L12.65 409.04 L12.09 407.87 L10.98 406.70 L9.32 406.11 L7.65 406.11 L5.99 406.70 L4.88 407.87 L3.77 409.04 L2.66 409.63 L1.55 409.63 L0.99 409.04 L0.99 407.87 L1.55 406.70 L2.66 405.52 M12.09 400.84 L12.65 401.42 L12.09 402.01 L11.54 401.42 L12.09 400.84 L13.20 400.84 L14.31 401.42 L14.87 402.01 M0.99 380.33 L12.65 380.33 M6.54 380.33 L5.43 381.50 L4.88 382.67 L4.88 384.43 L5.43 385.60 L6.54 386.77 L8.21 387.36 L9.32 387.36 L10.98 386.77 L12.10 385.60 L12.65 384.43 L12.65 382.67 L12.10 381.50 L10.98 380.33 M8.21 376.22 L8.21 369.19 L7.10 369.19 L5.99 369.78 L5.44 370.36 L4.88 371.54 L4.88 373.29 L5.43 374.47 L6.54 375.64 L8.21 376.22 L9.32 376.22 L10.98 375.64 L12.10 374.47 L12.65 373.29 L12.65 371.54 L12.10 370.36 L10.99 369.19 M4.88 358.64 L13.76 358.64 L15.43 359.23 L15.98 359.82 L16.54 360.99 L16.54 362.75 L15.98 363.92 M6.55 358.64 L5.44 359.82 L4.88 360.99 L4.88 362.75 L5.44 363.92 L6.55 365.09 L8.21 365.68 L9.32 365.68 L10.99 365.09 L12.10 363.92 L12.65 362.75 L12.65 360.99 L12.10 359.82 L10.99 358.64 M4.88 353.96 L12.65 353.96 M8.21 353.96 L6.55 353.37 L5.44 352.20 L4.88 351.03 L4.88 349.27 M8.21 346.92 L8.21 339.89 L7.10 339.89 L5.99 340.48 L5.44 341.06 L4.88 342.24 L4.88 343.99 L5.44 345.17 L6.55 346.34 L8.21 346.92 L9.32 346.92 L10.99 346.34 L12.10 345.17 L12.65 343.99 L12.65 342.24 L12.10 341.06 L10.99 339.89 M8.21 336.38 L8.21 329.34 L7.10 329.34 L5.99 329.93 L5.44 330.52 L4.88 331.69 L4.88 333.45 L5.44 334.62 L6.55 335.79 L8.21 336.38 L9.32 336.38 L10.99 335.79 L12.10 334.62 L12.65 333.45 L12.65 331.69 L12.10 330.52 L10.99 329.34 M6.55 319.38 L5.44 319.97 L4.88 321.73 L4.88 323.48 L5.44 325.24 L6.55 325.83 L7.66 325.24 L8.21 324.07 L8.77 321.14 L9.32 319.97 L10.43 319.38 L10.99 319.38 L12.10 319.97 L12.65 321.73 L12.65 323.48 L12.10 325.24 L10.99 325.83" stroke="#b4b4b4" stroke-width="0.85" fill="none" stroke-linecap="round" stroke-linejoin="round"/>
<path d="M25.46 273.76 L25.46 273.35 L25.87 272.52 L26.29 272.10 L27.12 271.69 L28.78 271.69 L29.61 272.10 L30.02 272.52 L30.44 273.35 L30.44 274.18 L30.02 275.01 L29.19 276.25 L25.04 280.40 L30.85 280.40 M33.76 273.76 L33.76 273.35 L34.17 272.52 L34.59 272.10 L35.42 271.69 L37.08 271.69 L37.91 272.10 L38.32 272.52 L38.74 273.35 L38.74 274.18 L38.32 275.01 L37.49 276.25 L33.34 280.40 L39.15 280.40 M42.47 279.49 L41.98 279.99 L42.47 280.48 L42.97 279.99 L42.47 279.49 M42.06 279.99 L42.89 279.99 M42.47 280.40 L42.47 279.57 M51.19 274.59 L50.77 275.84 L49.94 276.67 L48.70 277.08 L48.28 277.08 L47.04 276.67 L46.21 275.84 L45.79 274.59 L45.79 274.18 L46.21 272.93 L47.04 272.10 L48.28 271.69 L48.70 271.69 L49.94 272.10 L50.77 272.93 L51.19 274.59 L51.19 276.67 L50.77 278.74 L49.94 279.99 L48.70 280.40 L47.87 280.40 L46.62 279.99 L46.21 279.16 M25.46 329.99 L25.46 329.58 L25.87 328.75 L26.29 328.33 L27.12 327.92 L28.78 327.92 L29.61 328.33 L30.02 328.75 L30.44 329.58 L30.44 330.41 L30.02 331.24 L29.19 332.48 L25.04 336.63 L30.85 336.63 M33.76 329.99 L33.76 329.58 L34.17 328.75 L34.59 328.33 L35.42 327.92 L37.08 327.92 L37.91 328.33 L38.32 328.75 L38.74 329.58 L38.74 330.41 L38.32 331.24 L37.49 332.48 L33.34 336.63 L39.15 336.63 M42.47 335.72 L41.98 336.22 L42.47 336.72 L42.97 336.22 L42.47 335.72 M42.06 336.22 L42.89 336.22 M42.47 336.63 L42.47 335.80 M46.62 327.92 L51.19 327.92 L48.70 331.24 L49.94 331.24 L50.77 331.65 L51.19 332.07 L51.60 333.31 L51.60 334.14 L51.19 335.39 L50.36 336.22 L49.11 336.63 L47.87 336.63 L46.62 336.22 L46.21 335.80 L45.79 334.97 M25.46 389.83 L25.46 389.41 L25.87 388.58 L26.29 388.17 L27.12 387.75 L28.78 387.75 L29.61 388.17 L30.02 388.58 L30.44 389.41 L30.44 390.24 L30.02 391.07 L29.19 392.32 L25.04 396.47 L30.85 396.47 M34.59 389.41 L35.42 389.00 L36.66 387.75 L36.66 396.47 M42.47 395.55 L41.98 396.05 L42.47 396.55 L42.97 396.05 L42.47 395.55 M42.06 396.05 L42.89 396.05 M42.47 396.47 L42.47 395.64 M51.60 387.75 L47.45 396.47 M45.79 387.75 L51.60 387.75 M25.46 444.66 L25.46 444.25 L25.87 443.42 L26.29 443.00 L27.12 442.59 L28.78 442.59 L29.61 443.00 L30.02 443.42 L30.44 444.25 L30.44 445.07 L30.02 445.91 L29.19 447.15 L25.04 451.30 L30.85 451.30 M34.59 444.25 L35.42 443.83 L36.66 442.59 L36.66 451.30 M42.47 450.39 L41.98 450.88 L42.47 451.38 L42.97 450.88 L42.47 450.39 M42.06 450.88 L42.89 450.88 M42.47 451.30 L42.47 450.47 M47.04 444.25 L47.87 443.83 L49.11 442.59 L49.11 451.30 M45.45 461.24 L44.20 461.65 L43.78 462.48 L43.78 463.31 L44.20 464.14 L45.03 464.56 L46.69 464.97 L47.94 465.38 L48.77 466.21 L49.18 467.05 L49.18 468.29 L48.77 469.12 L48.35 469.53 L47.10 469.95 L45.45 469.95 L44.20 469.53 L43.78 469.12 L43.37 468.29 L43.37 467.05 L43.78 466.21 L44.62 465.38 L45.86 464.97 L47.52 464.56 L48.35 464.14 L48.77 463.31 L48.77 462.48 L48.35 461.65 L47.10 461.24 L45.45 461.24 M55.82 461.24 L51.67 467.05 L57.89 467.05 M55.82 461.24 L55.82 469.95 M60.80 469.04 L60.30 469.53 L60.80 470.03 L61.30 469.53 L60.80 469.04 M60.38 469.53 L61.22 469.53 M60.80 469.95 L60.80 469.12 M69.52 462.48 L69.10 461.65 L67.86 461.24 L67.03 461.24 L65.78 461.65 L64.95 462.89 L64.53 464.97 L64.53 467.05 L64.95 468.70 L65.78 469.53 L67.03 469.95 L67.44 469.95 L68.69 469.53 L69.52 468.70 L69.93 467.46 L69.93 467.05 L69.52 465.80 L68.69 464.97 L67.44 464.56 L67.03 464.56 L65.78 464.97 L64.95 465.80 L64.53 467.05 M104.61 461.24 L103.37 461.65 L102.95 462.48 L102.95 463.31 L103.37 464.14 L104.20 464.56 L105.86 464.97 L107.10 465.38 L107.93 466.21 L108.35 467.05 L108.35 468.29 L107.93 469.12 L107.52 469.53 L106.27 469.95 L104.61 469.95 L103.37 469.53 L102.95 469.12 L102.54 468.29 L102.54 467.05 L102.95 466.21 L103.78 465.38 L105.03 464.97 L106.69 464.56 L107.52 464.14 L107.93 463.31 L107.93 462.48 L107.52 461.65 L106.27 461.24 L104.61 461.24 M114.99 461.24 L110.84 467.05 L117.06 467.05 M114.99 461.24 L114.99 469.95 M119.97 469.04 L119.47 469.53 L119.97 470.03 L120.46 469.53 L119.97 469.04 M119.55 469.53 L120.38 469.53 M119.97 469.95 L119.97 469.12 M125.78 461.24 L124.53 461.65 L123.70 462.89 L123.29 464.97 L123.29 466.21 L123.70 468.29 L124.53 469.53 L125.78 469.95 L126.61 469.95 L127.85 469.53 L128.68 468.29 L129.10 466.21 L129.10 464.97 L128.68 462.89 L127.85 461.65 L126.61 461.24 L125.78 461.24 M163.57 461.24 L162.33 461.65 L161.91 462.48 L161.91 463.31 L162.33 464.14 L163.16 464.56 L164.82 464.97 L166.06 465.38 L166.89 466.21 L167.31 467.05 L167.31 468.29 L166.89 469.12 L166.48 469.53 L165.23 469.95 L163.57 469.95 L162.33 469.53 L161.91 469.12 L161.50 468.29 L161.50 467.05 L161.91 466.21 L162.74 465.38 L163.99 464.97 L165.65 464.56 L166.48 464.14 L166.89 463.31 L166.89 462.48 L166.48 461.65 L165.23 461.24 L163.57 461.24 M170.63 461.24 L175.19 461.24 L172.70 464.56 L173.95 464.56 L174.78 464.97 L175.19 465.38 L175.61 466.63 L175.61 467.46 L175.19 468.70 L174.36 469.53 L173.12 469.95 L171.87 469.95 L170.63 469.53 L170.21 469.12 L169.80 468.29 M178.93 469.04 L178.43 469.53 L178.93 470.03 L179.42 469.53 L178.93 469.04 M178.51 469.53 L179.34 469.53 M178.93 469.95 L178.93 469.12 M186.40 461.24 L182.25 467.05 L188.47 467.05 M186.40 461.24 L186.40 469.95 M222.94 461.24 L221.70 461.65 L221.28 462.48 L221.28 463.31 L221.70 464.14 L222.53 464.56 L224.19 464.97 L225.44 465.38 L226.26 466.21 L226.68 467.05 L226.68 468.29 L226.26 469.12 L225.85 469.53 L224.60 469.95 L222.94 469.95 L221.70 469.53 L221.28 469.12 L220.87 468.29 L220.87 467.05 L221.28 466.21 L222.12 465.38 L223.36 464.97 L225.02 464.56 L225.85 464.14 L226.26 463.31 L226.26 462.48 L225.85 461.65 L224.60 461.24 L222.94 461.24 M229.59 463.31 L229.59 462.89 L230.00 462.06 L230.41 461.65 L231.25 461.24 L232.91 461.24 L233.74 461.65 L234.15 462.06 L234.56 462.89 L234.56 463.72 L234.15 464.56 L233.32 465.80 L229.17 469.95 L234.98 469.95 M238.30 469.04 L237.80 469.53 L238.30 470.03 L238.80 469.53 L238.30 469.04 M237.88 469.53 L238.72 469.53 M238.30 469.95 L238.30 469.12 M243.69 461.24 L242.45 461.65 L242.03 462.48 L242.03 463.31 L242.45 464.14 L243.28 464.56 L244.94 464.97 L246.19 465.38 L247.01 466.21 L247.43 467.05 L247.43 468.29 L247.01 469.12 L246.60 469.53 L245.35 469.95 L243.69 469.95 L242.45 469.53 L242.03 469.12 L241.62 468.29 L241.62 467.05 L242.03 466.21 L242.87 465.38 L244.11 464.97 L245.77 464.56 L246.60 464.14 L247.01 463.31 L247.01 462.48 L246.60 461.65 L245.35 461.24 L243.69 461.24" stroke="#7e7e7e" stroke-width="0.85" fill="none" stroke-linecap="round" stroke-linejoin="round"/>
<g stroke="#000" stroke-opacity="0.27" stroke-width="1.05" fill="none">
<path d="M334.95 271.50H513.95"/><path d="M334.95 451.00H513.95"/><path d="M335.45 271.00V451.50"/><path d="M513.45 271.00V451.50"/>
<path d="M394.78 271.50v3.20 M394.78 451.00v-3.20 M335.45 331.33h3.20 M513.45 331.33h-3.20 M454.12 271.50v3.20 M454.12 451.00v-3.20 M335.45 391.17h3.20 M513.45 391.17h-3.20"/>
</g>
<g clip-path="url(#cp3)">
<path d="M435.2 272.1C436.8 272.3 439.3 273.1 440.9 274.1C442.4 275.1 443.7 276.7 444.5 278.2C445.3 279.6 445.7 281.4 445.7 283.0C445.7 284.6 445.2 286.3 444.5 287.9C443.8 289.4 442.8 291.0 441.7 292.3C440.5 293.6 439.0 295.1 437.6 295.9C436.2 296.8 434.7 297.6 433.2 297.6C431.7 297.5 430.0 296.6 428.7 295.5C427.5 294.5 426.3 292.8 425.5 291.1C424.7 289.4 424.1 287.3 424.1 285.4C424.0 283.5 424.5 281.5 425.1 279.8C425.7 278.1 426.9 276.5 427.9 275.3C428.9 274.2 429.9 273.4 431.2 272.9C432.4 272.4 433.6 271.9 435.2 272.1Z" fill="#ff0000"/>
<path d="M434.7 274.7C436.1 274.9 438.2 275.5 439.6 276.4C440.9 277.3 442.0 278.6 442.7 279.9C443.4 281.1 443.7 282.6 443.7 284.0C443.7 285.4 443.3 286.8 442.8 288.1C442.2 289.5 441.4 290.8 440.5 292.0C439.5 293.2 438.2 294.5 437.0 295.3C435.8 296.2 434.4 296.9 433.0 296.9C431.7 296.9 430.1 296.3 428.9 295.3C427.7 294.3 426.6 292.7 425.9 291.1C425.2 289.6 424.8 287.6 424.9 285.9C424.9 284.3 425.4 282.5 426.0 281.1C426.6 279.7 427.6 278.3 428.5 277.4C429.4 276.4 430.2 275.8 431.3 275.4C432.3 274.9 433.3 274.5 434.7 274.7Z" fill="#ff4d00"/>
<path d="M434.6 275.4C435.9 275.6 437.9 276.2 439.2 277.1C440.4 277.9 441.5 279.1 442.1 280.3C442.8 281.5 443.1 282.9 443.1 284.3C443.2 285.6 442.8 286.9 442.3 288.2C441.8 289.5 441.0 290.8 440.1 291.9C439.2 293.1 438.0 294.4 436.8 295.1C435.6 295.9 434.3 296.7 433.0 296.7C431.7 296.7 430.1 296.1 429.0 295.2C427.8 294.3 426.7 292.6 426.0 291.1C425.4 289.6 425.1 287.7 425.1 286.1C425.1 284.5 425.6 282.8 426.2 281.5C426.8 280.1 427.8 278.9 428.7 278.0C429.5 277.1 430.3 276.5 431.3 276.1C432.3 275.7 433.3 275.3 434.6 275.4Z" fill="#ffa200"/>
<path d="M434.4 276.2C435.7 276.3 437.6 276.9 438.8 277.7C440.0 278.5 441.0 279.7 441.6 280.8C442.2 282.0 442.5 283.3 442.6 284.5C442.6 285.8 442.2 287.0 441.8 288.3C441.3 289.5 440.6 290.7 439.8 291.8C438.9 292.9 437.7 294.2 436.6 294.9C435.5 295.7 434.2 296.4 433.0 296.5C431.7 296.5 430.2 296.0 429.0 295.1C427.9 294.2 426.8 292.5 426.2 291.1C425.6 289.6 425.3 287.8 425.4 286.2C425.4 284.7 425.9 283.1 426.5 281.8C427.1 280.6 428.0 279.4 428.8 278.5C429.6 277.7 430.4 277.2 431.3 276.8C432.3 276.4 433.2 276.0 434.4 276.2Z" fill="#ffe400"/>
<path d="M434.3 276.9C435.5 277.1 437.3 277.6 438.4 278.4C439.5 279.1 440.5 280.2 441.1 281.3C441.7 282.4 442.0 283.6 442.0 284.8C442.0 286.0 441.7 287.2 441.3 288.3C440.9 289.5 440.2 290.7 439.4 291.7C438.6 292.8 437.5 294.0 436.4 294.7C435.3 295.5 434.1 296.2 432.9 296.2C431.7 296.2 430.2 295.8 429.1 294.9C428.0 294.1 426.9 292.5 426.4 291.0C425.8 289.6 425.6 287.9 425.6 286.4C425.7 284.9 426.2 283.4 426.8 282.2C427.3 281.0 428.2 279.9 429.0 279.1C429.8 278.3 430.5 277.8 431.4 277.5C432.3 277.1 433.1 276.8 434.3 276.9Z" fill="#dbff00"/>
<path d="M434.2 277.6C435.3 277.8 437.0 278.3 438.1 279.0C439.1 279.7 440.0 280.7 440.6 281.7C441.1 282.8 441.4 283.9 441.4 285.0C441.5 286.1 441.2 287.3 440.8 288.4C440.4 289.5 439.8 290.6 439.0 291.6C438.3 292.6 437.3 293.8 436.2 294.5C435.2 295.2 434.1 295.9 432.9 296.0C431.7 296.0 430.2 295.6 429.2 294.8C428.1 293.9 427.1 292.4 426.5 291.0C426.0 289.6 425.8 287.9 425.9 286.5C426.0 285.1 426.5 283.7 427.0 282.6C427.6 281.4 428.4 280.4 429.2 279.7C429.9 278.9 430.6 278.5 431.4 278.1C432.3 277.8 433.1 277.5 434.2 277.6Z" fill="#9eff00"/>
<path d="M434.1 278.3C435.1 278.4 436.7 278.9 437.7 279.6C438.7 280.2 439.5 281.2 440.1 282.2C440.6 283.1 440.8 284.2 440.9 285.3C440.9 286.3 440.7 287.4 440.3 288.4C440.0 289.5 439.4 290.5 438.7 291.5C438.0 292.5 437.0 293.6 436.0 294.3C435.1 295.0 434.0 295.6 432.8 295.7C431.7 295.7 430.3 295.4 429.3 294.6C428.3 293.8 427.2 292.3 426.7 291.0C426.2 289.6 426.1 288.0 426.2 286.6C426.3 285.3 426.8 284.0 427.3 282.9C427.8 281.9 428.6 280.9 429.3 280.2C430.0 279.5 430.7 279.1 431.5 278.8C432.2 278.5 433.0 278.2 434.1 278.3Z" fill="#53ff00"/>
<path d="M433.9 279.0C434.9 279.1 436.4 279.6 437.4 280.2C438.3 280.8 439.1 281.7 439.6 282.6C440.1 283.5 440.3 284.5 440.4 285.5C440.4 286.5 440.2 287.5 439.8 288.5C439.5 289.4 439.0 290.5 438.3 291.4C437.7 292.3 436.8 293.4 435.9 294.0C434.9 294.7 433.9 295.3 432.8 295.4C431.7 295.5 430.4 295.2 429.4 294.4C428.4 293.7 427.4 292.2 426.9 290.9C426.4 289.6 426.4 288.0 426.5 286.8C426.6 285.5 427.1 284.3 427.6 283.3C428.1 282.3 428.8 281.4 429.5 280.7C430.1 280.1 430.8 279.7 431.5 279.4C432.2 279.1 433.0 278.9 433.9 279.0Z" fill="#07ff00"/>
<path d="M433.8 279.6C434.7 279.8 436.1 280.2 437.0 280.7C437.9 281.3 438.6 282.2 439.1 283.0C439.5 283.9 439.8 284.8 439.8 285.8C439.9 286.7 439.7 287.6 439.4 288.5C439.1 289.4 438.6 290.4 438.0 291.3C437.4 292.1 436.5 293.1 435.7 293.8C434.8 294.4 433.8 295.0 432.8 295.1C431.7 295.2 430.4 294.9 429.5 294.2C428.5 293.5 427.6 292.1 427.1 290.8C426.7 289.6 426.7 288.1 426.8 286.9C426.9 285.7 427.3 284.6 427.8 283.6C428.3 282.7 429.0 281.9 429.7 281.3C430.3 280.7 430.8 280.3 431.5 280.0C432.2 279.8 432.9 279.5 433.8 279.6Z" fill="#00ff39"/>
<path d="M433.7 280.3C434.6 280.4 435.9 280.8 436.7 281.3C437.5 281.8 438.2 282.7 438.6 283.4C439.0 284.2 439.3 285.1 439.3 286.0C439.4 286.8 439.2 287.7 438.9 288.5C438.6 289.4 438.2 290.3 437.6 291.1C437.1 292.0 436.3 292.9 435.5 293.5C434.6 294.1 433.7 294.7 432.7 294.8C431.8 294.9 430.5 294.7 429.6 294.0C428.7 293.3 427.8 291.9 427.4 290.8C426.9 289.6 426.9 288.1 427.1 287.0C427.2 285.9 427.6 284.8 428.1 284.0C428.5 283.1 429.2 282.3 429.8 281.8C430.4 281.2 430.9 280.9 431.6 280.7C432.2 280.4 432.8 280.2 433.7 280.3Z" fill="#00ff78"/>
<path d="M433.6 280.9C434.4 281.0 435.6 281.4 436.4 281.9C437.1 282.3 437.7 283.1 438.1 283.8C438.6 284.6 438.8 285.4 438.8 286.2C438.9 287.0 438.7 287.8 438.5 288.6C438.2 289.4 437.8 290.2 437.3 291.0C436.8 291.8 436.0 292.7 435.3 293.3C434.5 293.8 433.6 294.4 432.7 294.5C431.8 294.6 430.6 294.4 429.7 293.7C428.9 293.1 428.0 291.8 427.6 290.7C427.2 289.6 427.2 288.2 427.4 287.1C427.5 286.1 427.9 285.1 428.4 284.3C428.8 283.5 429.4 282.8 430.0 282.3C430.5 281.8 431.0 281.5 431.6 281.2C432.2 281.0 432.8 280.8 433.6 280.9Z" fill="#00ffbf"/>
<path d="M433.5 281.5C434.2 281.6 435.3 281.9 436.0 282.4C436.8 282.8 437.3 283.6 437.7 284.2C438.1 284.9 438.3 285.7 438.3 286.4C438.4 287.1 438.2 287.8 438.0 288.6C437.8 289.3 437.4 290.1 437.0 290.8C436.5 291.6 435.8 292.4 435.1 293.0C434.4 293.5 433.5 294.1 432.7 294.2C431.8 294.2 430.7 294.1 429.9 293.5C429.0 292.9 428.2 291.6 427.8 290.6C427.5 289.5 427.5 288.2 427.7 287.2C427.8 286.2 428.2 285.3 428.6 284.6C429.0 283.9 429.6 283.2 430.1 282.8C430.7 282.3 431.1 282.0 431.7 281.8C432.2 281.6 432.8 281.4 433.5 281.5Z" fill="#00f8ff"/>
<path d="M433.4 282.1C434.1 282.2 435.1 282.5 435.7 282.9C436.4 283.3 436.9 284.0 437.3 284.6C437.6 285.2 437.8 285.9 437.8 286.6C437.9 287.2 437.8 287.9 437.6 288.6C437.4 289.3 437.1 290.0 436.6 290.7C436.2 291.4 435.6 292.2 434.9 292.7C434.2 293.2 433.5 293.7 432.6 293.8C431.8 293.9 430.7 293.8 430.0 293.2C429.2 292.7 428.4 291.5 428.1 290.5C427.7 289.5 427.8 288.3 428.0 287.3C428.1 286.4 428.5 285.6 428.9 284.9C429.3 284.2 429.8 283.7 430.3 283.2C430.8 282.8 431.2 282.6 431.7 282.4C432.2 282.2 432.7 282.0 433.4 282.1Z" fill="#00bbff"/>
<path d="M433.3 282.7C433.9 282.8 434.8 283.0 435.4 283.4C436.0 283.8 436.5 284.4 436.8 284.9C437.1 285.5 437.3 286.1 437.3 286.8C437.4 287.4 437.3 288.0 437.1 288.6C437.0 289.2 436.7 289.9 436.3 290.5C435.9 291.2 435.3 291.9 434.7 292.4C434.1 292.9 433.4 293.4 432.6 293.5C431.9 293.5 430.8 293.5 430.1 292.9C429.4 292.4 428.7 291.3 428.4 290.4C428.0 289.4 428.1 288.3 428.3 287.4C428.4 286.6 428.8 285.8 429.2 285.2C429.5 284.6 430.0 284.1 430.5 283.7C430.9 283.3 431.3 283.1 431.8 282.9C432.2 282.8 432.7 282.6 433.3 282.7Z" fill="#007dff"/>
<path d="M433.2 283.2C433.7 283.3 434.6 283.6 435.1 283.9C435.7 284.2 436.1 284.8 436.4 285.3C436.7 285.8 436.8 286.4 436.9 286.9C436.9 287.5 436.9 288.0 436.7 288.6C436.5 289.2 436.3 289.8 435.9 290.4C435.6 291.0 435.1 291.7 434.5 292.1C434.0 292.6 433.3 293.0 432.6 293.1C431.9 293.2 430.9 293.1 430.3 292.6C429.6 292.2 428.9 291.1 428.6 290.2C428.3 289.4 428.5 288.3 428.6 287.5C428.7 286.7 429.1 286.1 429.4 285.5C429.8 284.9 430.2 284.5 430.6 284.2C431.0 283.8 431.4 283.6 431.8 283.5C432.2 283.3 432.6 283.2 433.2 283.2Z" fill="#0050ff"/>
<path d="M433.1 283.8C433.6 283.8 434.4 284.1 434.9 284.4C435.3 284.7 435.7 285.2 436.0 285.6C436.2 286.1 436.4 286.6 436.4 287.1C436.5 287.6 436.4 288.1 436.3 288.6C436.1 289.1 435.9 289.7 435.6 290.2C435.3 290.8 434.8 291.4 434.3 291.8C433.8 292.2 433.2 292.6 432.6 292.7C431.9 292.8 431.0 292.8 430.4 292.3C429.8 291.9 429.2 290.9 428.9 290.1C428.7 289.3 428.8 288.3 428.9 287.6C429.0 286.9 429.4 286.3 429.7 285.8C430.0 285.3 430.4 284.9 430.8 284.6C431.2 284.3 431.5 284.1 431.9 284.0C432.2 283.8 432.6 283.7 433.1 283.8Z" fill="#0028ff"/>
<path d="M433.0 284.3C433.5 284.4 434.2 284.6 434.6 284.8C435.0 285.1 435.3 285.5 435.6 285.9C435.8 286.4 435.9 286.8 436.0 287.3C436.0 287.7 436.0 288.1 435.9 288.6C435.7 289.1 435.6 289.6 435.3 290.1C435.0 290.5 434.6 291.1 434.1 291.5C433.7 291.9 433.1 292.2 432.5 292.3C432.0 292.4 431.2 292.4 430.6 292.0C430.0 291.6 429.4 290.7 429.2 290.0C429.0 289.3 429.1 288.4 429.2 287.7C429.4 287.1 429.7 286.5 430.0 286.1C430.3 285.6 430.6 285.3 431.0 285.0C431.3 284.7 431.6 284.6 431.9 284.5C432.2 284.4 432.6 284.2 433.0 284.3Z" fill="#0100ff"/>
<path d="M432.9 284.8C433.3 284.9 433.9 285.0 434.3 285.3C434.7 285.5 435.0 285.9 435.2 286.3C435.4 286.6 435.5 287.0 435.5 287.4C435.6 287.8 435.5 288.2 435.4 288.6C435.4 289.0 435.2 289.5 435.0 289.9C434.7 290.3 434.3 290.8 433.9 291.2C433.5 291.5 433.1 291.9 432.5 291.9C432.0 292.0 431.3 292.0 430.8 291.6C430.3 291.3 429.7 290.5 429.5 289.8C429.3 289.2 429.5 288.4 429.6 287.8C429.7 287.2 430.0 286.8 430.2 286.4C430.5 286.0 430.8 285.7 431.1 285.4C431.4 285.2 431.7 285.1 432.0 285.0C432.3 284.9 432.5 284.8 432.9 284.8Z" fill="#1c00e7"/>
<path d="M432.8 285.3C433.2 285.4 433.7 285.5 434.0 285.7C434.4 285.9 434.6 286.2 434.8 286.6C435.0 286.9 435.1 287.2 435.1 287.5C435.2 287.9 435.1 288.2 435.0 288.6C435.0 288.9 434.8 289.3 434.6 289.7C434.4 290.1 434.1 290.5 433.7 290.8C433.4 291.1 433.0 291.4 432.5 291.5C432.0 291.6 431.4 291.6 430.9 291.3C430.5 291.0 430.0 290.2 429.8 289.7C429.7 289.1 429.8 288.4 429.9 287.9C430.0 287.4 430.3 287.0 430.5 286.6C430.7 286.3 431.0 286.0 431.3 285.8C431.5 285.6 431.7 285.5 432.0 285.4C432.3 285.4 432.5 285.3 432.8 285.3Z" fill="#3900d0"/>
<path d="M432.8 285.8C433.1 285.8 433.5 285.9 433.8 286.1C434.1 286.3 434.3 286.6 434.4 286.8C434.6 287.1 434.7 287.4 434.7 287.7C434.7 288.0 434.7 288.3 434.6 288.6C434.6 288.9 434.5 289.2 434.3 289.5C434.1 289.8 433.9 290.2 433.6 290.5C433.2 290.8 432.9 291.0 432.5 291.1C432.1 291.2 431.5 291.2 431.1 290.9C430.7 290.6 430.3 290.0 430.2 289.5C430.0 289.0 430.1 288.4 430.2 287.9C430.3 287.5 430.6 287.2 430.8 286.9C431.0 286.6 431.2 286.4 431.4 286.2C431.7 286.1 431.8 286.0 432.1 285.9C432.3 285.8 432.5 285.7 432.8 285.8Z" fill="#4200a4"/>
<path d="M432.7 286.2C432.9 286.3 433.3 286.4 433.5 286.5C433.8 286.7 433.9 286.9 434.1 287.1C434.2 287.3 434.3 287.6 434.3 287.8C434.3 288.0 434.3 288.3 434.3 288.5C434.2 288.8 434.1 289.1 434.0 289.3C433.8 289.6 433.6 289.9 433.4 290.2C433.1 290.4 432.8 290.6 432.5 290.7C432.1 290.7 431.7 290.7 431.3 290.5C431.0 290.3 430.6 289.7 430.5 289.3C430.4 288.9 430.5 288.4 430.6 288.0C430.7 287.7 430.9 287.4 431.0 287.1C431.2 286.9 431.4 286.7 431.6 286.6C431.8 286.5 431.9 286.4 432.1 286.3C432.3 286.3 432.5 286.2 432.7 286.2Z" fill="#460074"/>
<path d="M432.6 286.7C432.8 286.7 433.1 286.8 433.3 286.9C433.5 287.0 433.6 287.2 433.7 287.4C433.8 287.5 433.9 287.7 433.9 287.9C433.9 288.1 433.9 288.3 433.9 288.5C433.8 288.7 433.8 288.9 433.7 289.1C433.5 289.4 433.4 289.6 433.2 289.8C433.0 290.0 432.7 290.2 432.5 290.2C432.2 290.3 431.8 290.3 431.5 290.1C431.3 289.9 431.0 289.5 430.9 289.1C430.8 288.8 430.9 288.4 430.9 288.1C431.0 287.8 431.2 287.6 431.3 287.4C431.5 287.2 431.6 287.1 431.8 287.0C431.9 286.9 432.0 286.8 432.2 286.8C432.3 286.7 432.4 286.7 432.6 286.7Z" fill="#2e004c"/>
<path d="M432.6 287.1C432.7 287.1 432.9 287.2 433.1 287.3C433.2 287.4 433.3 287.5 433.4 287.6C433.4 287.7 433.5 287.9 433.5 288.0C433.5 288.2 433.5 288.3 433.5 288.5C433.5 288.6 433.4 288.8 433.3 288.9C433.3 289.1 433.1 289.3 433.0 289.4C432.8 289.6 432.6 289.7 432.4 289.8C432.2 289.8 431.9 289.8 431.7 289.7C431.5 289.5 431.3 289.2 431.2 288.9C431.2 288.7 431.2 288.4 431.3 288.1C431.4 287.9 431.5 287.8 431.6 287.6C431.7 287.5 431.8 287.4 431.9 287.3C432.0 287.2 432.1 287.2 432.2 287.2C432.3 287.1 432.4 287.1 432.6 287.1Z" fill="#150022"/>
<path d="M432.5 287.5C432.6 287.5 432.7 287.6 432.8 287.6C432.9 287.7 433.0 287.8 433.0 287.9C433.1 287.9 433.1 288.0 433.1 288.1C433.1 288.2 433.1 288.3 433.1 288.4C433.1 288.5 433.1 288.6 433.0 288.7C433.0 288.8 432.9 289.0 432.8 289.1C432.7 289.2 432.6 289.3 432.4 289.3C432.3 289.3 432.1 289.3 431.9 289.2C431.8 289.1 431.7 288.9 431.6 288.7C431.6 288.6 431.6 288.3 431.7 288.2C431.7 288.1 431.8 287.9 431.9 287.9C431.9 287.8 432.0 287.7 432.1 287.7C432.2 287.6 432.2 287.6 432.3 287.6C432.4 287.5 432.4 287.5 432.5 287.5Z" fill="#09000d"/>
<path d="M432.5 287.9C432.5 287.9 432.6 287.9 432.6 288.0C432.7 288.0 432.7 288.0 432.7 288.1C432.7 288.1 432.8 288.2 432.8 288.2C432.8 288.3 432.8 288.3 432.8 288.4C432.8 288.4 432.7 288.5 432.7 288.5C432.7 288.6 432.6 288.6 432.6 288.7C432.5 288.7 432.5 288.8 432.4 288.8C432.3 288.8 432.2 288.8 432.2 288.8C432.1 288.7 432.0 288.6 432.0 288.5C432.0 288.4 432.0 288.3 432.0 288.3C432.1 288.2 432.1 288.1 432.1 288.1C432.2 288.0 432.2 288.0 432.2 288.0C432.3 288.0 432.3 287.9 432.3 287.9C432.4 287.9 432.4 287.9 432.5 287.9Z" fill="#040005"/>
<path d="M431.4 320.7C432.4 320.8 434.5 321.5 435.9 322.3C437.3 323.1 439.1 324.4 439.5 325.5C440.0 326.5 439.2 327.5 438.6 328.6C438.0 329.8 436.9 331.3 435.9 332.3C434.9 333.3 433.7 334.4 432.7 334.5C431.7 334.7 430.7 334.2 430.0 333.2C429.3 332.2 428.6 330.1 428.4 328.6C428.1 327.2 428.2 325.7 428.4 324.5C428.6 323.4 429.0 322.3 429.5 321.6C430.0 321.0 430.3 320.6 431.4 320.7Z" fill="#ff0000"/>
<path d="M431.6 322.7C432.4 322.8 433.9 323.2 434.8 323.8C435.8 324.3 437.1 325.3 437.4 326.0C437.7 326.8 437.2 327.4 436.7 328.2C436.3 329.0 435.5 330.1 434.8 330.8C434.1 331.5 433.3 332.3 432.6 332.4C431.9 332.5 431.2 332.1 430.7 331.4C430.2 330.7 429.7 329.2 429.5 328.2C429.4 327.2 429.4 326.2 429.5 325.4C429.7 324.6 430.0 323.8 430.4 323.3C430.7 322.9 430.9 322.6 431.6 322.7Z" fill="#ff3000"/>
<path d="M431.7 323.1C432.4 323.2 433.7 323.6 434.6 324.1C435.5 324.6 436.7 325.4 436.9 326.1C437.2 326.8 436.8 327.4 436.4 328.2C436.0 328.9 435.2 329.9 434.6 330.5C434.0 331.1 433.2 331.9 432.6 331.9C431.9 332.0 431.3 331.7 430.8 331.1C430.4 330.4 429.9 329.1 429.8 328.2C429.6 327.2 429.6 326.3 429.8 325.5C429.9 324.8 430.2 324.1 430.5 323.7C430.9 323.3 431.0 323.0 431.7 323.1Z" fill="#ff5400"/>
<path d="M431.8 323.5C432.4 323.5 433.6 323.9 434.4 324.4C435.2 324.8 436.3 325.6 436.5 326.2C436.8 326.8 436.3 327.4 436.0 328.1C435.6 328.7 435.0 329.6 434.4 330.2C433.8 330.8 433.1 331.4 432.5 331.5C432.0 331.6 431.4 331.3 431.0 330.7C430.5 330.2 430.2 328.9 430.0 328.1C429.8 327.2 429.9 326.4 430.0 325.7C430.1 325.0 430.4 324.4 430.7 324.0C431.0 323.6 431.1 323.4 431.8 323.5Z" fill="#ff7500"/>
<path d="M431.8 323.8C432.4 323.9 433.5 324.2 434.2 324.7C434.9 325.1 435.9 325.8 436.1 326.3C436.3 326.9 435.9 327.4 435.6 328.0C435.3 328.6 434.7 329.4 434.2 329.9C433.7 330.4 433.0 331.0 432.5 331.1C432.0 331.2 431.5 330.9 431.1 330.4C430.7 329.9 430.4 328.8 430.2 328.0C430.1 327.2 430.1 326.5 430.2 325.9C430.3 325.2 430.6 324.7 430.9 324.3C431.1 324.0 431.3 323.8 431.8 323.8Z" fill="#ff9200"/>
<path d="M431.9 324.2C432.4 324.3 433.3 324.6 434.0 325.0C434.6 325.3 435.5 325.9 435.7 326.4C435.9 326.9 435.5 327.4 435.3 327.9C435.0 328.5 434.4 329.2 434.0 329.6C433.5 330.1 433.0 330.6 432.5 330.7C432.0 330.8 431.6 330.5 431.2 330.0C430.9 329.6 430.6 328.6 430.5 327.9C430.3 327.3 430.4 326.6 430.5 326.0C430.6 325.5 430.8 325.0 431.0 324.7C431.2 324.4 431.4 324.2 431.9 324.2Z" fill="#ffa600"/>
<path d="M431.9 324.6C432.4 324.7 433.2 324.9 433.8 325.2C434.3 325.6 435.1 326.1 435.3 326.5C435.4 327.0 435.1 327.4 434.9 327.8C434.6 328.3 434.2 328.9 433.8 329.3C433.4 329.7 432.9 330.2 432.5 330.3C432.1 330.3 431.7 330.1 431.4 329.7C431.1 329.3 430.8 328.4 430.7 327.8C430.6 327.3 430.6 326.7 430.7 326.2C430.8 325.7 431.0 325.2 431.2 325.0C431.4 324.7 431.5 324.6 431.9 324.6Z" fill="#ffb900"/>
<path d="M432.0 325.0C432.3 325.0 433.1 325.3 433.6 325.5C434.0 325.8 434.7 326.3 434.8 326.7C435.0 327.0 434.7 327.4 434.5 327.8C434.3 328.2 433.9 328.7 433.6 329.0C433.2 329.4 432.8 329.8 432.4 329.8C432.1 329.9 431.7 329.7 431.5 329.4C431.2 329.0 431.0 328.3 430.9 327.8C430.8 327.3 430.9 326.7 430.9 326.3C431.0 325.9 431.2 325.5 431.3 325.3C431.5 325.1 431.6 325.0 432.0 325.0Z" fill="#ffca00"/>
<path d="M432.0 325.4C432.3 325.4 433.0 325.6 433.4 325.8C433.8 326.1 434.3 326.5 434.4 326.8C434.5 327.1 434.3 327.4 434.1 327.7C434.0 328.0 433.6 328.5 433.4 328.8C433.1 329.0 432.7 329.4 432.4 329.4C432.1 329.5 431.8 329.3 431.6 329.0C431.4 328.7 431.2 328.1 431.2 327.7C431.1 327.3 431.1 326.8 431.2 326.5C431.2 326.2 431.4 325.8 431.5 325.6C431.6 325.5 431.7 325.4 432.0 325.4Z" fill="#ffd900"/>
<path d="M432.1 325.8C432.3 325.8 432.8 325.9 433.1 326.1C433.5 326.3 433.9 326.6 434.0 326.9C434.1 327.1 433.9 327.3 433.8 327.6C433.6 327.9 433.4 328.2 433.1 328.5C432.9 328.7 432.6 329.0 432.4 329.0C432.2 329.0 431.9 328.9 431.8 328.7C431.6 328.4 431.4 327.9 431.4 327.6C431.3 327.3 431.3 326.9 431.4 326.7C431.4 326.4 431.5 326.1 431.7 326.0C431.8 325.8 431.8 325.7 432.1 325.8Z" fill="#ffe600"/>
<path d="M432.1 326.1C432.3 326.2 432.7 326.3 432.9 326.4C433.2 326.6 433.5 326.8 433.6 327.0C433.6 327.2 433.5 327.3 433.4 327.5C433.3 327.7 433.1 328.0 432.9 328.2C432.8 328.3 432.5 328.5 432.4 328.6C432.2 328.6 432.0 328.5 431.9 328.3C431.8 328.2 431.7 327.8 431.6 327.5C431.6 327.3 431.6 327.0 431.6 326.8C431.6 326.6 431.7 326.4 431.8 326.3C431.9 326.2 432.0 326.1 432.1 326.1Z" fill="#fff100"/>
<path d="M432.2 326.5C432.3 326.5 432.6 326.6 432.7 326.7C432.9 326.8 433.1 327.0 433.1 327.1C433.2 327.2 433.1 327.3 433.0 327.5C433.0 327.6 432.8 327.8 432.7 327.9C432.6 328.0 432.5 328.1 432.3 328.1C432.2 328.2 432.1 328.1 432.0 328.0C431.9 327.9 431.9 327.6 431.8 327.5C431.8 327.3 431.8 327.1 431.8 327.0C431.9 326.8 431.9 326.7 432.0 326.6C432.0 326.6 432.1 326.5 432.2 326.5Z" fill="#fff900"/>
<path d="M432.2 326.9C432.3 326.9 432.4 327.0 432.5 327.0C432.6 327.1 432.7 327.1 432.7 327.2C432.7 327.3 432.7 327.3 432.7 327.4C432.6 327.4 432.6 327.5 432.5 327.6C432.5 327.6 432.4 327.7 432.3 327.7C432.3 327.7 432.2 327.7 432.2 327.6C432.1 327.6 432.1 327.5 432.1 327.4C432.1 327.3 432.1 327.2 432.1 327.1C432.1 327.1 432.1 327.0 432.1 327.0C432.2 326.9 432.2 326.9 432.2 326.9Z" fill="#fffe00"/>
<path d="M444.1 323.2C444.3 322.2 446.1 320.2 447.3 319.1C448.5 318.0 450.1 316.8 451.4 316.5C452.7 316.3 454.2 317.1 455.0 317.7C455.8 318.4 456.1 319.5 455.9 320.5C455.8 321.4 455.1 322.9 454.1 323.6C453.1 324.4 451.4 324.8 450.0 325.0C448.6 325.2 446.9 325.0 445.9 324.7C444.9 324.4 443.9 324.1 444.1 323.2Z" fill="#ff0000"/>
<path d="M446.5 322.5C446.6 321.9 447.6 320.7 448.4 320.0C449.1 319.4 450.0 318.6 450.8 318.5C451.6 318.4 452.5 318.8 453.0 319.2C453.5 319.6 453.6 320.2 453.5 320.8C453.5 321.4 453.0 322.3 452.5 322.7C451.9 323.2 450.8 323.5 450.0 323.6C449.2 323.7 448.1 323.6 447.5 323.4C447.0 323.2 446.3 323.0 446.5 322.5Z" fill="#ff3100"/>
<path d="M446.9 322.3C447.0 321.8 447.9 320.8 448.6 320.2C449.2 319.6 450.0 319.0 450.7 318.9C451.4 318.7 452.2 319.1 452.6 319.5C453.0 319.8 453.2 320.4 453.1 320.9C453.0 321.4 452.7 322.2 452.1 322.6C451.6 323.0 450.7 323.2 450.0 323.3C449.3 323.4 448.4 323.3 447.9 323.1C447.3 323.0 446.8 322.8 446.9 322.3Z" fill="#ff5400"/>
<path d="M447.3 322.2C447.4 321.8 448.2 320.9 448.8 320.4C449.3 319.9 450.0 319.3 450.6 319.2C451.2 319.1 451.9 319.5 452.2 319.7C452.6 320.0 452.7 320.5 452.7 321.0C452.6 321.4 452.3 322.1 451.8 322.4C451.4 322.7 450.6 322.9 450.0 323.0C449.4 323.1 448.6 323.0 448.2 322.9C447.7 322.8 447.2 322.6 447.3 322.2Z" fill="#ff7400"/>
<path d="M447.8 322.1C447.9 321.7 448.5 320.9 449.0 320.5C449.4 320.1 450.0 319.7 450.5 319.6C451.0 319.5 451.6 319.8 451.9 320.0C452.2 320.3 452.3 320.7 452.2 321.0C452.2 321.4 451.9 322.0 451.5 322.2C451.2 322.5 450.5 322.7 450.0 322.8C449.5 322.8 448.8 322.8 448.5 322.6C448.1 322.5 447.7 322.4 447.8 322.1Z" fill="#ff8f00"/>
<path d="M448.2 321.9C448.3 321.7 448.8 321.0 449.2 320.7C449.5 320.4 450.0 320.0 450.4 319.9C450.8 319.9 451.3 320.1 451.5 320.3C451.7 320.5 451.8 320.8 451.8 321.1C451.7 321.4 451.5 321.8 451.2 322.1C450.9 322.3 450.4 322.4 450.0 322.5C449.6 322.5 449.1 322.5 448.8 322.4C448.5 322.3 448.2 322.2 448.2 321.9Z" fill="#ff9f00"/>
<path d="M448.7 321.8C448.7 321.6 449.1 321.1 449.4 320.9C449.7 320.6 450.0 320.4 450.3 320.3C450.6 320.3 451.0 320.4 451.1 320.6C451.3 320.7 451.4 321.0 451.3 321.2C451.3 321.4 451.1 321.7 450.9 321.9C450.7 322.1 450.3 322.2 450.0 322.2C449.7 322.3 449.3 322.2 449.1 322.1C448.9 322.1 448.6 322.0 448.7 321.8Z" fill="#ffac00"/>
<path d="M449.1 321.7C449.1 321.5 449.4 321.2 449.6 321.1C449.8 320.9 450.0 320.7 450.2 320.7C450.4 320.6 450.6 320.8 450.8 320.8C450.9 320.9 450.9 321.1 450.9 321.3C450.9 321.4 450.8 321.6 450.6 321.7C450.5 321.8 450.2 321.9 450.0 321.9C449.8 322.0 449.5 321.9 449.4 321.9C449.2 321.9 449.1 321.8 449.1 321.7Z" fill="#ffb600"/>
<path d="M449.6 321.5C449.6 321.5 449.7 321.3 449.8 321.2C449.9 321.1 450.0 321.1 450.1 321.0C450.2 321.0 450.3 321.1 450.4 321.1C450.4 321.2 450.5 321.3 450.4 321.3C450.4 321.4 450.4 321.5 450.3 321.6C450.2 321.6 450.1 321.7 450.0 321.7C449.9 321.7 449.8 321.7 449.7 321.6C449.6 321.6 449.5 321.6 449.6 321.5Z" fill="#ffbb00"/>
<path d="M447.3 341.8C447.4 340.5 447.9 340.0 449.1 339.5C450.3 339.1 452.7 339.0 454.5 339.3C456.4 339.5 458.4 340.1 460.0 340.9C461.6 341.7 463.3 342.9 464.1 344.1C464.8 345.3 464.8 346.9 464.5 348.2C464.2 349.5 463.5 351.0 462.3 351.8C461.1 352.7 459.0 353.3 457.3 353.2C455.5 353.1 453.3 352.3 451.8 351.4C450.3 350.4 448.9 348.9 448.2 347.3C447.4 345.7 447.1 343.1 447.3 341.8Z" fill="#ff0000"/>
<path d="M449.3 342.8C449.5 341.8 449.9 341.4 450.8 341.1C451.7 340.7 453.5 340.5 455.0 340.6C456.4 340.7 458.2 341.2 459.5 341.8C460.9 342.4 462.3 343.5 463.0 344.5C463.6 345.5 463.7 346.9 463.5 348.0C463.2 349.0 462.5 350.3 461.5 351.0C460.4 351.7 458.7 352.2 457.2 352.1C455.8 352.1 453.9 351.4 452.7 350.6C451.4 349.8 450.3 348.4 449.8 347.2C449.2 345.9 449.2 343.8 449.3 342.8Z" fill="#ff4300"/>
<path d="M449.8 343.1C450.0 342.1 450.3 341.8 451.2 341.4C452.1 341.1 453.7 340.8 455.1 341.0C456.5 341.1 458.1 341.4 459.4 342.0C460.7 342.7 462.0 343.6 462.7 344.6C463.3 345.6 463.4 346.9 463.2 347.9C462.9 348.9 462.2 350.2 461.3 350.8C460.3 351.5 458.6 351.9 457.2 351.8C455.8 351.8 454.1 351.2 452.9 350.4C451.7 349.6 450.7 348.3 450.2 347.1C449.7 345.9 449.6 344.0 449.8 343.1Z" fill="#ff8b00"/>
<path d="M450.3 343.3C450.5 342.4 450.8 342.1 451.6 341.8C452.4 341.4 453.9 341.2 455.2 341.3C456.5 341.4 458.1 341.7 459.3 342.3C460.5 342.9 461.8 343.8 462.4 344.7C463.0 345.6 463.1 346.8 462.8 347.8C462.6 348.8 462.0 350.0 461.0 350.6C460.1 351.2 458.5 351.6 457.2 351.6C455.9 351.5 454.2 350.9 453.1 350.2C452.0 349.4 451.0 348.2 450.6 347.1C450.1 345.9 450.1 344.2 450.3 343.3Z" fill="#ffbc00"/>
<path d="M450.7 343.5C450.9 342.7 451.2 342.4 452.0 342.1C452.7 341.8 454.1 341.5 455.3 341.6C456.5 341.7 458.0 342.0 459.1 342.5C460.3 343.1 461.5 343.9 462.1 344.8C462.6 345.7 462.7 346.8 462.5 347.8C462.3 348.7 461.7 349.8 460.8 350.4C459.9 351.0 458.4 351.3 457.2 351.3C456.0 351.2 454.4 350.7 453.4 350.0C452.3 349.2 451.4 348.1 451.0 347.1C450.5 346.0 450.6 344.4 450.7 343.5Z" fill="#ffec00"/>
<path d="M451.2 343.7C451.4 343.0 451.6 342.7 452.3 342.4C453.0 342.1 454.3 341.9 455.4 341.9C456.6 342.0 458.0 342.3 459.0 342.8C460.1 343.3 461.2 344.1 461.7 344.9C462.3 345.7 462.4 346.8 462.2 347.7C462.0 348.6 461.4 349.6 460.6 350.1C459.7 350.7 458.3 351.1 457.2 351.0C456.0 350.9 454.6 350.4 453.6 349.7C452.6 349.1 451.7 348.0 451.3 347.0C450.9 346.0 451.0 344.5 451.2 343.7Z" fill="#e7ff00"/>
<path d="M451.6 344.0C451.8 343.2 452.0 343.0 452.7 342.7C453.3 342.5 454.5 342.2 455.5 342.3C456.6 342.3 457.9 342.6 458.9 343.0C459.9 343.5 460.9 344.3 461.4 345.0C461.9 345.8 462.1 346.8 461.9 347.6C461.7 348.4 461.1 349.4 460.4 349.9C459.6 350.4 458.3 350.8 457.2 350.7C456.1 350.6 454.7 350.2 453.8 349.5C452.9 348.9 452.1 347.9 451.7 347.0C451.4 346.1 451.5 344.7 451.6 344.0Z" fill="#beff00"/>
<path d="M452.0 344.2C452.2 343.5 452.4 343.3 453.0 343.1C453.6 342.8 454.7 342.5 455.7 342.6C456.6 342.6 457.8 342.8 458.8 343.3C459.7 343.7 460.7 344.4 461.1 345.1C461.6 345.9 461.7 346.8 461.6 347.6C461.4 348.3 460.9 349.2 460.1 349.7C459.4 350.2 458.2 350.5 457.2 350.4C456.1 350.4 454.9 349.9 454.0 349.3C453.2 348.8 452.4 347.8 452.1 347.0C451.8 346.1 451.9 344.8 452.0 344.2Z" fill="#98ff00"/>
<path d="M452.5 344.4C452.6 343.8 452.8 343.6 453.4 343.3C453.9 343.1 454.9 342.9 455.8 342.9C456.6 342.9 457.8 343.1 458.6 343.5C459.5 343.9 460.4 344.6 460.8 345.2C461.3 345.9 461.4 346.8 461.3 347.5C461.1 348.2 460.6 349.0 459.9 349.5C459.2 349.9 458.1 350.2 457.1 350.2C456.2 350.1 455.0 349.7 454.2 349.1C453.5 348.6 452.8 347.7 452.5 346.9C452.2 346.1 452.3 345.0 452.5 344.4Z" fill="#6bff00"/>
<path d="M452.9 344.6C453.0 344.0 453.2 343.9 453.7 343.6C454.2 343.4 455.1 343.2 455.9 343.2C456.7 343.2 457.7 343.4 458.5 343.7C459.3 344.1 460.1 344.7 460.5 345.3C460.9 346.0 461.1 346.8 460.9 347.4C460.8 348.1 460.3 348.9 459.7 349.3C459.1 349.7 458.0 349.9 457.1 349.9C456.3 349.8 455.2 349.4 454.5 348.9C453.7 348.4 453.1 347.6 452.8 346.9C452.6 346.2 452.7 345.1 452.9 344.6Z" fill="#40ff00"/>
<path d="M453.2 344.8C453.4 344.3 453.5 344.1 454.0 343.9C454.4 343.7 455.2 343.5 456.0 343.5C456.7 343.5 457.7 343.7 458.4 344.0C459.1 344.3 459.9 344.9 460.2 345.5C460.6 346.0 460.7 346.8 460.6 347.4C460.5 348.0 460.0 348.7 459.5 349.0C458.9 349.4 457.9 349.6 457.1 349.6C456.3 349.5 455.3 349.2 454.7 348.7C454.0 348.3 453.5 347.6 453.2 346.9C453.0 346.2 453.1 345.2 453.2 344.8Z" fill="#18ff00"/>
<path d="M453.6 344.9C453.7 344.5 453.9 344.4 454.3 344.2C454.7 344.0 455.4 343.8 456.1 343.8C456.7 343.8 457.6 343.9 458.3 344.2C458.9 344.5 459.6 345.0 459.9 345.6C460.3 346.1 460.4 346.7 460.3 347.3C460.2 347.8 459.8 348.5 459.2 348.8C458.7 349.2 457.8 349.4 457.1 349.3C456.4 349.3 455.5 348.9 454.9 348.5C454.3 348.1 453.8 347.5 453.6 346.9C453.4 346.3 453.5 345.4 453.6 344.9Z" fill="#00ff0a"/>
<path d="M454.0 345.1C454.1 344.7 454.2 344.6 454.6 344.5C455.0 344.3 455.6 344.1 456.2 344.1C456.7 344.1 457.5 344.2 458.1 344.5C458.7 344.7 459.3 345.2 459.6 345.7C460.0 346.1 460.1 346.7 460.0 347.2C459.9 347.7 459.5 348.3 459.0 348.6C458.5 348.9 457.8 349.1 457.1 349.0C456.4 349.0 455.6 348.7 455.1 348.3C454.6 348.0 454.1 347.4 453.9 346.8C453.7 346.3 453.9 345.5 454.0 345.1Z" fill="#00ff26"/>
<path d="M454.4 345.3C454.5 345.0 454.6 344.9 454.9 344.7C455.2 344.6 455.7 344.4 456.3 344.4C456.8 344.4 457.5 344.5 458.0 344.7C458.5 344.9 459.1 345.4 459.3 345.8C459.6 346.2 459.7 346.7 459.6 347.2C459.5 347.6 459.2 348.1 458.8 348.4C458.4 348.6 457.7 348.8 457.1 348.8C456.5 348.7 455.8 348.5 455.3 348.1C454.9 347.8 454.4 347.3 454.3 346.8C454.1 346.3 454.3 345.7 454.4 345.3Z" fill="#00ff3f"/>
<path d="M454.7 345.5C454.8 345.2 454.9 345.1 455.2 345.0C455.5 344.8 455.9 344.7 456.4 344.7C456.8 344.7 457.4 344.7 457.9 344.9C458.3 345.1 458.8 345.5 459.1 345.9C459.3 346.2 459.4 346.7 459.3 347.1C459.2 347.5 458.9 347.9 458.6 348.2C458.2 348.4 457.6 348.5 457.1 348.5C456.6 348.5 455.9 348.2 455.5 347.9C455.1 347.7 454.8 347.2 454.6 346.8C454.5 346.4 454.6 345.8 454.7 345.5Z" fill="#00ff55"/>
<path d="M455.1 345.6C455.1 345.4 455.2 345.3 455.5 345.2C455.7 345.1 456.1 345.0 456.4 345.0C456.8 344.9 457.4 345.0 457.7 345.2C458.1 345.4 458.6 345.7 458.8 346.0C459.0 346.3 459.1 346.7 459.0 347.0C458.9 347.3 458.7 347.7 458.3 347.9C458.0 348.1 457.5 348.3 457.1 348.2C456.6 348.2 456.1 348.0 455.7 347.8C455.4 347.5 455.1 347.1 455.0 346.8C454.9 346.4 455.0 345.9 455.1 345.6Z" fill="#00ff68"/>
<path d="M455.4 345.8C455.5 345.6 455.5 345.6 455.7 345.5C455.9 345.4 456.2 345.2 456.5 345.2C456.9 345.2 457.3 345.3 457.6 345.4C457.9 345.6 458.3 345.8 458.5 346.1C458.6 346.3 458.7 346.7 458.7 346.9C458.6 347.2 458.4 347.5 458.1 347.7C457.9 347.9 457.4 348.0 457.1 347.9C456.7 347.9 456.2 347.8 456.0 347.6C455.7 347.4 455.4 347.0 455.3 346.7C455.2 346.4 455.3 346.0 455.4 345.8Z" fill="#00ff79"/>
<path d="M455.7 346.0C455.8 345.8 455.8 345.8 456.0 345.7C456.1 345.6 456.4 345.5 456.6 345.5C456.9 345.5 457.2 345.5 457.5 345.7C457.8 345.8 458.0 346.0 458.2 346.2C458.3 346.4 458.4 346.7 458.3 346.9C458.3 347.1 458.1 347.4 457.9 347.5C457.7 347.6 457.3 347.7 457.0 347.7C456.8 347.7 456.4 347.5 456.2 347.4C455.9 347.2 455.7 346.9 455.7 346.7C455.6 346.5 455.7 346.1 455.7 346.0Z" fill="#00ff87"/>
<path d="M456.1 346.1C456.1 346.0 456.1 346.0 456.3 345.9C456.4 345.9 456.5 345.8 456.7 345.8C456.9 345.8 457.2 345.8 457.4 345.9C457.6 346.0 457.8 346.1 457.9 346.3C458.0 346.4 458.0 346.6 458.0 346.8C458.0 347.0 457.8 347.2 457.7 347.3C457.5 347.4 457.2 347.4 457.0 347.4C456.8 347.4 456.5 347.3 456.4 347.2C456.2 347.1 456.1 346.8 456.0 346.7C456.0 346.5 456.0 346.3 456.1 346.1Z" fill="#00ff93"/>
<path d="M456.4 346.3C456.4 346.2 456.4 346.2 456.5 346.2C456.6 346.1 456.7 346.1 456.8 346.1C456.9 346.1 457.1 346.1 457.2 346.1C457.4 346.2 457.5 346.3 457.6 346.4C457.7 346.5 457.7 346.6 457.7 346.7C457.6 346.8 457.6 347.0 457.4 347.0C457.3 347.1 457.2 347.1 457.0 347.1C456.9 347.1 456.7 347.1 456.6 347.0C456.5 346.9 456.4 346.8 456.3 346.7C456.3 346.5 456.4 346.4 456.4 346.3Z" fill="#00ff9a"/>
<path d="M456.7 346.5C456.7 346.4 456.7 346.4 456.8 346.4C456.8 346.4 456.8 346.3 456.9 346.3C457.0 346.3 457.1 346.3 457.1 346.4C457.2 346.4 457.3 346.4 457.3 346.5C457.3 346.5 457.3 346.6 457.3 346.7C457.3 346.7 457.3 346.8 457.2 346.8C457.2 346.9 457.1 346.9 457.0 346.9C456.9 346.9 456.9 346.8 456.8 346.8C456.7 346.7 456.7 346.7 456.7 346.6C456.7 346.6 456.7 346.5 456.7 346.5Z" fill="#00ff9e"/>
<ellipse cx="390.00" cy="335.50" rx="3.90" ry="1.50" transform="rotate(-40 390.00 335.50)" fill="#ff0000"/>
<ellipse cx="426.90" cy="362.30" rx="3.80" ry="2.30" transform="rotate(5 426.90 362.30)" fill="#ff0000"/>
<ellipse cx="403.40" cy="378.00" rx="2.00" ry="2.10" transform="rotate(0 403.40 378.00)" fill="#ff0000"/>
</g>
<g><use href="#mk" x="356.89" y="321.72"/><use href="#mk" x="356.89" y="331.94"/><use href="#mk" x="356.89" y="342.16"/><use href="#mk" x="356.89" y="352.38"/><use href="#mk" x="356.89" y="362.60"/><use href="#mk" x="356.89" y="372.82"/><use href="#mk" x="356.89" y="383.04"/><use href="#mk" x="356.89" y="393.26"/><use href="#mk" x="356.89" y="403.48"/><use href="#mk" x="366.16" y="316.61"/><use href="#mk" x="366.16" y="326.83"/><use href="#mk" x="366.16" y="337.05"/><use href="#mk" x="366.16" y="347.27"/><use href="#mk" x="366.16" y="357.49"/><use href="#mk" x="366.16" y="367.71"/><use href="#mk" x="366.16" y="377.93"/><use href="#mk" x="366.16" y="388.15"/><use href="#mk" x="366.16" y="398.37"/><use href="#mk" x="366.16" y="408.59"/><use href="#mk" x="375.43" y="311.50"/><use href="#mk" x="375.43" y="321.72"/><use href="#mk" x="375.43" y="331.94"/><use href="#mk" x="375.43" y="342.16"/><use href="#mk" x="375.43" y="352.38"/><use href="#mk" x="375.43" y="362.60"/><use href="#mk" x="375.43" y="372.82"/><use href="#mk" x="375.43" y="383.04"/><use href="#mk" x="375.43" y="393.26"/><use href="#mk" x="375.43" y="403.48"/><use href="#mk" x="375.43" y="413.70"/><use href="#mk" x="384.70" y="306.39"/><use href="#mk" x="384.70" y="316.61"/><use href="#mk" x="384.70" y="326.83"/><use href="#mk" x="384.70" y="337.05"/><use href="#mk" x="384.70" y="347.27"/><use href="#mk" x="384.70" y="357.49"/><use href="#mk" x="384.70" y="367.71"/><use href="#mk" x="384.70" y="377.93"/><use href="#mk" x="384.70" y="388.15"/><use href="#mk" x="384.70" y="398.37"/><use href="#mk" x="384.70" y="408.59"/><use href="#mk" x="384.70" y="418.81"/><use href="#mk" x="393.97" y="301.28"/><use href="#mk" x="393.97" y="311.50"/><use href="#mk" x="393.97" y="321.72"/><use href="#mk" x="393.97" y="331.94"/><use href="#mk" x="393.97" y="342.16"/><use href="#mk" x="393.97" y="352.38"/><use href="#mk" x="393.97" y="362.60"/><use href="#mk" x="393.97" y="372.82"/><use href="#mk" x="393.97" y="383.04"/><use href="#mk" x="393.97" y="393.26"/><use href="#mk" x="393.97" y="403.48"/><use href="#mk" x="393.97" y="413.70"/><use href="#mk" x="393.97" y="423.92"/><use href="#mk" x="403.24" y="296.17"/><use href="#mk" x="403.24" y="306.39"/><use href="#mk" x="403.24" y="316.61"/><use href="#mk" x="403.24" y="326.83"/><use href="#mk" x="403.24" y="337.05"/><use href="#mk" x="403.24" y="347.27"/><use href="#mk" x="403.24" y="357.49"/><use href="#mk" x="403.24" y="367.71"/><use href="#mk" x="403.24" y="377.93"/><use href="#mk" x="403.24" y="388.15"/><use href="#mk" x="403.24" y="398.37"/><use href="#mk" x="403.24" y="408.59"/><use href="#mk" x="403.24" y="418.81"/><use href="#mk" x="403.24" y="429.03"/><use href="#mk" x="412.51" y="291.06"/><use href="#mk" x="412.51" y="301.28"/><use href="#mk" x="412.51" y="311.50"/><use href="#mk" x="412.51" y="321.72"/><use href="#mk" x="412.51" y="331.94"/><use href="#mk" x="412.51" y="342.16"/><use href="#mk" x="412.51" y="352.38"/><use href="#mk" x="412.51" y="362.60"/><use href="#mk" x="412.51" y="372.82"/><use href="#mk" x="412.51" y="383.04"/><use href="#mk" x="412.51" y="393.26"/><use href="#mk" x="412.51" y="403.48"/><use href="#mk" x="412.51" y="413.70"/><use href="#mk" x="412.51" y="423.92"/><use href="#mk" x="412.51" y="434.14"/><use href="#mk" x="421.78" y="285.95"/><use href="#mk" x="421.78" y="296.17"/><use href="#mk" x="421.78" y="306.39"/><use href="#mk" x="421.78" y="316.61"/><use href="#mk" x="421.78" y="326.83"/><use href="#mk" x="421.78" y="337.05"/><use href="#mk" x="421.78" y="347.27"/><use href="#mk" x="421.78" y="357.49"/><use href="#mk" x="421.78" y="367.71"/><use href="#mk" x="421.78" y="377.93"/><use href="#mk" x="421.78" y="388.15"/><use href="#mk" x="421.78" y="398.37"/><use href="#mk" x="421.78" y="408.59"/><use href="#mk" x="421.78" y="418.81"/><use href="#mk" x="421.78" y="429.03"/><use href="#mk" x="421.78" y="439.25"/><use href="#mk" x="431.05" y="280.84"/><use href="#mk" x="431.05" y="291.06"/><use href="#mk" x="431.05" y="301.28"/><use href="#mk" x="431.05" y="311.50"/><use href="#mk" x="431.05" y="321.72"/><use href="#mk" x="431.05" y="331.94"/><use href="#mk" x="431.05" y="342.16"/><use href="#mk" x="431.05" y="352.38"/><use href="#mk" x="431.05" y="362.60"/><use href="#mk" x="431.05" y="372.82"/><use href="#mk" x="431.05" y="383.04"/><use href="#mk" x="431.05" y="393.26"/><use href="#mk" x="431.05" y="403.48"/><use href="#mk" x="431.05" y="413.70"/><use href="#mk" x="431.05" y="423.92"/><use href="#mk" x="431.05" y="434.14"/><use href="#mk" x="431.05" y="444.36"/><use href="#mk" x="440.32" y="285.95"/><use href="#mk" x="440.32" y="296.17"/><use href="#mk" x="440.32" y="306.39"/><use href="#mk" x="440.32" y="316.61"/><use href="#mk" x="440.32" y="326.83"/><use href="#mk" x="440.32" y="337.05"/><use href="#mk" x="440.32" y="347.27"/><use href="#mk" x="440.32" y="357.49"/><use href="#mk" x="440.32" y="367.71"/><use href="#mk" x="440.32" y="377.93"/><use href="#mk" x="440.32" y="388.15"/><use href="#mk" x="440.32" y="398.37"/><use href="#mk" x="440.32" y="408.59"/><use href="#mk" x="440.32" y="418.81"/><use href="#mk" x="440.32" y="429.03"/><use href="#mk" x="440.32" y="439.25"/><use href="#mk" x="449.59" y="291.06"/><use href="#mk" x="449.59" y="301.28"/><use href="#mk" x="449.59" y="311.50"/><use href="#mk" x="449.59" y="321.72"/><use href="#mk" x="449.59" y="331.94"/><use href="#mk" x="449.59" y="342.16"/><use href="#mk" x="449.59" y="352.38"/><use href="#mk" x="449.59" y="362.60"/><use href="#mk" x="449.59" y="372.82"/><use href="#mk" x="449.59" y="383.04"/><use href="#mk" x="449.59" y="393.26"/><use href="#mk" x="449.59" y="403.48"/><use href="#mk" x="449.59" y="413.70"/><use href="#mk" x="449.59" y="423.92"/><use href="#mk" x="449.59" y="434.14"/><use href="#mk" x="458.86" y="296.17"/><use href="#mk" x="458.86" y="306.39"/><use href="#mk" x="458.86" y="316.61"/><use href="#mk" x="458.86" y="326.83"/><use href="#mk" x="458.86" y="337.05"/><use href="#mk" x="458.86" y="347.27"/><use href="#mk" x="458.86" y="357.49"/><use href="#mk" x="458.86" y="367.71"/><use href="#mk" x="458.86" y="377.93"/><use href="#mk" x="458.86" y="388.15"/><use href="#mk" x="458.86" y="398.37"/><use href="#mk" x="458.86" y="408.59"/><use href="#mk" x="458.86" y="418.81"/><use href="#mk" x="458.86" y="429.03"/><use href="#mk" x="468.13" y="301.28"/><use href="#mk" x="468.13" y="311.50"/><use href="#mk" x="468.13" y="321.72"/><use href="#mk" x="468.13" y="331.94"/><use href="#mk" x="468.13" y="342.16"/><use href="#mk" x="468.13" y="352.38"/><use href="#mk" x="468.13" y="362.60"/><use href="#mk" x="468.13" y="372.82"/><use href="#mk" x="468.13" y="383.04"/><use href="#mk" x="468.13" y="393.26"/><use href="#mk" x="468.13" y="403.48"/><use href="#mk" x="468.13" y="413.70"/><use href="#mk" x="468.13" y="423.92"/><use href="#mk" x="477.40" y="306.39"/><use href="#mk" x="477.40" y="316.61"/><use href="#mk" x="477.40" y="326.83"/><use href="#mk" x="477.40" y="337.05"/><use href="#mk" x="477.40" y="347.27"/><use href="#mk" x="477.40" y="357.49"/><use href="#mk" x="477.40" y="367.71"/><use href="#mk" x="477.40" y="377.93"/><use href="#mk" x="477.40" y="388.15"/><use href="#mk" x="477.40" y="398.37"/><use href="#mk" x="477.40" y="408.59"/><use href="#mk" x="477.40" y="418.81"/><use href="#mk" x="486.67" y="311.50"/><use href="#mk" x="486.67" y="321.72"/><use href="#mk" x="486.67" y="331.94"/><use href="#mk" x="486.67" y="342.16"/><use href="#mk" x="486.67" y="352.38"/><use href="#mk" x="486.67" y="362.60"/><use href="#mk" x="486.67" y="372.82"/><use href="#mk" x="486.67" y="383.04"/><use href="#mk" x="486.67" y="393.26"/><use href="#mk" x="486.67" y="403.48"/><use href="#mk" x="486.67" y="413.70"/><use href="#mk" x="495.94" y="316.61"/><use href="#mk" x="495.94" y="326.83"/><use href="#mk" x="495.94" y="337.05"/><use href="#mk" x="495.94" y="347.27"/><use href="#mk" x="495.94" y="357.49"/><use href="#mk" x="495.94" y="367.71"/><use href="#mk" x="495.94" y="377.93"/><use href="#mk" x="495.94" y="388.15"/><use href="#mk" x="495.94" y="398.37"/><use href="#mk" x="495.94" y="408.59"/><use href="#mk" x="505.21" y="321.72"/><use href="#mk" x="505.21" y="331.94"/><use href="#mk" x="505.21" y="342.16"/><use href="#mk" x="505.21" y="352.38"/><use href="#mk" x="505.21" y="362.60"/><use href="#mk" x="505.21" y="372.82"/><use href="#mk" x="505.21" y="383.04"/><use href="#mk" x="505.21" y="393.26"/><use href="#mk" x="505.21" y="403.48"/></g>
<path d="M398.36 255.21 L397.79 254.10 L396.05 253.54 L394.90 253.54 L393.16 254.10 L392.01 255.76 L391.43 258.54 L391.43 261.31 L392.01 263.53 L393.16 264.64 L394.90 265.20 L395.47 265.20 L397.21 264.64 L398.36 263.53 L398.94 261.87 L398.94 261.31 L398.36 259.65 L397.21 258.54 L395.47 257.99 L394.90 257.99 L393.16 258.54 L392.01 259.65 L391.43 261.31 M405.88 253.54 L404.14 254.10 L402.99 255.76 L402.41 258.54 L402.41 260.20 L402.99 262.98 L404.14 264.64 L405.88 265.20 L407.03 265.20 L408.77 264.64 L409.92 262.98 L410.50 260.20 L410.50 258.54 L409.92 255.76 L408.77 254.10 L407.03 253.54 L405.88 253.54 M423.80 253.54 L423.80 265.20 M423.80 253.54 L428.42 265.20 M433.04 253.54 L428.42 265.20 M433.04 253.54 L433.04 265.20 M437.67 253.54 L437.67 265.20 M445.76 253.54 L445.76 265.20 M437.67 259.09 L445.76 259.09 M456.16 257.43 L449.81 265.20 M449.81 257.43 L456.16 257.43 M449.81 265.20 L456.16 265.20 M379.17 482.68 L377.99 483.24 L376.82 484.34 L376.24 485.45 L375.65 487.12 L375.65 488.78 L376.24 489.89 L377.41 490.45 L378.58 490.45 L379.75 489.89 L381.51 488.23 L382.68 486.56 L383.85 484.34 L384.44 482.68 M379.17 482.68 L380.34 482.68 L380.92 483.24 L381.51 484.34 L382.68 488.78 L383.27 489.89 L383.85 490.45 L384.44 490.45 M389.71 489.89 L389.13 490.45 L388.54 489.89 L389.13 489.34 L389.71 489.89 L389.71 491.00 L389.13 492.12 L388.54 492.67 M410.22 478.79 L410.22 490.45 M410.22 484.34 L409.05 483.24 L407.88 482.68 L406.12 482.68 L404.95 483.24 L403.78 484.34 L403.19 486.01 L403.19 487.12 L403.78 488.78 L404.95 489.89 L406.12 490.45 L407.88 490.45 L409.05 489.89 L410.22 488.78 M414.33 486.01 L421.36 486.01 L421.36 484.90 L420.77 483.79 L420.19 483.24 L419.01 482.68 L417.26 482.68 L416.08 483.24 L414.91 484.34 L414.33 486.01 L414.33 487.12 L414.91 488.78 L416.08 489.89 L417.26 490.45 L419.01 490.45 L420.19 489.89 L421.36 488.78 M431.91 482.68 L431.91 491.56 L431.32 493.22 L430.73 493.78 L429.56 494.33 L427.80 494.33 L426.63 493.78 M431.91 484.34 L430.73 483.24 L429.56 482.68 L427.80 482.68 L426.63 483.24 L425.46 484.34 L424.87 486.01 L424.87 487.12 L425.46 488.78 L426.63 489.89 L427.80 490.45 L429.56 490.45 L430.73 489.89 L431.91 488.78 M436.59 482.68 L436.59 490.45 M436.59 486.01 L437.18 484.34 L438.35 483.24 L439.52 482.68 L441.28 482.68 M443.63 486.01 L450.66 486.01 L450.66 484.90 L450.07 483.79 L449.49 483.24 L448.31 482.68 L446.56 482.68 L445.38 483.24 L444.21 484.34 L443.63 486.01 L443.63 487.12 L444.21 488.78 L445.38 489.89 L446.56 490.45 L448.31 490.45 L449.49 489.89 L450.66 488.78 M454.17 486.01 L461.21 486.01 L461.21 484.90 L460.62 483.79 L460.03 483.24 L458.86 482.68 L457.10 482.68 L455.93 483.24 L454.76 484.34 L454.17 486.01 L454.17 487.12 L454.76 488.78 L455.93 489.89 L457.10 490.45 L458.86 490.45 L460.03 489.89 L461.21 488.78 M471.17 484.34 L470.58 483.24 L468.82 482.68 L467.07 482.68 L465.31 483.24 L464.72 484.34 L465.31 485.45 L466.48 486.01 L469.41 486.56 L470.58 487.12 L471.17 488.23 L471.17 488.78 L470.58 489.89 L468.82 490.45 L467.07 490.45 L465.31 489.89 L464.72 488.78 M283.28 409.04 L283.84 410.80 L284.94 411.97 L286.61 412.56 L288.28 412.56 L289.94 411.97 L290.50 411.38 L291.05 410.21 L291.05 409.04 L290.50 407.87 L289.38 406.70 L287.72 406.11 L286.06 406.11 L284.39 406.70 L283.28 407.87 L282.17 409.04 L281.06 409.63 L279.95 409.63 L279.39 409.04 L279.39 407.87 L279.95 406.70 L281.06 405.52 M290.50 400.84 L291.05 401.42 L290.50 402.01 L289.94 401.42 L290.50 400.84 L291.61 400.84 L292.72 401.42 L293.27 402.01 M279.39 380.33 L291.05 380.33 M284.94 380.33 L283.84 381.50 L283.28 382.67 L283.28 384.43 L283.84 385.60 L284.94 386.77 L286.61 387.36 L287.72 387.36 L289.38 386.77 L290.50 385.60 L291.05 384.43 L291.05 382.67 L290.50 381.50 L289.38 380.33 M286.61 376.22 L286.61 369.19 L285.50 369.19 L284.39 369.78 L283.84 370.36 L283.28 371.54 L283.28 373.29 L283.84 374.47 L284.94 375.64 L286.61 376.22 L287.72 376.22 L289.38 375.64 L290.50 374.47 L291.05 373.29 L291.05 371.54 L290.50 370.36 L289.38 369.19 M283.28 358.64 L292.16 358.64 L293.82 359.23 L294.38 359.82 L294.94 360.99 L294.94 362.75 L294.38 363.92 M284.94 358.64 L283.84 359.82 L283.28 360.99 L283.28 362.75 L283.84 363.92 L284.94 365.09 L286.61 365.68 L287.72 365.68 L289.38 365.09 L290.50 363.92 L291.05 362.75 L291.05 360.99 L290.50 359.82 L289.38 358.64 M283.28 353.96 L291.05 353.96 M286.61 353.96 L284.94 353.37 L283.84 352.20 L283.28 351.03 L283.28 349.27 M286.61 346.92 L286.61 339.89 L285.50 339.89 L284.39 340.48 L283.84 341.06 L283.28 342.24 L283.28 343.99 L283.84 345.17 L284.94 346.34 L286.61 346.92 L287.72 346.92 L289.38 346.34 L290.50 345.17 L291.05 343.99 L291.05 342.24 L290.50 341.06 L289.38 339.89 M286.61 336.38 L286.61 329.34 L285.50 329.34 L284.39 329.93 L283.84 330.52 L283.28 331.69 L283.28 333.45 L283.84 334.62 L284.94 335.79 L286.61 336.38 L287.72 336.38 L289.38 335.79 L290.50 334.62 L291.05 333.45 L291.05 331.69 L290.50 330.52 L289.38 329.34 M284.94 319.38 L283.84 319.97 L283.28 321.73 L283.28 323.48 L283.84 325.24 L284.94 325.83 L286.06 325.24 L286.61 324.07 L287.17 321.14 L287.72 319.97 L288.83 319.38 L289.38 319.38 L290.50 319.97 L291.05 321.73 L291.05 323.48 L290.50 325.24 L289.38 325.83" stroke="#b4b4b4" stroke-width="0.85" fill="none" stroke-linecap="round" stroke-linejoin="round"/>
<path d="M303.86 273.76 L303.86 273.35 L304.27 272.52 L304.69 272.10 L305.52 271.69 L307.18 271.69 L308.01 272.10 L308.43 272.52 L308.84 273.35 L308.84 274.18 L308.43 275.01 L307.59 276.25 L303.44 280.40 L309.25 280.40 M312.16 273.76 L312.16 273.35 L312.57 272.52 L312.99 272.10 L313.82 271.69 L315.48 271.69 L316.31 272.10 L316.72 272.52 L317.14 273.35 L317.14 274.18 L316.72 275.01 L315.89 276.25 L311.75 280.40 L317.56 280.40 M320.88 279.49 L320.38 279.99 L320.88 280.48 L321.37 279.99 L320.88 279.49 M320.46 279.99 L321.29 279.99 M320.88 280.40 L320.88 279.57 M329.59 274.59 L329.18 275.84 L328.34 276.67 L327.10 277.08 L326.69 277.08 L325.44 276.67 L324.61 275.84 L324.19 274.59 L324.19 274.18 L324.61 272.93 L325.44 272.10 L326.69 271.69 L327.10 271.69 L328.34 272.10 L329.18 272.93 L329.59 274.59 L329.59 276.67 L329.18 278.74 L328.34 279.99 L327.10 280.40 L326.27 280.40 L325.02 279.99 L324.61 279.16 M303.86 329.99 L303.86 329.58 L304.27 328.75 L304.69 328.33 L305.52 327.92 L307.18 327.92 L308.01 328.33 L308.43 328.75 L308.84 329.58 L308.84 330.41 L308.43 331.24 L307.59 332.48 L303.44 336.63 L309.25 336.63 M312.16 329.99 L312.16 329.58 L312.57 328.75 L312.99 328.33 L313.82 327.92 L315.48 327.92 L316.31 328.33 L316.72 328.75 L317.14 329.58 L317.14 330.41 L316.72 331.24 L315.89 332.48 L311.75 336.63 L317.56 336.63 M320.88 335.72 L320.38 336.22 L320.88 336.72 L321.37 336.22 L320.88 335.72 M320.46 336.22 L321.29 336.22 M320.88 336.63 L320.88 335.80 M325.02 327.92 L329.59 327.92 L327.10 331.24 L328.34 331.24 L329.18 331.65 L329.59 332.07 L330.00 333.31 L330.00 334.14 L329.59 335.39 L328.76 336.22 L327.51 336.63 L326.27 336.63 L325.02 336.22 L324.61 335.80 L324.19 334.97 M303.86 389.83 L303.86 389.41 L304.27 388.58 L304.69 388.17 L305.52 387.75 L307.18 387.75 L308.01 388.17 L308.43 388.58 L308.84 389.41 L308.84 390.24 L308.43 391.07 L307.59 392.32 L303.44 396.47 L309.25 396.47 M312.99 389.41 L313.82 389.00 L315.06 387.75 L315.06 396.47 M320.88 395.55 L320.38 396.05 L320.88 396.55 L321.37 396.05 L320.88 395.55 M320.46 396.05 L321.29 396.05 M320.88 396.47 L320.88 395.64 M330.00 387.75 L325.85 396.47 M324.19 387.75 L330.00 387.75 M303.86 444.66 L303.86 444.25 L304.27 443.42 L304.69 443.00 L305.52 442.59 L307.18 442.59 L308.01 443.00 L308.43 443.42 L308.84 444.25 L308.84 445.07 L308.43 445.91 L307.59 447.15 L303.44 451.30 L309.25 451.30 M312.99 444.25 L313.82 443.83 L315.06 442.59 L315.06 451.30 M320.88 450.39 L320.38 450.88 L320.88 451.38 L321.37 450.88 L320.88 450.39 M320.46 450.88 L321.29 450.88 M320.88 451.30 L320.88 450.47 M325.44 444.25 L326.27 443.83 L327.51 442.59 L327.51 451.30 M323.85 461.24 L322.60 461.65 L322.19 462.48 L322.19 463.31 L322.60 464.14 L323.43 464.56 L325.09 464.97 L326.34 465.38 L327.17 466.21 L327.58 467.05 L327.58 468.29 L327.17 469.12 L326.75 469.53 L325.51 469.95 L323.85 469.95 L322.60 469.53 L322.19 469.12 L321.77 468.29 L321.77 467.05 L322.19 466.21 L323.02 465.38 L324.26 464.97 L325.92 464.56 L326.75 464.14 L327.17 463.31 L327.17 462.48 L326.75 461.65 L325.51 461.24 L323.85 461.24 M334.22 461.24 L330.07 467.05 L336.30 467.05 M334.22 461.24 L334.22 469.95 M339.20 469.04 L338.70 469.53 L339.20 470.03 L339.70 469.53 L339.20 469.04 M338.79 469.53 L339.62 469.53 M339.20 469.95 L339.20 469.12 M347.92 462.48 L347.50 461.65 L346.26 461.24 L345.43 461.24 L344.18 461.65 L343.35 462.89 L342.94 464.97 L342.94 467.05 L343.35 468.70 L344.18 469.53 L345.43 469.95 L345.84 469.95 L347.09 469.53 L347.92 468.70 L348.33 467.46 L348.33 467.05 L347.92 465.80 L347.09 464.97 L345.84 464.56 L345.43 464.56 L344.18 464.97 L343.35 465.80 L342.94 467.05 M383.18 461.24 L381.93 461.65 L381.52 462.48 L381.52 463.31 L381.93 464.14 L382.76 464.56 L384.42 464.97 L385.67 465.38 L386.50 466.21 L386.91 467.05 L386.91 468.29 L386.50 469.12 L386.08 469.53 L384.84 469.95 L383.18 469.95 L381.93 469.53 L381.52 469.12 L381.10 468.29 L381.10 467.05 L381.52 466.21 L382.35 465.38 L383.59 464.97 L385.25 464.56 L386.08 464.14 L386.50 463.31 L386.50 462.48 L386.08 461.65 L384.84 461.24 L383.18 461.24 M393.55 461.24 L389.40 467.05 L395.63 467.05 M393.55 461.24 L393.55 469.95 M398.53 469.04 L398.04 469.53 L398.53 470.03 L399.03 469.53 L398.53 469.04 M398.12 469.53 L398.95 469.53 M398.53 469.95 L398.53 469.12 M404.34 461.24 L403.10 461.65 L402.27 462.89 L401.85 464.97 L401.85 466.21 L402.27 468.29 L403.10 469.53 L404.34 469.95 L405.17 469.95 L406.42 469.53 L407.25 468.29 L407.66 466.21 L407.66 464.97 L407.25 462.89 L406.42 461.65 L405.17 461.24 L404.34 461.24 M442.30 461.24 L441.06 461.65 L440.64 462.48 L440.64 463.31 L441.06 464.14 L441.89 464.56 L443.55 464.97 L444.79 465.38 L445.62 466.21 L446.04 467.05 L446.04 468.29 L445.62 469.12 L445.21 469.53 L443.96 469.95 L442.30 469.95 L441.06 469.53 L440.64 469.12 L440.23 468.29 L440.23 467.05 L440.64 466.21 L441.47 465.38 L442.72 464.97 L444.38 464.56 L445.21 464.14 L445.62 463.31 L445.62 462.48 L445.21 461.65 L443.96 461.24 L442.30 461.24 M449.36 461.24 L453.92 461.24 L451.43 464.56 L452.68 464.56 L453.51 464.97 L453.92 465.38 L454.34 466.63 L454.34 467.46 L453.92 468.70 L453.09 469.53 L451.85 469.95 L450.60 469.95 L449.36 469.53 L448.94 469.12 L448.53 468.29 M457.66 469.04 L457.16 469.53 L457.66 470.03 L458.16 469.53 L457.66 469.04 M457.24 469.53 L458.07 469.53 M457.66 469.95 L457.66 469.12 M465.13 461.24 L460.98 467.05 L467.20 467.05 M465.13 461.24 L465.13 469.95 M501.85 461.24 L500.60 461.65 L500.19 462.48 L500.19 463.31 L500.60 464.14 L501.43 464.56 L503.09 464.97 L504.34 465.38 L505.17 466.21 L505.58 467.05 L505.58 468.29 L505.17 469.12 L504.75 469.53 L503.51 469.95 L501.85 469.95 L500.60 469.53 L500.19 469.12 L499.77 468.29 L499.77 467.05 L500.19 466.21 L501.02 465.38 L502.26 464.97 L503.92 464.56 L504.75 464.14 L505.17 463.31 L505.17 462.48 L504.75 461.65 L503.51 461.24 L501.85 461.24 M508.49 463.31 L508.49 462.89 L508.90 462.06 L509.32 461.65 L510.15 461.24 L511.81 461.24 L512.64 461.65 L513.05 462.06 L513.47 462.89 L513.47 463.72 L513.05 464.56 L512.22 465.80 L508.07 469.95 L513.88 469.95 M517.20 469.04 L516.70 469.53 L517.20 470.03 L517.70 469.53 L517.20 469.04 M516.79 469.53 L517.62 469.53 M517.20 469.95 L517.20 469.12 M522.60 461.24 L521.35 461.65 L520.94 462.48 L520.94 463.31 L521.35 464.14 L522.18 464.56 L523.84 464.97 L525.09 465.38 L525.92 466.21 L526.33 467.05 L526.33 468.29 L525.92 469.12 L525.50 469.53 L524.26 469.95 L522.60 469.95 L521.35 469.53 L520.94 469.12 L520.52 468.29 L520.52 467.05 L520.94 466.21 L521.77 465.38 L523.01 464.97 L524.67 464.56 L525.50 464.14 L525.92 463.31 L525.92 462.48 L525.50 461.65 L524.26 461.24 L522.60 461.24" stroke="#7e7e7e" stroke-width="0.85" fill="none" stroke-linecap="round" stroke-linejoin="round"/>
</svg></body></html>
